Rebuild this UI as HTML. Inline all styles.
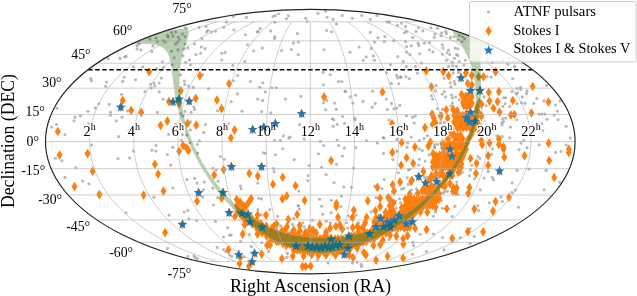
<!DOCTYPE html>
<html><head><meta charset="utf-8"><style>html,body{margin:0;padding:0;background:#fff;}svg{display:block;will-change:transform;}</style></head><body>
<svg xmlns="http://www.w3.org/2000/svg" width="637" height="296" viewBox="0 0 637 296">
<defs><clipPath id="c"><path d="M45.5,141.6 A264.8,132.2 0 1,0 575.1,141.6 A264.8,132.2 0 1,0 45.5,141.6 Z"/></clipPath><clipPath id="bc"><path d="M167.4,30.3 L163.9,31.4 L160.5,32.6 L157.1,33.8 L153.9,34.9 L150.7,36.1 L147.5,37.3 L144.4,38.5 L141.4,39.8 L138.5,41 L135.5,42.3 L132.7,43.5 L129.9,44.8 L130,44.8 L131.2,44.7 L132.3,44.6 L133.5,44.4 L134.6,44.3 L135.8,44.2 L136.9,44.1 L137.9,44.1 L139,44 L140,43.9 L141.1,43.9 L142.1,43.9 L143,43.8 L144,43.8 L144.9,43.8 L145.8,43.8 L146.7,43.9 L147.6,43.9 L148.5,43.9 L149.3,44 L150.1,44 L150.9,44.1 L151.6,44.2 L152.4,44.3 L153.1,44.4 L153.8,44.5 L154.5,44.6 L155.2,44.7 L155.8,44.9 L156.4,45 L157,45.2 L157.6,45.3 L158.2,45.5 L158.8,45.7 L159.3,45.9 L159.8,46.1 L160.3,46.3 L160.8,46.6 L161.2,46.8 L161.7,47 L162.1,47.3 L162.5,47.6 L162.9,47.8 L163.3,48.1 L163.7,48.4 L164.1,48.7 L164.4,49 L164.7,49.3 L165.1,49.6 L165.4,50 L165.7,50.3 L166,50.7 L166.2,51 L166.5,51.4 L166.8,51.8 L167,52.1 L167.2,52.5 L167.5,52.9 L167.7,53.3 L167.9,53.7 L168.1,54.2 L168.3,54.6 L168.5,55 L168.6,55.4 L168.8,55.9 L169,56.3 L169.1,56.8 L169.3,57.3 L169.4,57.7 L169.5,58.2 L169.7,58.7 L169.8,59.2 L169.9,59.7 L170.1,60.2 L170.2,60.7 L170.3,61.2 L170.4,61.7 L170.5,62.2 L170.6,62.8 L170.7,63.3 L170.8,63.8 L170.9,64.4 L171,64.9 L171.1,65.5 L171.1,66 L171.2,66.6 L171.3,67.2 L171.4,67.7 L171.5,68.3 L171.6,68.9 L171.6,69.5 L171.7,70.1 L171.8,70.7 L171.9,71.3 L171.9,71.9 L172,72.5 L172.1,73.1 L172.2,73.7 L172.2,74.4 L172.3,75 L172.4,75.6 L172.5,76.3 L172.5,76.9 L172.6,77.5 L172.7,78.2 L172.8,78.8 L172.9,79.5 L172.9,80.1 L173,80.8 L173.1,81.5 L173.2,82.1 L173.3,82.8 L173.4,83.5 L173.5,84.2 L173.5,84.8 L173.6,85.5 L173.7,86.2 L173.8,86.9 L173.9,87.6 L174,88.3 L174.1,89 L174.2,89.7 L174.3,90.4 L174.4,91.1 L174.6,91.8 L174.7,92.5 L174.8,93.2 L174.9,94 L175,94.7 L175.2,95.4 L175.3,96.1 L175.4,96.9 L175.5,97.6 L175.7,98.3 L175.8,99 L176,99.8 L176.1,100.5 L176.3,101.3 L176.4,102 L176.6,102.8 L176.7,103.5 L176.9,104.2 L177,105 L177.2,105.7 L177.4,106.5 L177.5,107.3 L177.7,108 L177.9,108.8 L178.1,109.5 L178.3,110.3 L178.4,111.1 L178.6,111.8 L178.8,112.6 L179,113.4 L179.2,114.1 L179.4,114.9 L179.6,115.7 L179.9,116.5 L180.1,117.2 L180.3,118 L180.5,118.8 L180.7,119.6 L181,120.4 L181.2,121.1 L181.5,121.9 L181.7,122.7 L181.9,123.5 L182.2,124.3 L182.4,125.1 L182.7,125.9 L183,126.7 L183.2,127.5 L183.5,128.2 L183.8,129 L184,129.8 L184.3,130.6 L184.6,131.4 L184.9,132.2 L185.2,133 L185.5,133.8 L185.8,134.6 L186.1,135.4 L186.4,136.2 L186.7,137 L187,137.8 L187.3,138.6 L187.7,139.4 L188,140.2 L188.3,141 L188.6,141.8 L189,142.6 L189.3,143.4 L189.7,144.2 L190,145 L190.4,145.8 L190.7,146.6 L191.1,147.4 L191.5,148.2 L191.8,149.1 L192.2,149.9 L192.6,150.7 L193,151.5 L193.4,152.3 L193.7,153.1 L194.1,153.9 L194.5,154.7 L194.9,155.5 L195.4,156.3 L195.8,157.1 L196.2,157.9 L196.6,158.7 L197,159.5 L197.5,160.3 L197.9,161.1 L198.3,161.9 L198.8,162.7 L199.2,163.5 L199.7,164.3 L200.1,165.1 L200.6,165.9 L201,166.7 L201.5,167.5 L202,168.3 L202.4,169.1 L202.9,169.9 L203.4,170.7 L203.9,171.5 L204.4,172.3 L204.9,173 L205.4,173.8 L205.9,174.6 L206.4,175.4 L206.9,176.2 L207.4,177 L207.9,177.8 L208.4,178.6 L209,179.3 L209.5,180.1 L210,180.9 L210.6,181.7 L211.1,182.5 L211.7,183.2 L212.2,184 L212.8,184.8 L213.3,185.6 L213.9,186.3 L214.5,187.1 L215.1,187.9 L215.6,188.6 L216.2,189.4 L216.8,190.2 L217.4,190.9 L218,191.7 L218.6,192.4 L219.2,193.2 L219.8,193.9 L220.4,194.7 L221,195.4 L221.6,196.2 L222.3,196.9 L222.9,197.7 L223.5,198.4 L224.2,199.2 L224.8,199.9 L225.5,200.6 L226.1,201.4 L226.8,202.1 L227.4,202.8 L228.1,203.6 L228.7,204.3 L229.4,205 L230.1,205.7 L230.8,206.4 L231.5,207.2 L232.1,207.9 L232.8,208.6 L233.5,209.3 L234.2,210 L234.9,210.7 L235.6,211.4 L236.4,212.1 L237.1,212.8 L237.8,213.5 L238.5,214.2 L239.2,214.8 L240,215.5 L240.7,216.2 L241.5,216.9 L242.2,217.5 L243,218.2 L243.7,218.9 L244.5,219.5 L245.2,220.2 L246,220.8 L246.8,221.5 L247.6,222.1 L248.3,222.8 L249.1,223.4 L249.9,224 L250.7,224.7 L251.5,225.3 L252.3,225.9 L253.1,226.5 L253.9,227.2 L254.7,227.8 L255.5,228.4 L256.4,229 L257.2,229.6 L258,230.1 L258.9,230.7 L259.7,231.3 L260.5,231.9 L261.4,232.5 L262.2,233 L263.1,233.6 L263.9,234.1 L264.8,234.7 L265.7,235.2 L266.5,235.8 L267.4,236.3 L268.3,236.8 L269.2,237.4 L270.1,237.9 L270.9,238.4 L271.8,238.9 L272.7,239.4 L273.6,239.9 L274.5,240.4 L275.4,240.8 L276.4,241.3 L277.3,241.8 L278.2,242.2 L279.1,242.7 L280,243.1 L281,243.6 L281.9,244 L282.8,244.4 L283.8,244.8 L284.7,245.2 L285.7,245.6 L286.6,246 L287.6,246.4 L288.5,246.7 L289.5,247.1 L290.4,247.4 L291.4,247.8 L292.4,248.1 L293.3,248.4 L294.3,248.8 L295.3,249.1 L296.3,249.3 L297.3,249.6 L298.2,249.9 L299.2,250.2 L300.2,250.4 L301.2,250.6 L302.2,250.9 L303.2,251.1 L304.2,251.3 L305.2,251.5 L306.2,251.7 L307.2,251.8 L308.3,252 L309.3,252.1 L310.3,252.3 L311.3,252.4 L312.3,252.5 L313.4,252.6 L314.4,252.7 L315.4,252.7 L316.5,252.8 L317.5,252.8 L318.6,252.9 L319.6,252.9 L320.7,252.9 L321.7,252.9 L322.8,252.9 L323.8,252.8 L324.9,252.8 L325.9,252.7 L327,252.7 L328.1,252.6 L329.1,252.5 L330.2,252.4 L331.3,252.2 L332.4,252.1 L333.5,252 L334.5,251.8 L335.6,251.6 L336.7,251.4 L337.8,251.2 L338.9,251 L340,250.8 L341.1,250.6 L342.2,250.3 L343.3,250.1 L344.4,249.8 L345.4,249.6 L346.5,249.3 L347.6,249 L348.7,248.7 L349.8,248.4 L350.9,248 L352,247.7 L353.1,247.4 L354.2,247 L355.3,246.6 L356.4,246.3 L357.5,245.9 L358.6,245.5 L359.7,245.1 L360.8,244.7 L361.8,244.3 L362.9,243.9 L364,243.4 L365.1,243 L366.2,242.6 L367.2,242.1 L368.3,241.6 L369.4,241.2 L370.4,240.7 L371.5,240.2 L372.6,239.7 L373.6,239.3 L374.7,238.8 L375.7,238.2 L376.8,237.7 L377.8,237.2 L378.8,236.7 L379.9,236.2 L380.9,235.6 L381.9,235.1 L382.9,234.5 L384,234 L385,233.4 L386,232.9 L387,232.3 L388,231.7 L389,231.2 L390,230.6 L390.9,230 L391.9,229.4 L392.9,228.8 L393.9,228.2 L394.8,227.6 L395.8,227 L396.7,226.4 L397.7,225.8 L398.6,225.1 L399.6,224.5 L400.5,223.9 L401.5,223.2 L402.4,222.6 L403.3,222 L404.2,221.3 L405.1,220.7 L406,220 L406.9,219.3 L407.8,218.7 L408.7,218 L409.6,217.4 L410.5,216.7 L411.4,216 L412.2,215.3 L413.1,214.7 L413.9,214 L414.8,213.3 L415.6,212.6 L416.5,211.9 L417.3,211.2 L418.1,210.5 L419,209.8 L419.8,209.1 L420.6,208.4 L421.4,207.7 L422.2,207 L423,206.3 L423.8,205.5 L424.6,204.8 L425.4,204.1 L426.2,203.4 L426.9,202.6 L427.7,201.9 L428.5,201.2 L429.2,200.4 L430,199.7 L430.7,199 L431.4,198.2 L432.2,197.5 L432.9,196.7 L433.6,196 L434.3,195.2 L435,194.5 L435.7,193.7 L436.4,193 L437.1,192.2 L437.8,191.5 L438.5,190.7 L439.2,189.9 L439.8,189.2 L440.5,188.4 L441.2,187.7 L441.8,186.9 L442.5,186.1 L443.1,185.3 L443.8,184.6 L444.4,183.8 L445,183 L445.6,182.2 L446.2,181.5 L446.9,180.7 L447.5,179.9 L448.1,179.1 L448.6,178.3 L449.2,177.6 L449.8,176.8 L450.4,176 L451,175.2 L451.5,174.4 L452.1,173.6 L452.6,172.8 L453.2,172 L453.7,171.2 L454.3,170.5 L454.8,169.7 L455.3,168.9 L455.8,168.1 L456.4,167.3 L456.9,166.5 L457.4,165.7 L457.9,164.9 L458.4,164.1 L458.8,163.3 L459.3,162.5 L459.8,161.7 L460.3,160.9 L460.7,160.1 L461.2,159.3 L461.6,158.5 L462.1,157.7 L462.5,156.9 L463,156.1 L463.4,155.3 L463.8,154.5 L464.2,153.7 L464.7,152.9 L465.1,152 L465.5,151.2 L465.9,150.4 L466.3,149.6 L466.6,148.8 L467,148 L467.4,147.2 L467.8,146.4 L468.1,145.6 L468.5,144.8 L468.9,144 L469.2,143.2 L469.5,142.4 L469.9,141.6 L470.2,140.8 L470.5,140 L470.9,139.2 L471.2,138.4 L471.5,137.6 L471.8,136.8 L472.1,136 L472.4,135.2 L472.7,134.4 L473,133.6 L473.3,132.8 L473.5,132 L473.8,131.2 L474.1,130.4 L474.3,129.6 L474.6,128.8 L474.8,128 L475.1,127.2 L475.3,126.4 L475.5,125.7 L475.8,124.9 L476,124.1 L476.2,123.3 L476.4,122.5 L476.6,121.7 L476.8,120.9 L477,120.2 L477.2,119.4 L477.4,118.6 L477.6,117.8 L477.8,117 L477.9,116.3 L478.1,115.5 L478.3,114.7 L478.4,113.9 L478.6,113.2 L478.7,112.4 L478.9,111.6 L479,110.9 L479.1,110.1 L479.3,109.3 L479.4,108.6 L479.5,107.8 L479.6,107.1 L479.7,106.3 L479.8,105.5 L480,104.8 L480.1,104 L480.1,103.3 L480.2,102.5 L480.3,101.8 L480.4,101.1 L480.5,100.3 L480.6,99.6 L480.6,98.8 L480.7,98.1 L480.7,97.4 L480.8,96.7 L480.9,95.9 L480.9,95.2 L481,94.5 L481,93.8 L481,93 L481.1,92.3 L481.1,91.6 L481.1,90.9 L481.1,90.2 L481.2,89.5 L481.2,88.8 L481.2,88.1 L481.2,87.4 L481.2,86.7 L481.2,86 L481.2,85.3 L481.2,84.7 L481.2,84 L481.2,83.3 L481.2,82.6 L481.2,82 L481.2,81.3 L481.2,80.6 L481.2,80 L481.1,79.3 L481.1,78.7 L481.1,78 L481.1,77.4 L481,76.7 L481,76.1 L481,75.5 L481,74.8 L480.9,74.2 L480.9,73.6 L480.9,73 L480.8,72.3 L480.8,71.7 L480.8,71.1 L480.7,70.5 L480.7,69.9 L480.7,69.3 L480.6,68.8 L480.6,68.2 L480.6,67.6 L480.5,67 L480.5,66.4 L480.5,65.9 L480.5,65.3 L480.4,64.8 L480.4,64.2 L480.4,63.7 L480.4,63.1 L480.4,62.6 L480.4,62.1 L480.4,61.6 L480.3,61 L480.3,60.5 L480.4,60 L480.4,59.5 L480.4,59 L480.4,58.6 L480.4,58.1 L480.4,57.6 L480.5,57.1 L480.5,56.7 L480.6,56.2 L480.6,55.8 L480.7,55.3 L480.8,54.9 L480.8,54.5 L480.9,54 L481,53.6 L481.1,53.2 L481.2,52.8 L481.4,52.4 L481.5,52 L481.6,51.7 L481.8,51.3 L482,50.9 L482.2,50.6 L482.3,50.2 L482.6,49.9 L482.8,49.6 L483,49.2 L483.3,48.9 L483.5,48.6 L483.8,48.3 L484.1,48 L484.4,47.8 L484.7,47.5 L485.1,47.2 L485.4,47 L485.8,46.7 L486.2,46.5 L486.6,46.3 L487.1,46.1 L487.5,45.9 L488,45.7 L488.5,45.5 L489,45.3 L489.6,45.1 L490.1,45 L491,45 L488.2,43.7 L485.4,42.4 L482.5,41.2 L479.6,39.9 L476.6,38.7 L473.5,37.5 L470.4,36.3 L467.2,35.1 L464,33.9 L460.6,32.8 L457.3,31.6 L453.8,30.5 L453.1,30.5 L453,30.7 L452.9,30.9 L452.9,31.1 L452.9,31.4 L452.9,31.6 L452.9,31.9 L453,32.1 L453,32.4 L453.2,32.7 L453.3,33 L453.4,33.3 L453.6,33.6 L453.7,33.9 L453.9,34.3 L454.1,34.6 L454.4,35 L454.6,35.3 L454.8,35.7 L455.1,36.1 L455.4,36.5 L455.6,36.9 L455.9,37.3 L456.2,37.7 L456.5,38.1 L456.8,38.6 L457.1,39 L457.4,39.5 L457.7,39.9 L458.1,40.4 L458.4,40.8 L458.7,41.3 L459,41.8 L459.4,42.3 L459.7,42.8 L460,43.3 L460.4,43.8 L460.7,44.3 L461,44.8 L461.4,45.4 L461.7,45.9 L462,46.4 L462.4,47 L462.7,47.5 L463,48.1 L463.4,48.6 L463.7,49.2 L464,49.8 L464.3,50.4 L464.7,50.9 L465,51.5 L465.3,52.1 L465.6,52.7 L465.9,53.3 L466.2,53.9 L466.5,54.5 L466.8,55.1 L467.1,55.7 L467.4,56.4 L467.7,57 L468,57.6 L468.2,58.3 L468.5,58.9 L468.8,59.5 L469,60.2 L469.3,60.8 L469.6,61.5 L469.8,62.1 L470,62.8 L470.3,63.5 L470.5,64.1 L470.8,64.8 L471,65.5 L471.2,66.1 L471.4,66.8 L471.6,67.5 L471.8,68.2 L472,68.9 L472.2,69.6 L472.4,70.3 L472.6,71 L472.8,71.7 L473,72.4 L473.2,73.1 L473.3,73.8 L473.5,74.5 L473.6,75.2 L473.8,75.9 L473.9,76.6 L474.1,77.4 L474.2,78.1 L474.3,78.8 L474.5,79.5 L474.6,80.3 L474.7,81 L474.8,81.7 L474.9,82.5 L475,83.2 L475.1,84 L475.2,84.7 L475.2,85.4 L475.3,86.2 L475.4,86.9 L475.4,87.7 L475.5,88.4 L475.5,89.2 L475.6,90 L475.6,90.7 L475.7,91.5 L475.7,92.2 L475.7,93 L475.7,93.8 L475.7,94.5 L475.7,95.3 L475.7,96.1 L475.7,96.8 L475.7,97.6 L475.7,98.4 L475.7,99.2 L475.7,99.9 L475.6,100.7 L475.6,101.5 L475.5,102.3 L475.5,103.1 L475.4,103.8 L475.4,104.6 L475.3,105.4 L475.2,106.2 L475.1,107 L475.1,107.8 L475,108.6 L474.9,109.4 L474.8,110.1 L474.6,110.9 L474.5,111.7 L474.4,112.5 L474.3,113.3 L474.2,114.1 L474,114.9 L473.9,115.7 L473.7,116.5 L473.6,117.3 L473.4,118.1 L473.2,118.9 L473.1,119.7 L472.9,120.5 L472.7,121.3 L472.5,122.1 L472.3,122.9 L472.1,123.7 L471.9,124.5 L471.7,125.3 L471.5,126.1 L471.2,126.9 L471,127.7 L470.8,128.5 L470.5,129.3 L470.3,130.1 L470,130.9 L469.8,131.7 L469.5,132.5 L469.2,133.3 L469,134.1 L468.7,134.9 L468.4,135.7 L468.1,136.5 L467.8,137.3 L467.5,138.1 L467.2,138.9 L466.9,139.7 L466.5,140.6 L466.2,141.4 L465.9,142.2 L465.5,143 L465.2,143.8 L464.8,144.6 L464.5,145.4 L464.1,146.1 L463.8,146.9 L463.4,147.7 L463,148.5 L462.6,149.3 L462.2,150.1 L461.8,150.9 L461.4,151.7 L461,152.5 L460.6,153.3 L460.2,154.1 L459.8,154.9 L459.4,155.7 L458.9,156.5 L458.5,157.3 L458,158 L457.6,158.8 L457.1,159.6 L456.7,160.4 L456.2,161.2 L455.7,162 L455.2,162.7 L454.8,163.5 L454.3,164.3 L453.8,165.1 L453.3,165.8 L452.8,166.6 L452.3,167.4 L451.7,168.2 L451.2,168.9 L450.7,169.7 L450.1,170.5 L449.6,171.2 L449.1,172 L448.5,172.7 L448,173.5 L447.4,174.3 L446.8,175 L446.3,175.8 L445.7,176.5 L445.1,177.3 L444.5,178 L443.9,178.8 L443.3,179.5 L442.7,180.3 L442.1,181 L441.5,181.7 L440.9,182.5 L440.2,183.2 L439.6,183.9 L439,184.7 L438.3,185.4 L437.7,186.1 L437,186.8 L436.4,187.6 L435.7,188.3 L435.1,189 L434.4,189.7 L433.7,190.4 L433,191.1 L432.3,191.8 L431.6,192.5 L430.9,193.2 L430.2,193.9 L429.5,194.6 L428.8,195.3 L428.1,196 L427.4,196.7 L426.6,197.3 L425.9,198 L425.2,198.7 L424.4,199.4 L423.7,200 L422.9,200.7 L422.1,201.3 L421.4,202 L420.6,202.7 L419.8,203.3 L419,204 L418.3,204.6 L417.5,205.2 L416.7,205.9 L415.9,206.5 L415.1,207.1 L414.2,207.7 L413.4,208.4 L412.6,209 L411.8,209.6 L410.9,210.2 L410.1,210.8 L409.2,211.4 L408.4,212 L407.5,212.6 L406.7,213.2 L405.8,213.7 L404.9,214.3 L404.1,214.9 L403.2,215.5 L402.3,216 L401.4,216.6 L400.5,217.1 L399.6,217.7 L398.7,218.2 L397.8,218.7 L396.8,219.3 L395.9,219.8 L395,220.3 L394,220.8 L393.1,221.3 L392.1,221.8 L391.2,222.3 L390.2,222.8 L389.3,223.3 L388.3,223.8 L387.3,224.2 L386.3,224.7 L385.3,225.2 L384.3,225.6 L383.3,226.1 L382.3,226.5 L381.3,226.9 L380.3,227.4 L379.2,227.8 L378.2,228.2 L377.1,228.6 L376.1,229 L375,229.4 L373.9,229.8 L372.9,230.1 L371.8,230.5 L370.7,230.9 L369.6,231.2 L368.5,231.5 L367.3,231.9 L366.2,232.2 L365.1,232.5 L363.9,232.8 L362.8,233.1 L361.6,233.4 L360.5,233.7 L359.3,234 L358.1,234.3 L356.9,234.5 L355.7,234.8 L354.5,235 L353.3,235.3 L352,235.5 L350.8,235.7 L349.6,235.9 L348.3,236.1 L347.1,236.3 L345.8,236.4 L344.5,236.6 L343.2,236.8 L341.9,236.9 L340.6,237.1 L339.3,237.2 L338,237.3 L336.7,237.4 L335.4,237.5 L334.1,237.6 L332.8,237.7 L331.4,237.7 L330.1,237.8 L328.8,237.8 L327.4,237.9 L326.1,237.9 L324.8,237.9 L323.4,237.9 L322.1,237.9 L320.8,237.9 L319.4,237.9 L318.1,237.9 L316.8,237.8 L315.5,237.8 L314.2,237.7 L312.9,237.6 L311.6,237.5 L310.3,237.4 L309,237.3 L307.7,237.2 L306.5,237.1 L305.2,237 L304,236.8 L302.7,236.7 L301.5,236.5 L300.3,236.3 L299.1,236.1 L297.9,235.9 L296.7,235.7 L295.5,235.5 L294.3,235.3 L293.2,235.1 L292,234.8 L290.9,234.6 L289.8,234.3 L288.7,234.1 L287.6,233.8 L286.5,233.5 L285.4,233.2 L284.3,232.9 L283.3,232.6 L282.2,232.3 L281.2,232 L280.1,231.6 L279.1,231.3 L278.1,230.9 L277.1,230.6 L276.1,230.2 L275.1,229.9 L274.2,229.5 L273.2,229.1 L272.2,228.7 L271.3,228.3 L270.3,227.9 L269.4,227.5 L268.5,227 L267.6,226.6 L266.6,226.2 L265.7,225.7 L264.8,225.3 L264,224.8 L263.1,224.4 L262.2,223.9 L261.3,223.4 L260.5,222.9 L259.6,222.5 L258.8,222 L257.9,221.5 L257.1,221 L256.2,220.4 L255.4,219.9 L254.6,219.4 L253.8,218.9 L253,218.3 L252.2,217.8 L251.4,217.3 L250.6,216.7 L249.8,216.2 L249,215.6 L248.2,215 L247.5,214.5 L246.7,213.9 L245.9,213.3 L245.2,212.7 L244.4,212.2 L243.7,211.6 L242.9,211 L242.2,210.4 L241.5,209.8 L240.8,209.1 L240,208.5 L239.3,207.9 L238.6,207.3 L237.9,206.7 L237.2,206 L236.5,205.4 L235.8,204.8 L235.1,204.1 L234.4,203.5 L233.7,202.8 L233.1,202.2 L232.4,201.5 L231.7,200.9 L231.1,200.2 L230.4,199.5 L229.7,198.9 L229.1,198.2 L228.4,197.5 L227.8,196.8 L227.2,196.2 L226.5,195.5 L225.9,194.8 L225.3,194.1 L224.7,193.4 L224,192.7 L223.4,192 L222.8,191.3 L222.2,190.6 L221.6,189.9 L221,189.2 L220.4,188.5 L219.9,187.8 L219.3,187 L218.7,186.3 L218.1,185.6 L217.5,184.9 L217,184.1 L216.4,183.4 L215.9,182.7 L215.3,181.9 L214.8,181.2 L214.2,180.5 L213.7,179.7 L213.1,179 L212.6,178.2 L212.1,177.5 L211.6,176.7 L211,176 L210.5,175.2 L210,174.5 L209.5,173.7 L209,173 L208.5,172.2 L208,171.4 L207.5,170.7 L207,169.9 L206.5,169.1 L206.1,168.4 L205.6,167.6 L205.1,166.8 L204.7,166.1 L204.2,165.3 L203.7,164.5 L203.3,163.7 L202.8,163 L202.4,162.2 L201.9,161.4 L201.5,160.6 L201.1,159.8 L200.6,159 L200.2,158.3 L199.8,157.5 L199.4,156.7 L199,155.9 L198.6,155.1 L198.2,154.3 L197.8,153.5 L197.4,152.7 L197,151.9 L196.6,151.1 L196.2,150.3 L195.8,149.6 L195.5,148.8 L195.1,148 L194.7,147.2 L194.4,146.4 L194,145.6 L193.7,144.8 L193.3,144 L193,143.2 L192.6,142.4 L192.3,141.6 L192,140.8 L191.7,140 L191.3,139.2 L191,138.4 L190.7,137.6 L190.4,136.8 L190.1,136 L189.8,135.2 L189.5,134.4 L189.2,133.5 L188.9,132.7 L188.6,131.9 L188.4,131.1 L188.1,130.3 L187.8,129.5 L187.5,128.7 L187.3,127.9 L187,127.1 L186.8,126.3 L186.5,125.5 L186.3,124.7 L186,123.9 L185.8,123.1 L185.6,122.3 L185.4,121.5 L185.1,120.7 L184.9,119.9 L184.7,119.1 L184.5,118.3 L184.3,117.5 L184.1,116.7 L183.9,115.9 L183.7,115.1 L183.5,114.3 L183.3,113.5 L183.1,112.7 L183,111.9 L182.8,111.2 L182.6,110.4 L182.5,109.6 L182.3,108.8 L182.2,108 L182,107.2 L181.9,106.4 L181.7,105.6 L181.6,104.8 L181.5,104.1 L181.3,103.3 L181.2,102.5 L181.1,101.7 L181,100.9 L180.9,100.2 L180.8,99.4 L180.7,98.6 L180.6,97.8 L180.5,97.1 L180.4,96.3 L180.3,95.5 L180.2,94.7 L180.2,94 L180.1,93.2 L180,92.4 L180,91.7 L179.9,90.9 L179.8,90.2 L179.8,89.4 L179.8,88.7 L179.7,87.9 L179.7,87.1 L179.6,86.4 L179.6,85.6 L179.6,84.9 L179.6,84.2 L179.6,83.4 L179.6,82.7 L179.5,81.9 L179.5,81.2 L179.5,80.5 L179.5,79.7 L179.6,79 L179.6,78.3 L179.6,77.6 L179.6,76.8 L179.6,76.1 L179.7,75.4 L179.7,74.7 L179.7,74 L179.8,73.3 L179.8,72.6 L179.9,71.9 L179.9,71.2 L180,70.5 L180.1,69.8 L180.1,69.1 L180.2,68.4 L180.3,67.7 L180.4,67 L180.4,66.3 L180.5,65.6 L180.6,65 L180.7,64.3 L180.8,63.6 L180.9,63 L181,62.3 L181.1,61.7 L181.2,61 L181.3,60.4 L181.5,59.7 L181.6,59.1 L181.7,58.4 L181.8,57.8 L182,57.2 L182.1,56.5 L182.2,55.9 L182.4,55.3 L182.5,54.7 L182.7,54.1 L182.8,53.5 L183,52.9 L183.1,52.3 L183.3,51.7 L183.4,51.1 L183.6,50.5 L183.8,49.9 L183.9,49.4 L184.1,48.8 L184.3,48.2 L184.4,47.7 L184.6,47.1 L184.8,46.6 L184.9,46 L185.1,45.5 L185.3,45 L185.5,44.5 L185.6,43.9 L185.8,43.4 L186,42.9 L186.2,42.4 L186.3,41.9 L186.5,41.5 L186.7,41 L186.8,40.5 L187,40 L187.2,39.6 L187.3,39.1 L187.5,38.7 L187.6,38.3 L187.8,37.8 L187.9,37.4 L188,37 L188.2,36.6 L188.3,36.2 L188.4,35.8 L188.5,35.4 L188.6,35.1 L188.7,34.7 L188.7,34.4 L188.8,34 L188.8,33.7 L188.9,33.4 L188.9,33.1 L188.9,32.8 L188.9,32.5 L188.9,32.2 L188.8,31.9 L188.7,31.7 L188.6,31.4 L188.5,31.2 L188.4,31 L188.2,30.7 L188,30.5 L187.8,30.4 L187.6,30.2 L187.3,30 L187,29.9 L186.7,29.7 L186.3,29.6 L185.9,29.5 L185.5,29.4 L185,29.3 L184.5,29.2 L184,29.2 L183.4,29.1 L182.8,29.1 L182.1,29.1 L181.4,29 L180.7,29.1 L179.9,29.1 L179.1,29.1 L178.2,29.1 L177.3,29.2 L176.4,29.3 L175.4,29.4 L174.4,29.5 L173.3,29.6 L172.2,29.7 L171.1,29.8 L169.9,30 L168.7,30.1 L167.4,30.3Z"/></clipPath></defs>
<rect width="637" height="296" fill="#fff"/>
<g clip-path="url(#c)">
<g fill="#8c8c8c" fill-opacity="0.62"><circle cx="133.5" cy="151.1" r="1.55"/><circle cx="151.9" cy="150.3" r="1.55"/><circle cx="155.9" cy="151.1" r="1.55"/><circle cx="167.4" cy="154.5" r="1.55"/><circle cx="170.7" cy="165.1" r="1.55"/><circle cx="129.6" cy="157.9" r="1.55"/><circle cx="197.7" cy="153" r="1.55"/><circle cx="186.9" cy="179.5" r="1.55"/><circle cx="194.7" cy="178.4" r="1.55"/><circle cx="197" cy="183.1" r="1.55"/><circle cx="204.4" cy="182" r="1.55"/><circle cx="172.8" cy="188" r="1.55"/><circle cx="153.8" cy="197.2" r="1.55"/><circle cx="126" cy="212.8" r="1.55"/><circle cx="169" cy="215.1" r="1.55"/><circle cx="184.2" cy="212" r="1.55"/><circle cx="187.8" cy="210.4" r="1.55"/><circle cx="188.9" cy="218.8" r="1.55"/><circle cx="196.5" cy="220.5" r="1.55"/><circle cx="203.5" cy="189.7" r="1.55"/><circle cx="202.7" cy="196.9" r="1.55"/><circle cx="185.1" cy="27.8" r="1.55"/><circle cx="186.7" cy="28.5" r="1.55"/><circle cx="199.1" cy="27.4" r="1.55"/><circle cx="206" cy="26.5" r="1.55"/><circle cx="206.7" cy="31.9" r="1.55"/><circle cx="208" cy="30.5" r="1.55"/><circle cx="211.4" cy="31.9" r="1.55"/><circle cx="215.5" cy="31.2" r="1.55"/><circle cx="171.5" cy="32.6" r="1.55"/><circle cx="175.6" cy="31.9" r="1.55"/><circle cx="167.5" cy="35.3" r="1.55"/><circle cx="168.2" cy="36.9" r="1.55"/><circle cx="172.9" cy="35.9" r="1.55"/><circle cx="178.3" cy="37.3" r="1.55"/><circle cx="182.4" cy="33.9" r="1.55"/><circle cx="185.1" cy="36.6" r="1.55"/><circle cx="163.4" cy="40.7" r="1.55"/><circle cx="165.5" cy="42" r="1.55"/><circle cx="157.4" cy="41.4" r="1.55"/><circle cx="156" cy="38" r="1.55"/><circle cx="149.9" cy="39.3" r="1.55"/><circle cx="177.6" cy="42" r="1.55"/><circle cx="179.6" cy="40" r="1.55"/><circle cx="175.6" cy="44.1" r="1.55"/><circle cx="185.1" cy="44.1" r="1.55"/><circle cx="184" cy="48.9" r="1.55"/><circle cx="187.8" cy="47.9" r="1.55"/><circle cx="178.1" cy="49.8" r="1.55"/><circle cx="171.5" cy="51.3" r="1.55"/><circle cx="153" cy="45.9" r="1.55"/><circle cx="151.9" cy="51.5" r="1.55"/><circle cx="140.9" cy="49.9" r="1.55"/><circle cx="137.1" cy="48.9" r="1.55"/><circle cx="139.1" cy="44.1" r="1.55"/><circle cx="194.5" cy="44.1" r="1.55"/><circle cx="201.3" cy="47" r="1.55"/><circle cx="205.1" cy="48.6" r="1.55"/><circle cx="201.9" cy="38.6" r="1.55"/><circle cx="200.6" cy="53.3" r="1.55"/><circle cx="137.1" cy="45.7" r="1.55"/><circle cx="195.9" cy="54.5" r="1.55"/><circle cx="183" cy="55.8" r="1.55"/><circle cx="174.2" cy="57.8" r="1.55"/><circle cx="162.4" cy="61.9" r="1.55"/><circle cx="185.7" cy="62.3" r="1.55"/><circle cx="189.4" cy="60.1" r="1.55"/><circle cx="190.5" cy="65" r="1.55"/><circle cx="172.2" cy="64.6" r="1.55"/><circle cx="133.5" cy="66.8" r="1.55"/><circle cx="142.7" cy="66.8" r="1.55"/><circle cx="163.4" cy="67.3" r="1.55"/><circle cx="156.7" cy="68.6" r="1.55"/><circle cx="180.3" cy="74.7" r="1.55"/><circle cx="161.4" cy="78.1" r="1.55"/><circle cx="135.6" cy="79.7" r="1.55"/><circle cx="150.6" cy="84.2" r="1.55"/><circle cx="154" cy="83.1" r="1.55"/><circle cx="159.1" cy="83" r="1.55"/><circle cx="184.4" cy="81.1" r="1.55"/><circle cx="184.8" cy="84.5" r="1.55"/><circle cx="202.6" cy="74.7" r="1.55"/><circle cx="175.7" cy="124.2" r="1.55"/><circle cx="190.5" cy="121.8" r="1.55"/><circle cx="190.3" cy="129.9" r="1.55"/><circle cx="186.5" cy="135.3" r="1.55"/><circle cx="182.4" cy="134.6" r="1.55"/><circle cx="168.6" cy="134.3" r="1.55"/><circle cx="205.4" cy="124.5" r="1.55"/><circle cx="203.8" cy="132.6" r="1.55"/><circle cx="181.4" cy="140.4" r="1.55"/><circle cx="199.3" cy="140.9" r="1.55"/><circle cx="197.3" cy="144.5" r="1.55"/><circle cx="189.9" cy="142.7" r="1.55"/><circle cx="172.7" cy="147.4" r="1.55"/><circle cx="156.1" cy="145.4" r="1.55"/><circle cx="228.4" cy="123.8" r="1.55"/><circle cx="215.5" cy="221.4" r="1.55"/><circle cx="227.5" cy="227.7" r="1.55"/><circle cx="229.5" cy="235.2" r="1.55"/><circle cx="231.1" cy="235.1" r="1.55"/><circle cx="223.6" cy="237" r="1.55"/><circle cx="167.6" cy="248.4" r="1.55"/><circle cx="217.2" cy="247.4" r="1.55"/><circle cx="223.6" cy="249.5" r="1.55"/><circle cx="225.7" cy="251.8" r="1.55"/><circle cx="229.7" cy="255.1" r="1.55"/><circle cx="231.8" cy="256.5" r="1.55"/><circle cx="187.8" cy="256.2" r="1.55"/><circle cx="193.9" cy="255.8" r="1.55"/><circle cx="195.3" cy="257.6" r="1.55"/><circle cx="197.3" cy="258.5" r="1.55"/><circle cx="154.7" cy="86.1" r="1.55"/><circle cx="151.4" cy="88.1" r="1.55"/><circle cx="159.2" cy="91.9" r="1.55"/><circle cx="163.2" cy="99.3" r="1.55"/><circle cx="157.4" cy="112.4" r="1.55"/><circle cx="188.5" cy="86.1" r="1.55"/><circle cx="193.2" cy="87.4" r="1.55"/><circle cx="208.4" cy="88.8" r="1.55"/><circle cx="231.2" cy="101.8" r="1.55"/><circle cx="217.6" cy="110.8" r="1.55"/><circle cx="193.9" cy="107" r="1.55"/><circle cx="194.6" cy="109.5" r="1.55"/><circle cx="191.2" cy="112.2" r="1.55"/><circle cx="184.9" cy="111.4" r="1.55"/><circle cx="180.8" cy="113.8" r="1.55"/><circle cx="183.1" cy="115.8" r="1.55"/><circle cx="220.3" cy="156.5" r="1.55"/><circle cx="224.3" cy="159.2" r="1.55"/><circle cx="212.8" cy="168.2" r="1.55"/><circle cx="216.2" cy="170" r="1.55"/><circle cx="218.2" cy="181.3" r="1.55"/><circle cx="263.5" cy="152.8" r="1.55"/><circle cx="265.5" cy="153.4" r="1.55"/><circle cx="275.4" cy="154.7" r="1.55"/><circle cx="282.8" cy="148.8" r="1.55"/><circle cx="273.6" cy="168.6" r="1.55"/><circle cx="274.1" cy="171.8" r="1.55"/><circle cx="257.8" cy="183.1" r="1.55"/><circle cx="240.5" cy="186.1" r="1.55"/><circle cx="241.2" cy="188.8" r="1.55"/><circle cx="217.6" cy="197.6" r="1.55"/><circle cx="213.5" cy="205" r="1.55"/><circle cx="258.8" cy="198.2" r="1.55"/><circle cx="261.5" cy="198.9" r="1.55"/><circle cx="257.9" cy="209.6" r="1.55"/><circle cx="269.8" cy="209.5" r="1.55"/><circle cx="277.6" cy="216.2" r="1.55"/><circle cx="212.8" cy="188.1" r="1.55"/><circle cx="240.6" cy="241.5" r="1.55"/><circle cx="251.4" cy="246.6" r="1.55"/><circle cx="261.9" cy="242.8" r="1.55"/><circle cx="247.6" cy="44.7" r="1.55"/><circle cx="221.7" cy="53.2" r="1.55"/><circle cx="225.1" cy="52.4" r="1.55"/><circle cx="221.7" cy="60" r="1.55"/><circle cx="232.9" cy="65.4" r="1.55"/><circle cx="244.7" cy="61.4" r="1.55"/><circle cx="253.5" cy="50.8" r="1.55"/><circle cx="262.3" cy="48.1" r="1.55"/><circle cx="281.6" cy="50.5" r="1.55"/><circle cx="291.3" cy="49.5" r="1.55"/><circle cx="293.4" cy="42.9" r="1.55"/><circle cx="298.4" cy="42.1" r="1.55"/><circle cx="298.1" cy="54.6" r="1.55"/><circle cx="237.6" cy="75.5" r="1.55"/><circle cx="268.4" cy="69.1" r="1.55"/><circle cx="233.2" cy="16.5" r="1.55"/><circle cx="246.5" cy="17.4" r="1.55"/><circle cx="273.1" cy="16.5" r="1.55"/><circle cx="275.4" cy="15.5" r="1.55"/><circle cx="278.5" cy="13.8" r="1.55"/><circle cx="288.4" cy="15.8" r="1.55"/><circle cx="286.6" cy="18.8" r="1.55"/><circle cx="226.5" cy="21.9" r="1.55"/><circle cx="223.8" cy="27.3" r="1.55"/><circle cx="233.9" cy="30" r="1.55"/><circle cx="245.4" cy="34.7" r="1.55"/><circle cx="257.3" cy="32" r="1.55"/><circle cx="260.2" cy="28.6" r="1.55"/><circle cx="258.2" cy="31.4" r="1.55"/><circle cx="270.8" cy="30.9" r="1.55"/><circle cx="274.8" cy="22.3" r="1.55"/><circle cx="274.8" cy="36.8" r="1.55"/><circle cx="274.4" cy="38.5" r="1.55"/><circle cx="297.4" cy="33.6" r="1.55"/><circle cx="242" cy="111.3" r="1.55"/><circle cx="261.6" cy="111.6" r="1.55"/><circle cx="270.8" cy="112.9" r="1.55"/><circle cx="299.6" cy="124.6" r="1.55"/><circle cx="283.4" cy="135.9" r="1.55"/><circle cx="288.8" cy="138.1" r="1.55"/><circle cx="290.1" cy="137" r="1.55"/><circle cx="304.2" cy="139.1" r="1.55"/><circle cx="274.6" cy="140.4" r="1.55"/><circle cx="280.3" cy="140.4" r="1.55"/><circle cx="233.4" cy="80.7" r="1.55"/><circle cx="250.5" cy="81.5" r="1.55"/><circle cx="262.7" cy="82.8" r="1.55"/><circle cx="259.7" cy="87.2" r="1.55"/><circle cx="271.9" cy="87.8" r="1.55"/><circle cx="276.2" cy="87.8" r="1.55"/><circle cx="265.4" cy="91.9" r="1.55"/><circle cx="237.4" cy="93.9" r="1.55"/><circle cx="257.7" cy="99.1" r="1.55"/><circle cx="262.7" cy="100.4" r="1.55"/><circle cx="285.4" cy="99.1" r="1.55"/><circle cx="300.9" cy="96.4" r="1.55"/><circle cx="294.2" cy="159.6" r="1.55"/><circle cx="309.1" cy="165.5" r="1.55"/><circle cx="308.1" cy="175.8" r="1.55"/><circle cx="307.7" cy="180.5" r="1.55"/><circle cx="318.5" cy="153.8" r="1.55"/><circle cx="321.6" cy="167.3" r="1.55"/><circle cx="326.2" cy="174.5" r="1.55"/><circle cx="334" cy="182.8" r="1.55"/><circle cx="336.5" cy="164.2" r="1.55"/><circle cx="342.4" cy="156.1" r="1.55"/><circle cx="344.3" cy="147.9" r="1.55"/><circle cx="338.6" cy="145.5" r="1.55"/><circle cx="323.6" cy="145.5" r="1.55"/><circle cx="355.7" cy="147.5" r="1.55"/><circle cx="353.6" cy="168" r="1.55"/><circle cx="298.8" cy="191.1" r="1.55"/><circle cx="298.2" cy="205.7" r="1.55"/><circle cx="298.4" cy="205.7" r="1.55"/><circle cx="299.5" cy="209.1" r="1.55"/><circle cx="343.8" cy="187" r="1.55"/><circle cx="351.5" cy="187.4" r="1.55"/><circle cx="341.4" cy="196.2" r="1.55"/><circle cx="319.5" cy="199.2" r="1.55"/><circle cx="331.3" cy="200.3" r="1.55"/><circle cx="321.6" cy="206.2" r="1.55"/><circle cx="322.7" cy="214.3" r="1.55"/><circle cx="331.2" cy="212.8" r="1.55"/><circle cx="340.9" cy="206.5" r="1.55"/><circle cx="348.7" cy="216" r="1.55"/><circle cx="356.1" cy="215.3" r="1.55"/><circle cx="371.1" cy="211.8" r="1.55"/><circle cx="325.7" cy="109.7" r="1.55"/><circle cx="336.3" cy="109.3" r="1.55"/><circle cx="332.2" cy="118.8" r="1.55"/><circle cx="333.8" cy="119.7" r="1.55"/><circle cx="342.6" cy="116.5" r="1.55"/><circle cx="337.2" cy="124.2" r="1.55"/><circle cx="333.1" cy="126.2" r="1.55"/><circle cx="344.6" cy="123.2" r="1.55"/><circle cx="354.7" cy="118.1" r="1.55"/><circle cx="355.1" cy="119.7" r="1.55"/><circle cx="320.3" cy="141.4" r="1.55"/><circle cx="337.2" cy="140" r="1.55"/><circle cx="366.5" cy="140.8" r="1.55"/><circle cx="377.4" cy="143" r="1.55"/><circle cx="383.2" cy="137.6" r="1.55"/><circle cx="383.8" cy="138" r="1.55"/><circle cx="323.9" cy="49.7" r="1.55"/><circle cx="350" cy="52.2" r="1.55"/><circle cx="359.1" cy="47" r="1.55"/><circle cx="371.2" cy="48.4" r="1.55"/><circle cx="374.5" cy="42.1" r="1.55"/><circle cx="384.2" cy="41.6" r="1.55"/><circle cx="366.2" cy="56.9" r="1.55"/><circle cx="363.1" cy="60.3" r="1.55"/><circle cx="373.3" cy="55.9" r="1.55"/><circle cx="374.4" cy="60.3" r="1.55"/><circle cx="323.3" cy="72.4" r="1.55"/><circle cx="330.2" cy="74.7" r="1.55"/><circle cx="386.5" cy="72.7" r="1.55"/><circle cx="305.7" cy="18.2" r="1.55"/><circle cx="307.1" cy="21.2" r="1.55"/><circle cx="317.9" cy="13.4" r="1.55"/><circle cx="325.7" cy="11.1" r="1.55"/><circle cx="327.1" cy="17.2" r="1.55"/><circle cx="333" cy="19.2" r="1.55"/><circle cx="336.5" cy="23.9" r="1.55"/><circle cx="342.2" cy="15.5" r="1.55"/><circle cx="352.3" cy="18.2" r="1.55"/><circle cx="361.8" cy="15.5" r="1.55"/><circle cx="370.3" cy="19.2" r="1.55"/><circle cx="377.1" cy="15.5" r="1.55"/><circle cx="387.5" cy="21.9" r="1.55"/><circle cx="326.6" cy="30.4" r="1.55"/><circle cx="331.6" cy="31.8" r="1.55"/><circle cx="370.3" cy="32.4" r="1.55"/><circle cx="378" cy="37.7" r="1.55"/><circle cx="384.8" cy="36.4" r="1.55"/><circle cx="323.4" cy="84.7" r="1.55"/><circle cx="338.7" cy="81.5" r="1.55"/><circle cx="341.9" cy="81.5" r="1.55"/><circle cx="345.1" cy="91.2" r="1.55"/><circle cx="345.3" cy="91.5" r="1.55"/><circle cx="350.1" cy="96.9" r="1.55"/><circle cx="355.5" cy="95.3" r="1.55"/><circle cx="352.8" cy="103.1" r="1.55"/><circle cx="363" cy="101.4" r="1.55"/><circle cx="372.5" cy="91.2" r="1.55"/><circle cx="375.2" cy="103.4" r="1.55"/><circle cx="372.1" cy="107.2" r="1.55"/><circle cx="386.3" cy="99.1" r="1.55"/><circle cx="387.4" cy="109.5" r="1.55"/><circle cx="391.4" cy="103.4" r="1.55"/><circle cx="394" cy="108.9" r="1.55"/><circle cx="396.6" cy="108.1" r="1.55"/><circle cx="399.8" cy="105.4" r="1.55"/><circle cx="334.6" cy="103.1" r="1.55"/><circle cx="326.8" cy="100.4" r="1.55"/><circle cx="323.4" cy="102.7" r="1.55"/><circle cx="391.4" cy="83.4" r="1.55"/><circle cx="397.8" cy="77.7" r="1.55"/><circle cx="398.7" cy="83.8" r="1.55"/><circle cx="400.8" cy="76.9" r="1.55"/><circle cx="400.7" cy="77.3" r="1.55"/><circle cx="396.8" cy="75.4" r="1.55"/><circle cx="326.3" cy="221.3" r="1.55"/><circle cx="330.3" cy="222.7" r="1.55"/><circle cx="346.4" cy="222.8" r="1.55"/><circle cx="358.6" cy="222.8" r="1.55"/><circle cx="347.7" cy="228" r="1.55"/><circle cx="381.5" cy="234.1" r="1.55"/><circle cx="388.8" cy="239.6" r="1.55"/><circle cx="397.7" cy="230.7" r="1.55"/><circle cx="403.1" cy="218.5" r="1.55"/><circle cx="328.1" cy="263" r="1.55"/><circle cx="352.4" cy="263" r="1.55"/><circle cx="357.1" cy="262.3" r="1.55"/><circle cx="361.2" cy="264.3" r="1.55"/><circle cx="361.5" cy="266.4" r="1.55"/><circle cx="362.5" cy="244.7" r="1.55"/><circle cx="388.9" cy="119.9" r="1.55"/><circle cx="406.5" cy="115.8" r="1.55"/><circle cx="412.5" cy="117.2" r="1.55"/><circle cx="415.2" cy="116.1" r="1.55"/><circle cx="414.2" cy="123.1" r="1.55"/><circle cx="411.2" cy="137.1" r="1.55"/><circle cx="419.3" cy="140.4" r="1.55"/><circle cx="424" cy="138.4" r="1.55"/><circle cx="427.4" cy="135.7" r="1.55"/><circle cx="397" cy="139.4" r="1.55"/><circle cx="407.8" cy="142.9" r="1.55"/><circle cx="437.5" cy="108.7" r="1.55"/><circle cx="442.6" cy="109.4" r="1.55"/><circle cx="440.2" cy="122.9" r="1.55"/><circle cx="444.5" cy="122.5" r="1.55"/><circle cx="383.5" cy="153.4" r="1.55"/><circle cx="392.9" cy="159.6" r="1.55"/><circle cx="397" cy="151.1" r="1.55"/><circle cx="407.1" cy="147.4" r="1.55"/><circle cx="419.3" cy="148.8" r="1.55"/><circle cx="422.3" cy="150.4" r="1.55"/><circle cx="434.6" cy="146.9" r="1.55"/><circle cx="434.8" cy="147.7" r="1.55"/><circle cx="419.3" cy="159.2" r="1.55"/><circle cx="425.2" cy="161.1" r="1.55"/><circle cx="418.6" cy="165" r="1.55"/><circle cx="408.5" cy="170" r="1.55"/><circle cx="409.8" cy="169.3" r="1.55"/><circle cx="398.4" cy="172.7" r="1.55"/><circle cx="384.2" cy="179.5" r="1.55"/><circle cx="407.3" cy="177.9" r="1.55"/><circle cx="374.7" cy="186.1" r="1.55"/><circle cx="382.1" cy="188.8" r="1.55"/><circle cx="401.6" cy="189.1" r="1.55"/><circle cx="403.8" cy="188.4" r="1.55"/><circle cx="411.5" cy="190" r="1.55"/><circle cx="416.6" cy="188.9" r="1.55"/><circle cx="395.5" cy="201" r="1.55"/><circle cx="399.4" cy="198.8" r="1.55"/><circle cx="396.3" cy="208.4" r="1.55"/><circle cx="442.4" cy="208.3" r="1.55"/><circle cx="454.9" cy="206.4" r="1.55"/><circle cx="452.2" cy="216.5" r="1.55"/><circle cx="435.5" cy="211.9" r="1.55"/><circle cx="376.1" cy="197.6" r="1.55"/><circle cx="433.4" cy="216.2" r="1.55"/><circle cx="420.2" cy="234.3" r="1.55"/><circle cx="433.4" cy="234" r="1.55"/><circle cx="442.7" cy="237.5" r="1.55"/><circle cx="412.9" cy="242.4" r="1.55"/><circle cx="413.6" cy="245.6" r="1.55"/><circle cx="460.2" cy="237.8" r="1.55"/><circle cx="393.7" cy="40.7" r="1.55"/><circle cx="405.6" cy="41.6" r="1.55"/><circle cx="418.1" cy="43.1" r="1.55"/><circle cx="418.7" cy="45.4" r="1.55"/><circle cx="411.3" cy="45.7" r="1.55"/><circle cx="406.6" cy="46.5" r="1.55"/><circle cx="424.3" cy="43.2" r="1.55"/><circle cx="429.7" cy="42.4" r="1.55"/><circle cx="442.4" cy="44.7" r="1.55"/><circle cx="443.1" cy="48.1" r="1.55"/><circle cx="448.5" cy="50.1" r="1.55"/><circle cx="455.2" cy="48.1" r="1.55"/><circle cx="457.9" cy="48.8" r="1.55"/><circle cx="429.5" cy="49.7" r="1.55"/><circle cx="432.9" cy="51.9" r="1.55"/><circle cx="406.6" cy="52.2" r="1.55"/><circle cx="409.9" cy="54.6" r="1.55"/><circle cx="419.8" cy="53.8" r="1.55"/><circle cx="397.8" cy="56.5" r="1.55"/><circle cx="403.2" cy="61.4" r="1.55"/><circle cx="390.6" cy="64.6" r="1.55"/><circle cx="406.3" cy="66.4" r="1.55"/><circle cx="415.4" cy="66.4" r="1.55"/><circle cx="421.4" cy="63" r="1.55"/><circle cx="442.4" cy="54.2" r="1.55"/><circle cx="447.1" cy="52.8" r="1.55"/><circle cx="449.8" cy="54.6" r="1.55"/><circle cx="456.6" cy="54.6" r="1.55"/><circle cx="457.9" cy="55.5" r="1.55"/><circle cx="454.5" cy="58.2" r="1.55"/><circle cx="446.4" cy="60.3" r="1.55"/><circle cx="452.5" cy="62.3" r="1.55"/><circle cx="459.3" cy="61.6" r="1.55"/><circle cx="465.4" cy="60.3" r="1.55"/><circle cx="464" cy="65" r="1.55"/><circle cx="452.5" cy="65.7" r="1.55"/><circle cx="448.5" cy="66.4" r="1.55"/><circle cx="456.6" cy="66.4" r="1.55"/><circle cx="417.4" cy="73.1" r="1.55"/><circle cx="405.9" cy="76.8" r="1.55"/><circle cx="409.3" cy="78.5" r="1.55"/><circle cx="444" cy="78.3" r="1.55"/><circle cx="453.2" cy="73.1" r="1.55"/><circle cx="458.6" cy="72.4" r="1.55"/><circle cx="389.7" cy="21.9" r="1.55"/><circle cx="397.4" cy="25.3" r="1.55"/><circle cx="401.4" cy="23.2" r="1.55"/><circle cx="405.5" cy="26.6" r="1.55"/><circle cx="406.6" cy="31.4" r="1.55"/><circle cx="404.5" cy="32.7" r="1.55"/><circle cx="416" cy="31.4" r="1.55"/><circle cx="418.5" cy="27.7" r="1.55"/><circle cx="422.8" cy="30.9" r="1.55"/><circle cx="430.9" cy="27.7" r="1.55"/><circle cx="437.6" cy="28.2" r="1.55"/><circle cx="434.9" cy="34.1" r="1.55"/><circle cx="434.3" cy="37.4" r="1.55"/><circle cx="441.7" cy="32.7" r="1.55"/><circle cx="441" cy="35.8" r="1.55"/><circle cx="445.8" cy="31.4" r="1.55"/><circle cx="446.4" cy="33.6" r="1.55"/><circle cx="450.5" cy="37.4" r="1.55"/><circle cx="453.9" cy="36.8" r="1.55"/><circle cx="412.6" cy="37.4" r="1.55"/><circle cx="459.3" cy="35.4" r="1.55"/><circle cx="462.6" cy="36.8" r="1.55"/><circle cx="464.7" cy="38.8" r="1.55"/><circle cx="457.9" cy="40.1" r="1.55"/><circle cx="462" cy="41.5" r="1.55"/><circle cx="444.6" cy="191.5" r="1.55"/><circle cx="447.4" cy="191.4" r="1.55"/><circle cx="457.8" cy="194.4" r="1.55"/><circle cx="480.3" cy="189.9" r="1.55"/><circle cx="435.1" cy="202.9" r="1.55"/><circle cx="435.8" cy="209.8" r="1.55"/><circle cx="477.8" cy="205.7" r="1.55"/><circle cx="478.6" cy="210.4" r="1.55"/><circle cx="474.5" cy="178.7" r="1.55"/><circle cx="456.6" cy="182.1" r="1.55"/><circle cx="470" cy="228.5" r="1.55"/><circle cx="474.3" cy="236.4" r="1.55"/><circle cx="470.3" cy="243.6" r="1.55"/><circle cx="426.4" cy="251.5" r="1.55"/><circle cx="443.9" cy="249.9" r="1.55"/><circle cx="412.4" cy="254.2" r="1.55"/><circle cx="441.8" cy="113.4" r="1.55"/><circle cx="450.3" cy="135" r="1.55"/><circle cx="459.7" cy="128.3" r="1.55"/><circle cx="505.7" cy="118.1" r="1.55"/><circle cx="503.6" cy="121.5" r="1.55"/><circle cx="510.4" cy="127.1" r="1.55"/><circle cx="502.2" cy="136.4" r="1.55"/><circle cx="496.9" cy="135.7" r="1.55"/><circle cx="509.7" cy="137.7" r="1.55"/><circle cx="434.7" cy="144.5" r="1.55"/><circle cx="437.5" cy="144.2" r="1.55"/><circle cx="446.2" cy="145.2" r="1.55"/><circle cx="492.5" cy="148.7" r="1.55"/><circle cx="478" cy="156.5" r="1.55"/><circle cx="480" cy="158.5" r="1.55"/><circle cx="471.9" cy="165.3" r="1.55"/><circle cx="470.5" cy="170" r="1.55"/><circle cx="469.5" cy="175.7" r="1.55"/><circle cx="484.1" cy="178.1" r="1.55"/><circle cx="492.3" cy="177.4" r="1.55"/><circle cx="493.5" cy="179.8" r="1.55"/><circle cx="488.1" cy="171.4" r="1.55"/><circle cx="512.2" cy="182.9" r="1.55"/><circle cx="450.3" cy="82.8" r="1.55"/><circle cx="454.3" cy="81.5" r="1.55"/><circle cx="455" cy="84.2" r="1.55"/><circle cx="450.9" cy="86.9" r="1.55"/><circle cx="436.1" cy="85.5" r="1.55"/><circle cx="444.2" cy="91.6" r="1.55"/><circle cx="435.4" cy="90.9" r="1.55"/><circle cx="442.2" cy="94.3" r="1.55"/><circle cx="445.6" cy="96.9" r="1.55"/><circle cx="451.5" cy="95" r="1.55"/><circle cx="452.4" cy="97.9" r="1.55"/><circle cx="455.7" cy="97" r="1.55"/><circle cx="459.1" cy="99.7" r="1.55"/><circle cx="452.4" cy="102.9" r="1.55"/><circle cx="450.9" cy="105.8" r="1.55"/><circle cx="431.4" cy="95.7" r="1.55"/><circle cx="432.7" cy="99.1" r="1.55"/><circle cx="487.2" cy="76.6" r="1.55"/><circle cx="491.2" cy="77" r="1.55"/><circle cx="512.7" cy="78.7" r="1.55"/><circle cx="512" cy="91.6" r="1.55"/><circle cx="484" cy="96.9" r="1.55"/><circle cx="503.6" cy="97.7" r="1.55"/><circle cx="505.2" cy="103.7" r="1.55"/><circle cx="509.7" cy="106.5" r="1.55"/><circle cx="486.1" cy="105.8" r="1.55"/><circle cx="64.9" cy="134.6" r="1.55"/><circle cx="118.6" cy="136.6" r="1.55"/><circle cx="91.6" cy="145.1" r="1.55"/><circle cx="55.5" cy="158.2" r="1.55"/><circle cx="61.9" cy="160.7" r="1.55"/><circle cx="118" cy="158.6" r="1.55"/><circle cx="75.8" cy="167.7" r="1.55"/><circle cx="65" cy="177.4" r="1.55"/><circle cx="82.6" cy="181.1" r="1.55"/><circle cx="88.9" cy="183.8" r="1.55"/><circle cx="56.9" cy="108.2" r="1.55"/><circle cx="88" cy="111.2" r="1.55"/><circle cx="95.3" cy="108.1" r="1.55"/><circle cx="98.8" cy="103.8" r="1.55"/><circle cx="109.2" cy="104.2" r="1.55"/><circle cx="110.5" cy="112.3" r="1.55"/><circle cx="110.5" cy="115.3" r="1.55"/><circle cx="122" cy="117.3" r="1.55"/><circle cx="116.4" cy="120.9" r="1.55"/><circle cx="80.4" cy="115.9" r="1.55"/><circle cx="75" cy="117.3" r="1.55"/><circle cx="74.1" cy="120.7" r="1.55"/><circle cx="56.5" cy="124.5" r="1.55"/><circle cx="51.8" cy="127" r="1.55"/><circle cx="88.9" cy="123.6" r="1.55"/><circle cx="127.4" cy="110.9" r="1.55"/><circle cx="128.8" cy="130.8" r="1.55"/><circle cx="511.9" cy="192.4" r="1.55"/><circle cx="515.3" cy="190.1" r="1.55"/><circle cx="501.1" cy="196.9" r="1.55"/><circle cx="502.5" cy="201.6" r="1.55"/><circle cx="489.2" cy="202.7" r="1.55"/><circle cx="518.4" cy="207.3" r="1.55"/><circle cx="544.1" cy="189.7" r="1.55"/><circle cx="514.6" cy="66.4" r="1.55"/><circle cx="507.8" cy="64.3" r="1.55"/><circle cx="509.2" cy="58.2" r="1.55"/><circle cx="503.1" cy="60.3" r="1.55"/><circle cx="487.6" cy="58.9" r="1.55"/><circle cx="492.3" cy="62.3" r="1.55"/><circle cx="491.4" cy="154.2" r="1.55"/><circle cx="519.1" cy="149.7" r="1.55"/><circle cx="527.1" cy="147.8" r="1.55"/><circle cx="517.1" cy="170.4" r="1.55"/><circle cx="529" cy="169.1" r="1.55"/><circle cx="546.1" cy="170.4" r="1.55"/><circle cx="555.6" cy="152.4" r="1.55"/><circle cx="561" cy="151.5" r="1.55"/><circle cx="559.6" cy="182.2" r="1.55"/><circle cx="502.7" cy="118.8" r="1.55"/><circle cx="502" cy="122.8" r="1.55"/><circle cx="502" cy="124.9" r="1.55"/><circle cx="516.9" cy="119.7" r="1.55"/><circle cx="539.2" cy="114.1" r="1.55"/><circle cx="541.9" cy="114.1" r="1.55"/><circle cx="544.9" cy="114.1" r="1.55"/><circle cx="554.1" cy="115.1" r="1.55"/><circle cx="557.4" cy="111.1" r="1.55"/><circle cx="547" cy="119.2" r="1.55"/><circle cx="558.1" cy="119.7" r="1.55"/><circle cx="541.9" cy="123.8" r="1.55"/><circle cx="542.6" cy="130.5" r="1.55"/><circle cx="566.2" cy="126.2" r="1.55"/><circle cx="570.3" cy="138.1" r="1.55"/><circle cx="520.9" cy="143.1" r="1.55"/><circle cx="523.6" cy="140.4" r="1.55"/><circle cx="539.2" cy="144.9" r="1.55"/><circle cx="566.2" cy="145.1" r="1.55"/><circle cx="516.9" cy="88.5" r="1.55"/><circle cx="520.5" cy="87.4" r="1.55"/><circle cx="520.5" cy="89.6" r="1.55"/><circle cx="516.2" cy="93.9" r="1.55"/><circle cx="517.6" cy="92.8" r="1.55"/><circle cx="527" cy="90.9" r="1.55"/><circle cx="526.4" cy="93.6" r="1.55"/><circle cx="522.3" cy="96.9" r="1.55"/><circle cx="505.7" cy="97.7" r="1.55"/><circle cx="503" cy="106.4" r="1.55"/><circle cx="516.9" cy="103.6" r="1.55"/><circle cx="521.6" cy="102.7" r="1.55"/><circle cx="525" cy="103.4" r="1.55"/><circle cx="533.8" cy="103.4" r="1.55"/><circle cx="536.8" cy="98.6" r="1.55"/><circle cx="543.9" cy="100.9" r="1.55"/><circle cx="546.6" cy="85.5" r="1.55"/><circle cx="555.4" cy="105" r="1.55"/><circle cx="560.1" cy="100.7" r="1.55"/><circle cx="108" cy="58.8" r="1.55"/><circle cx="120.1" cy="58.4" r="1.55"/><circle cx="124.6" cy="57" r="1.55"/><circle cx="126.2" cy="56.4" r="1.55"/><circle cx="90.8" cy="78.6" r="1.55"/><circle cx="91.4" cy="80.7" r="1.55"/><circle cx="106.6" cy="82" r="1.55"/><circle cx="105.7" cy="86.4" r="1.55"/><circle cx="124.2" cy="77.3" r="1.55"/><circle cx="122.8" cy="81.4" r="1.55"/><circle cx="121.5" cy="94.2" r="1.55"/><circle cx="144.9" cy="91.5" r="1.55"/><circle cx="249.5" cy="234.5" r="1.55"/><circle cx="268.4" cy="251.4" r="1.55"/><circle cx="286.7" cy="257.4" r="1.55"/><circle cx="287.4" cy="253.4" r="1.55"/><circle cx="309.6" cy="226.4" r="1.55"/><circle cx="317.1" cy="238.5" r="1.55"/><circle cx="317.1" cy="260.1" r="1.55"/><circle cx="244.1" cy="256.8" r="1.55"/><circle cx="261.2" cy="214.9" r="1.55"/><circle cx="292.5" cy="224.3" r="1.55"/><circle cx="293.8" cy="218.4" r="1.55"/><circle cx="280.7" cy="225.9" r="1.55"/><circle cx="271.7" cy="225.3" r="1.55"/><circle cx="302.8" cy="222.9" r="1.55"/><circle cx="304.1" cy="226.8" r="1.55"/><circle cx="312.6" cy="220.2" r="1.55"/><circle cx="305.7" cy="230.3" r="1.55"/><circle cx="400.5" cy="202.8" r="1.55"/><circle cx="408.2" cy="184.4" r="1.55"/><circle cx="424.4" cy="177.4" r="1.55"/><circle cx="427.1" cy="177.4" r="1.55"/><circle cx="430.5" cy="184.8" r="1.55"/><circle cx="448" cy="136.4" r="1.55"/><circle cx="450.7" cy="138.1" r="1.55"/><circle cx="429.1" cy="154.7" r="1.55"/><circle cx="443.2" cy="193" r="1.55"/><circle cx="441.2" cy="200.5" r="1.55"/><circle cx="448.6" cy="184.2" r="1.55"/><circle cx="462.4" cy="172.3" r="1.55"/><circle cx="460.4" cy="174" r="1.55"/><circle cx="453.1" cy="110.2" r="1.55"/></g>
<path d="M154.9,159.4l3,4.8l-3,4.8l-3,-4.8zM158.1,169.3l3,4.8l-3,4.8l-3,-4.8zM143.6,190.3l3,4.8l-3,4.8l-3,-4.8zM163.5,186.3l3,4.8l-3,4.8l-3,-4.8zM197,196.4l3,4.8l-3,4.8l-3,-4.8zM149.2,67l3,4.8l-3,4.8l-3,-4.8zM199.9,71l3,4.8l-3,4.8l-3,-4.8zM160.5,120.7l3,4.8l-3,4.8l-3,-4.8zM167.3,116.3l3,4.8l-3,4.8l-3,-4.8zM187.6,118.6l3,4.8l-3,4.8l-3,-4.8zM196.2,120.3l3,4.8l-3,4.8l-3,-4.8zM230.8,133.2l3,4.8l-3,4.8l-3,-4.8zM234.5,125.1l3,4.8l-3,4.8l-3,-4.8zM183.1,140.6l3,4.8l-3,4.8l-3,-4.8zM186.5,143.3l3,4.8l-3,4.8l-3,-4.8zM188.5,145.6l3,4.8l-3,4.8l-3,-4.8zM179.1,146.4l3,4.8l-3,4.8l-3,-4.8zM165.1,227.8l3,4.8l-3,4.8l-3,-4.8zM228.4,244.9l3,4.8l-3,4.8l-3,-4.8zM180.8,86l3,4.8l-3,4.8l-3,-4.8zM168.9,96.8l3,4.8l-3,4.8l-3,-4.8zM195.7,93.4l3,4.8l-3,4.8l-3,-4.8zM216.9,95.2l3,4.8l-3,4.8l-3,-4.8zM221.6,103.8l3,4.8l-3,4.8l-3,-4.8zM229.1,79l3,4.8l-3,4.8l-3,-4.8zM179.1,98.8l3,4.8l-3,4.8l-3,-4.8zM223.6,164.8l3,4.8l-3,4.8l-3,-4.8zM214.2,170.2l3,4.8l-3,4.8l-3,-4.8zM249.3,168.6l3,4.8l-3,4.8l-3,-4.8zM257.8,171.3l3,4.8l-3,4.8l-3,-4.8zM282.7,172.4l3,4.8l-3,4.8l-3,-4.8zM273,179.5l3,4.8l-3,4.8l-3,-4.8zM282.4,194.1l3,4.8l-3,4.8l-3,-4.8zM221.6,193.4l3,4.8l-3,4.8l-3,-4.8zM236.6,194.7l3,4.8l-3,4.8l-3,-4.8zM240.3,197.6l3,4.8l-3,4.8l-3,-4.8zM243.2,200.7l3,4.8l-3,4.8l-3,-4.8zM251.1,193.8l3,4.8l-3,4.8l-3,-4.8zM248.5,197.6l3,4.8l-3,4.8l-3,-4.8zM246.1,201.1l3,4.8l-3,4.8l-3,-4.8zM244.6,203.8l3,4.8l-3,4.8l-3,-4.8zM234.9,211.7l3,4.8l-3,4.8l-3,-4.8zM244.7,219.6l3,4.8l-3,4.8l-3,-4.8zM242.7,229.3l3,4.8l-3,4.8l-3,-4.8zM257.5,229.3l3,4.8l-3,4.8l-3,-4.8zM270,240.1l3,4.8l-3,4.8l-3,-4.8zM331.1,155.7l3,4.8l-3,4.8l-3,-4.8zM295.5,180.9l3,4.8l-3,4.8l-3,-4.8zM286.7,191.1l3,4.8l-3,4.8l-3,-4.8zM304.6,195.7l3,4.8l-3,4.8l-3,-4.8zM297.2,209.7l3,4.8l-3,4.8l-3,-4.8zM336.3,198.8l3,4.8l-3,4.8l-3,-4.8zM353.8,205.4l3,4.8l-3,4.8l-3,-4.8zM367.8,196.1l3,4.8l-3,4.8l-3,-4.8zM324.1,92.1l3,4.8l-3,4.8l-3,-4.8zM382.5,87.1l3,4.8l-3,4.8l-3,-4.8zM336.3,201.8l3,4.8l-3,4.8l-3,-4.8zM352.5,212.8l3,4.8l-3,4.8l-3,-4.8zM338,212.5l3,4.8l-3,4.8l-3,-4.8zM366.6,212.4l3,4.8l-3,4.8l-3,-4.8zM375.4,205.9l3,4.8l-3,4.8l-3,-4.8zM380.1,201.6l3,4.8l-3,4.8l-3,-4.8zM389.6,208.3l3,4.8l-3,4.8l-3,-4.8zM401.7,202.9l3,4.8l-3,4.8l-3,-4.8zM330.1,223.2l3,4.8l-3,4.8l-3,-4.8zM335.9,221.7l3,4.8l-3,4.8l-3,-4.8zM339.8,220.3l3,4.8l-3,4.8l-3,-4.8zM342.3,224.5l3,4.8l-3,4.8l-3,-4.8zM352.7,222.7l3,4.8l-3,4.8l-3,-4.8zM357.5,221.6l3,4.8l-3,4.8l-3,-4.8zM362.5,223.2l3,4.8l-3,4.8l-3,-4.8zM365.2,217.8l3,4.8l-3,4.8l-3,-4.8zM326.1,227.2l3,4.8l-3,4.8l-3,-4.8zM324,232.6l3,4.8l-3,4.8l-3,-4.8zM396.3,231.3l3,4.8l-3,4.8l-3,-4.8zM403.1,234l3,4.8l-3,4.8l-3,-4.8zM358.5,227.2l3,4.8l-3,4.8l-3,-4.8zM382.8,235.3l3,4.8l-3,4.8l-3,-4.8zM405.8,208.3l3,4.8l-3,4.8l-3,-4.8zM397.7,216.4l3,4.8l-3,4.8l-3,-4.8zM392.3,223.2l3,4.8l-3,4.8l-3,-4.8zM353.1,252.8l3,4.8l-3,4.8l-3,-4.8zM363.9,248l3,4.8l-3,4.8l-3,-4.8zM365.9,250.1l3,4.8l-3,4.8l-3,-4.8zM376.1,255.5l3,4.8l-3,4.8l-3,-4.8zM387.5,251.4l3,4.8l-3,4.8l-3,-4.8zM403.1,253.4l3,4.8l-3,4.8l-3,-4.8zM403.3,239.5l3,4.8l-3,4.8l-3,-4.8zM380.1,239.9l3,4.8l-3,4.8l-3,-4.8zM373.4,240.6l3,4.8l-3,4.8l-3,-4.8zM349,250.1l3,4.8l-3,4.8l-3,-4.8zM335.5,250.1l3,4.8l-3,4.8l-3,-4.8zM326.1,250.1l3,4.8l-3,4.8l-3,-4.8zM357.1,243.3l3,4.8l-3,4.8l-3,-4.8zM392,118.7l3,4.8l-3,4.8l-3,-4.8zM403.8,123.2l3,4.8l-3,4.8l-3,-4.8zM425,122.8l3,4.8l-3,4.8l-3,-4.8zM433.8,113.3l3,4.8l-3,4.8l-3,-4.8zM435.5,118.1l3,4.8l-3,4.8l-3,-4.8zM432.1,109.3l3,4.8l-3,4.8l-3,-4.8zM401.7,137.7l3,4.8l-3,4.8l-3,-4.8zM414.9,142.3l3,4.8l-3,4.8l-3,-4.8zM430.4,137.3l3,4.8l-3,4.8l-3,-4.8zM428.4,141.3l3,4.8l-3,4.8l-3,-4.8zM446.3,104.9l3,4.8l-3,4.8l-3,-4.8zM447.6,113.3l3,4.8l-3,4.8l-3,-4.8zM451.7,124.8l3,4.8l-3,4.8l-3,-4.8zM455.8,116.7l3,4.8l-3,4.8l-3,-4.8zM456.4,108.9l3,4.8l-3,4.8l-3,-4.8zM453.1,104.6l3,4.8l-3,4.8l-3,-4.8zM442.3,139l3,4.8l-3,4.8l-3,-4.8zM447.7,134.3l3,4.8l-3,4.8l-3,-4.8zM454.4,131.6l3,4.8l-3,4.8l-3,-4.8zM392.3,147.6l3,4.8l-3,4.8l-3,-4.8zM406.5,153l3,4.8l-3,4.8l-3,-4.8zM401.1,160.5l3,4.8l-3,4.8l-3,-4.8zM413.2,158.4l3,4.8l-3,4.8l-3,-4.8zM434.1,154.7l3,4.8l-3,4.8l-3,-4.8zM436.2,159.1l3,4.8l-3,4.8l-3,-4.8zM433.1,148.7l3,4.8l-3,4.8l-3,-4.8zM411.9,175.5l3,4.8l-3,4.8l-3,-4.8zM400,177.1l3,4.8l-3,4.8l-3,-4.8zM392.6,180l3,4.8l-3,4.8l-3,-4.8zM423.4,166.6l3,4.8l-3,4.8l-3,-4.8zM431.4,171.1l3,4.8l-3,4.8l-3,-4.8zM443.6,148.3l3,4.8l-3,4.8l-3,-4.8zM440.9,156.4l3,4.8l-3,4.8l-3,-4.8zM442.3,164.5l3,4.8l-3,4.8l-3,-4.8zM447.7,157.8l3,4.8l-3,4.8l-3,-4.8zM454.4,159.1l3,4.8l-3,4.8l-3,-4.8zM455.8,148.3l3,4.8l-3,4.8l-3,-4.8zM439.6,169.9l3,4.8l-3,4.8l-3,-4.8zM445,175.3l3,4.8l-3,4.8l-3,-4.8zM377.4,182.6l3,4.8l-3,4.8l-3,-4.8zM411.2,176.6l3,4.8l-3,4.8l-3,-4.8zM380.1,193.4l3,4.8l-3,4.8l-3,-4.8zM388.2,192.8l3,4.8l-3,4.8l-3,-4.8zM390.9,204.9l3,4.8l-3,4.8l-3,-4.8zM446.8,203.9l3,4.8l-3,4.8l-3,-4.8zM453.5,183.2l3,4.8l-3,4.8l-3,-4.8zM439.1,193.4l3,4.8l-3,4.8l-3,-4.8zM427.3,207.4l3,4.8l-3,4.8l-3,-4.8zM435.5,202.2l3,4.8l-3,4.8l-3,-4.8zM385.5,207.6l3,4.8l-3,4.8l-3,-4.8zM393.6,198.2l3,4.8l-3,4.8l-3,-4.8zM426.5,224.8l3,4.8l-3,4.8l-3,-4.8zM452.2,233.6l3,4.8l-3,4.8l-3,-4.8zM467.8,226.8l3,4.8l-3,4.8l-3,-4.8zM407.6,230.9l3,4.8l-3,4.8l-3,-4.8zM415.1,223.4l3,4.8l-3,4.8l-3,-4.8zM390.1,230.2l3,4.8l-3,4.8l-3,-4.8zM426.2,66l3,4.8l-3,4.8l-3,-4.8zM443.3,67l3,4.8l-3,4.8l-3,-4.8zM448.6,70.9l3,4.8l-3,4.8l-3,-4.8zM465.9,68.1l3,4.8l-3,4.8l-3,-4.8zM471.7,70.6l3,4.8l-3,4.8l-3,-4.8zM469.4,182.7l3,4.8l-3,4.8l-3,-4.8zM468.2,188.7l3,4.8l-3,4.8l-3,-4.8zM474.3,204.3l3,4.8l-3,4.8l-3,-4.8zM450,178.6l3,4.8l-3,4.8l-3,-4.8zM483.1,227.1l3,4.8l-3,4.8l-3,-4.8zM432.7,119.4l3,4.8l-3,4.8l-3,-4.8zM448.9,124.8l3,4.8l-3,4.8l-3,-4.8zM481.4,111.3l3,4.8l-3,4.8l-3,-4.8zM481.4,135.6l3,4.8l-3,4.8l-3,-4.8zM489.5,138.3l3,4.8l-3,4.8l-3,-4.8zM498.9,134.3l3,4.8l-3,4.8l-3,-4.8zM499.6,107.3l3,4.8l-3,4.8l-3,-4.8zM493.5,103.5l3,4.8l-3,4.8l-3,-4.8zM510.9,110.2l3,4.8l-3,4.8l-3,-4.8zM503.5,142l3,4.8l-3,4.8l-3,-4.8zM479.3,120.8l3,4.8l-3,4.8l-3,-4.8zM480,127.5l3,4.8l-3,4.8l-3,-4.8zM436.1,168.6l3,4.8l-3,4.8l-3,-4.8zM476.6,158.5l3,4.8l-3,4.8l-3,-4.8zM475.9,168.6l3,4.8l-3,4.8l-3,-4.8zM488.1,151l3,4.8l-3,4.8l-3,-4.8zM488.1,160.5l3,4.8l-3,4.8l-3,-4.8zM503.6,144.3l3,4.8l-3,4.8l-3,-4.8zM504.3,152.4l3,4.8l-3,4.8l-3,-4.8zM482,139.6l3,4.8l-3,4.8l-3,-4.8zM498.9,139.6l3,4.8l-3,4.8l-3,-4.8zM470.5,153.7l3,4.8l-3,4.8l-3,-4.8zM478.6,72l3,4.8l-3,4.8l-3,-4.8zM483.4,72l3,4.8l-3,4.8l-3,-4.8zM495.6,67l3,4.8l-3,4.8l-3,-4.8zM431.4,82.1l3,4.8l-3,4.8l-3,-4.8zM461.5,89.7l3,4.8l-3,4.8l-3,-4.8zM467.8,78.7l3,4.8l-3,4.8l-3,-4.8zM471.9,80.1l3,4.8l-3,4.8l-3,-4.8zM488.8,87.5l3,4.8l-3,4.8l-3,-4.8zM498.9,86.8l3,4.8l-3,4.8l-3,-4.8zM489.5,96.3l3,4.8l-3,4.8l-3,-4.8zM497.6,97l3,4.8l-3,4.8l-3,-4.8zM512.8,95.7l3,4.8l-3,4.8l-3,-4.8zM479.3,97.6l3,4.8l-3,4.8l-3,-4.8zM477.3,102.4l3,4.8l-3,4.8l-3,-4.8zM59.6,150.2l3,4.8l-3,4.8l-3,-4.8zM87.6,148.8l3,4.8l-3,4.8l-3,-4.8zM92.6,166.4l3,4.8l-3,4.8l-3,-4.8zM74.5,181.7l3,4.8l-3,4.8l-3,-4.8zM99.3,189.8l3,4.8l-3,4.8l-3,-4.8zM122.7,95.6l3,4.8l-3,4.8l-3,-4.8zM57.8,126.7l3,4.8l-3,4.8l-3,-4.8zM495.5,196.8l3,4.8l-3,4.8l-3,-4.8zM493,206.3l3,4.8l-3,4.8l-3,-4.8zM509,192.5l3,4.8l-3,4.8l-3,-4.8zM524.5,151l3,4.8l-3,4.8l-3,-4.8zM549.2,155.7l3,4.8l-3,4.8l-3,-4.8zM554.2,172.6l3,4.8l-3,4.8l-3,-4.8zM568.7,147.6l3,4.8l-3,4.8l-3,-4.8zM514.4,109.7l3,4.8l-3,4.8l-3,-4.8zM531.4,108.2l3,4.8l-3,4.8l-3,-4.8zM548.6,138.3l3,4.8l-3,4.8l-3,-4.8zM568.9,144.4l3,4.8l-3,4.8l-3,-4.8zM532.7,81.7l3,4.8l-3,4.8l-3,-4.8zM548.4,97.2l3,4.8l-3,4.8l-3,-4.8zM261.7,249.3l3,4.8l-3,4.8l-3,-4.8zM281.9,254l3,4.8l-3,4.8l-3,-4.8zM292.8,251.3l3,4.8l-3,4.8l-3,-4.8zM303.6,251.3l3,4.8l-3,4.8l-3,-4.8zM311.7,249.9l3,4.8l-3,4.8l-3,-4.8zM318.4,250.6l3,4.8l-3,4.8l-3,-4.8zM240.1,252.6l3,4.8l-3,4.8l-3,-4.8zM286.9,221.9l3,4.8l-3,4.8l-3,-4.8zM299.9,226.1l3,4.8l-3,4.8l-3,-4.8zM293.7,225.3l3,4.8l-3,4.8l-3,-4.8zM309,227.6l3,4.8l-3,4.8l-3,-4.8zM270.5,236.4l3,4.8l-3,4.8l-3,-4.8zM267.1,240.5l3,4.8l-3,4.8l-3,-4.8zM256.3,220.2l3,4.8l-3,4.8l-3,-4.8zM275.2,228.3l3,4.8l-3,4.8l-3,-4.8zM282,226.3l3,4.8l-3,4.8l-3,-4.8zM316.1,228.1l3,4.8l-3,4.8l-3,-4.8zM276.5,236.4l3,4.8l-3,4.8l-3,-4.8zM257.6,210.2l3,4.8l-3,4.8l-3,-4.8zM266,210.3l3,4.8l-3,4.8l-3,-4.8zM288.3,214.6l3,4.8l-3,4.8l-3,-4.8zM276.6,219.3l3,4.8l-3,4.8l-3,-4.8zM284.7,225.5l3,4.8l-3,4.8l-3,-4.8zM299.6,220.7l3,4.8l-3,4.8l-3,-4.8zM266.3,221.3l3,4.8l-3,4.8l-3,-4.8zM273.8,221.4l3,4.8l-3,4.8l-3,-4.8zM309.9,224.1l3,4.8l-3,4.8l-3,-4.8zM305.4,227.9l3,4.8l-3,4.8l-3,-4.8zM313.1,225.5l3,4.8l-3,4.8l-3,-4.8zM319.8,219.6l3,4.8l-3,4.8l-3,-4.8zM292.2,227.9l3,4.8l-3,4.8l-3,-4.8zM284.1,231.3l3,4.8l-3,4.8l-3,-4.8zM290.1,231.3l3,4.8l-3,4.8l-3,-4.8zM296.9,231.3l3,4.8l-3,4.8l-3,-4.8zM303.7,231.3l3,4.8l-3,4.8l-3,-4.8zM310.4,231.3l3,4.8l-3,4.8l-3,-4.8zM286.8,235.3l3,4.8l-3,4.8l-3,-4.8zM293.5,235.3l3,4.8l-3,4.8l-3,-4.8zM300.3,235.3l3,4.8l-3,4.8l-3,-4.8zM307,235.3l3,4.8l-3,4.8l-3,-4.8zM282.7,238.7l3,4.8l-3,4.8l-3,-4.8zM289.5,238.7l3,4.8l-3,4.8l-3,-4.8zM296.2,238.7l3,4.8l-3,4.8l-3,-4.8zM303,238.7l3,4.8l-3,4.8l-3,-4.8zM309.7,238.7l3,4.8l-3,4.8l-3,-4.8zM316.5,238l3,4.8l-3,4.8l-3,-4.8zM302.5,261.7l3,4.8l-3,4.8l-3,-4.8zM305.8,261.7l3,4.8l-3,4.8l-3,-4.8zM310.6,261.2l3,4.8l-3,4.8l-3,-4.8zM131.2,105.4l3,4.8l-3,4.8l-3,-4.8zM141.2,107.6l3,4.8l-3,4.8l-3,-4.8zM239.5,258.7l3,4.8l-3,4.8l-3,-4.8zM248.9,261.4l3,4.8l-3,4.8l-3,-4.8zM394,186.1l3,4.8l-3,4.8l-3,-4.8zM409.6,189.4l3,4.8l-3,4.8l-3,-4.8zM422.4,186.1l3,4.8l-3,4.8l-3,-4.8zM428.5,184.7l3,4.8l-3,4.8l-3,-4.8zM417.7,188.8l3,4.8l-3,4.8l-3,-4.8zM429.8,174.6l3,4.8l-3,4.8l-3,-4.8zM452,128.6l3,4.8l-3,4.8l-3,-4.8zM453,186.6l3,4.8l-3,4.8l-3,-4.8zM455.7,186.6l3,4.8l-3,4.8l-3,-4.8zM456.7,183.1l3,4.8l-3,4.8l-3,-4.8zM444.9,181.4l3,4.8l-3,4.8l-3,-4.8zM442.8,169.9l3,4.8l-3,4.8l-3,-4.8zM452.3,170.6l3,4.8l-3,4.8l-3,-4.8zM431.4,180.7l3,4.8l-3,4.8l-3,-4.8zM458.4,167.5l3,4.8l-3,4.8l-3,-4.8zM435.4,174l3,4.8l-3,4.8l-3,-4.8zM434.1,184.1l3,4.8l-3,4.8l-3,-4.8zM440.7,111.3l3,4.8l-3,4.8l-3,-4.8zM457.2,106.1l3,4.8l-3,4.8l-3,-4.8zM481.5,99.4l3,4.8l-3,4.8l-3,-4.8zM293.8,245.3l3,4.8l-3,4.8l-3,-4.8zM297.2,245.2l3,4.8l-3,4.8l-3,-4.8zM300,245.5l3,4.8l-3,4.8l-3,-4.8zM302.5,245.7l3,4.8l-3,4.8l-3,-4.8zM305.4,245.6l3,4.8l-3,4.8l-3,-4.8zM308.5,245.2l3,4.8l-3,4.8l-3,-4.8zM311.9,246.1l3,4.8l-3,4.8l-3,-4.8zM314.5,245.4l3,4.8l-3,4.8l-3,-4.8zM318.2,246.2l3,4.8l-3,4.8l-3,-4.8zM321.1,245.6l3,4.8l-3,4.8l-3,-4.8zM324.6,245.2l3,4.8l-3,4.8l-3,-4.8zM327.4,245.4l3,4.8l-3,4.8l-3,-4.8zM329.6,245.2l3,4.8l-3,4.8l-3,-4.8zM332.8,246.1l3,4.8l-3,4.8l-3,-4.8zM335.6,245.8l3,4.8l-3,4.8l-3,-4.8zM339.2,245.5l3,4.8l-3,4.8l-3,-4.8zM342.1,245.2l3,4.8l-3,4.8l-3,-4.8zM391.5,210.3l3,4.8l-3,4.8l-3,-4.8zM395.2,210.6l3,4.8l-3,4.8l-3,-4.8zM397.8,210.8l3,4.8l-3,4.8l-3,-4.8zM400.9,210.5l3,4.8l-3,4.8l-3,-4.8zM404.4,210.9l3,4.8l-3,4.8l-3,-4.8zM406.7,210.8l3,4.8l-3,4.8l-3,-4.8zM410,211.2l3,4.8l-3,4.8l-3,-4.8zM375.8,213.4l3,4.8l-3,4.8l-3,-4.8zM379.1,213.2l3,4.8l-3,4.8l-3,-4.8zM381.4,214l3,4.8l-3,4.8l-3,-4.8zM384.1,213.7l3,4.8l-3,4.8l-3,-4.8zM386.9,213.9l3,4.8l-3,4.8l-3,-4.8zM390.8,213.8l3,4.8l-3,4.8l-3,-4.8zM394,213.5l3,4.8l-3,4.8l-3,-4.8zM396.7,213.8l3,4.8l-3,4.8l-3,-4.8zM399.6,213.6l3,4.8l-3,4.8l-3,-4.8zM402.9,214.2l3,4.8l-3,4.8l-3,-4.8zM405.5,213.9l3,4.8l-3,4.8l-3,-4.8zM408,213.9l3,4.8l-3,4.8l-3,-4.8zM374.2,217.3l3,4.8l-3,4.8l-3,-4.8zM377.4,216.4l3,4.8l-3,4.8l-3,-4.8zM379.9,216.9l3,4.8l-3,4.8l-3,-4.8zM382.4,216.7l3,4.8l-3,4.8l-3,-4.8zM385.6,216.2l3,4.8l-3,4.8l-3,-4.8zM388.5,217l3,4.8l-3,4.8l-3,-4.8zM391.6,216.4l3,4.8l-3,4.8l-3,-4.8zM394.9,217.1l3,4.8l-3,4.8l-3,-4.8zM397.5,216.6l3,4.8l-3,4.8l-3,-4.8zM401.1,217.2l3,4.8l-3,4.8l-3,-4.8zM404.4,217.1l3,4.8l-3,4.8l-3,-4.8zM406.7,216.6l3,4.8l-3,4.8l-3,-4.8zM409.8,217.2l3,4.8l-3,4.8l-3,-4.8zM376,219.3l3,4.8l-3,4.8l-3,-4.8zM378.1,219.4l3,4.8l-3,4.8l-3,-4.8zM381.2,219.7l3,4.8l-3,4.8l-3,-4.8zM384.6,219.4l3,4.8l-3,4.8l-3,-4.8zM386.9,219.6l3,4.8l-3,4.8l-3,-4.8zM390.3,219.8l3,4.8l-3,4.8l-3,-4.8zM394,219.9l3,4.8l-3,4.8l-3,-4.8zM396.5,219.8l3,4.8l-3,4.8l-3,-4.8zM399.7,219.2l3,4.8l-3,4.8l-3,-4.8zM403,220l3,4.8l-3,4.8l-3,-4.8zM405.9,220.1l3,4.8l-3,4.8l-3,-4.8zM408.4,219.6l3,4.8l-3,4.8l-3,-4.8zM373.5,222.9l3,4.8l-3,4.8l-3,-4.8zM376.5,222.2l3,4.8l-3,4.8l-3,-4.8zM379.7,222.3l3,4.8l-3,4.8l-3,-4.8zM382.8,222.2l3,4.8l-3,4.8l-3,-4.8zM385.4,222.3l3,4.8l-3,4.8l-3,-4.8zM388.5,222.5l3,4.8l-3,4.8l-3,-4.8zM391.4,223.1l3,4.8l-3,4.8l-3,-4.8zM395.1,222.3l3,4.8l-3,4.8l-3,-4.8zM397.7,222.5l3,4.8l-3,4.8l-3,-4.8zM400.8,222.2l3,4.8l-3,4.8l-3,-4.8zM404.4,223.3l3,4.8l-3,4.8l-3,-4.8zM407,222.7l3,4.8l-3,4.8l-3,-4.8zM409.5,222.2l3,4.8l-3,4.8l-3,-4.8zM389.8,194.4l3,4.8l-3,4.8l-3,-4.8zM405.4,194.3l3,4.8l-3,4.8l-3,-4.8zM407.4,195.2l3,4.8l-3,4.8l-3,-4.8zM411,194.3l3,4.8l-3,4.8l-3,-4.8zM414.1,194.1l3,4.8l-3,4.8l-3,-4.8zM417,195.3l3,4.8l-3,4.8l-3,-4.8zM420.4,194.9l3,4.8l-3,4.8l-3,-4.8zM422.7,194.5l3,4.8l-3,4.8l-3,-4.8zM425.6,195l3,4.8l-3,4.8l-3,-4.8zM391.5,198l3,4.8l-3,4.8l-3,-4.8zM406.3,197.4l3,4.8l-3,4.8l-3,-4.8zM409.9,198.3l3,4.8l-3,4.8l-3,-4.8zM412.9,198.1l3,4.8l-3,4.8l-3,-4.8zM415.9,198l3,4.8l-3,4.8l-3,-4.8zM418.2,197.7l3,4.8l-3,4.8l-3,-4.8zM421.3,197.1l3,4.8l-3,4.8l-3,-4.8zM423.9,197.4l3,4.8l-3,4.8l-3,-4.8zM389.7,200.9l3,4.8l-3,4.8l-3,-4.8zM405.5,200.6l3,4.8l-3,4.8l-3,-4.8zM408.5,201.3l3,4.8l-3,4.8l-3,-4.8zM411.5,200.5l3,4.8l-3,4.8l-3,-4.8zM413.7,200.4l3,4.8l-3,4.8l-3,-4.8zM416.6,200.3l3,4.8l-3,4.8l-3,-4.8zM420.1,201.2l3,4.8l-3,4.8l-3,-4.8zM423.4,200.7l3,4.8l-3,4.8l-3,-4.8zM391.7,204.1l3,4.8l-3,4.8l-3,-4.8zM403,203.9l3,4.8l-3,4.8l-3,-4.8zM407,204l3,4.8l-3,4.8l-3,-4.8zM409.8,203.7l3,4.8l-3,4.8l-3,-4.8zM412.1,204l3,4.8l-3,4.8l-3,-4.8zM415.3,204.1l3,4.8l-3,4.8l-3,-4.8zM419.1,203.6l3,4.8l-3,4.8l-3,-4.8zM389.9,207.2l3,4.8l-3,4.8l-3,-4.8zM393.3,206.3l3,4.8l-3,4.8l-3,-4.8zM401.6,206.3l3,4.8l-3,4.8l-3,-4.8zM405.5,207.1l3,4.8l-3,4.8l-3,-4.8zM407.6,207.1l3,4.8l-3,4.8l-3,-4.8zM411.6,206.9l3,4.8l-3,4.8l-3,-4.8zM413.8,206.8l3,4.8l-3,4.8l-3,-4.8zM416.6,206.1l3,4.8l-3,4.8l-3,-4.8zM420.6,206.9l3,4.8l-3,4.8l-3,-4.8zM426.6,183.3l3,4.8l-3,4.8l-3,-4.8zM429.5,183.2l3,4.8l-3,4.8l-3,-4.8zM422.5,185.5l3,4.8l-3,4.8l-3,-4.8zM424.8,185.6l3,4.8l-3,4.8l-3,-4.8zM427.8,185.9l3,4.8l-3,4.8l-3,-4.8zM454.6,130.6l3,4.8l-3,4.8l-3,-4.8zM457.5,131.2l3,4.8l-3,4.8l-3,-4.8zM460.7,130.6l3,4.8l-3,4.8l-3,-4.8zM456.5,134.2l3,4.8l-3,4.8l-3,-4.8zM459.3,134.2l3,4.8l-3,4.8l-3,-4.8zM462.4,133.7l3,4.8l-3,4.8l-3,-4.8zM454.9,136.1l3,4.8l-3,4.8l-3,-4.8zM457.8,136.3l3,4.8l-3,4.8l-3,-4.8zM460.3,137.1l3,4.8l-3,4.8l-3,-4.8zM444,139.7l3,4.8l-3,4.8l-3,-4.8zM447.7,139.8l3,4.8l-3,4.8l-3,-4.8zM450.2,139.7l3,4.8l-3,4.8l-3,-4.8zM453.5,140l3,4.8l-3,4.8l-3,-4.8zM455.9,139.8l3,4.8l-3,4.8l-3,-4.8zM459.1,139.4l3,4.8l-3,4.8l-3,-4.8zM462.7,139.7l3,4.8l-3,4.8l-3,-4.8zM443,143l3,4.8l-3,4.8l-3,-4.8zM446.4,142.6l3,4.8l-3,4.8l-3,-4.8zM449,142.7l3,4.8l-3,4.8l-3,-4.8zM451.9,142.9l3,4.8l-3,4.8l-3,-4.8zM454.8,142.7l3,4.8l-3,4.8l-3,-4.8zM457.9,143.2l3,4.8l-3,4.8l-3,-4.8zM461.1,143.2l3,4.8l-3,4.8l-3,-4.8zM433.9,150.4l3,4.8l-3,4.8l-3,-4.8zM436.5,151.2l3,4.8l-3,4.8l-3,-4.8zM439.8,150.3l3,4.8l-3,4.8l-3,-4.8zM441.9,150.6l3,4.8l-3,4.8l-3,-4.8zM444.9,150.4l3,4.8l-3,4.8l-3,-4.8zM447.9,150.9l3,4.8l-3,4.8l-3,-4.8zM451.7,151.2l3,4.8l-3,4.8l-3,-4.8zM454,151l3,4.8l-3,4.8l-3,-4.8zM457.6,150.3l3,4.8l-3,4.8l-3,-4.8zM460.9,151.3l3,4.8l-3,4.8l-3,-4.8zM434.6,154.2l3,4.8l-3,4.8l-3,-4.8zM437.8,153.7l3,4.8l-3,4.8l-3,-4.8zM441.5,154.1l3,4.8l-3,4.8l-3,-4.8zM443.5,153.6l3,4.8l-3,4.8l-3,-4.8zM446.9,153.5l3,4.8l-3,4.8l-3,-4.8zM449.5,153.5l3,4.8l-3,4.8l-3,-4.8zM453.2,153.1l3,4.8l-3,4.8l-3,-4.8zM456,153.6l3,4.8l-3,4.8l-3,-4.8zM458.3,153.5l3,4.8l-3,4.8l-3,-4.8zM462,153.7l3,4.8l-3,4.8l-3,-4.8zM432.9,157.3l3,4.8l-3,4.8l-3,-4.8zM436.7,157.3l3,4.8l-3,4.8l-3,-4.8zM438.9,156.4l3,4.8l-3,4.8l-3,-4.8zM441.8,157l3,4.8l-3,4.8l-3,-4.8zM445.1,156.3l3,4.8l-3,4.8l-3,-4.8zM448.3,157.2l3,4.8l-3,4.8l-3,-4.8zM451.8,156.4l3,4.8l-3,4.8l-3,-4.8zM454,157.2l3,4.8l-3,4.8l-3,-4.8zM457.5,156.9l3,4.8l-3,4.8l-3,-4.8zM459.9,156.2l3,4.8l-3,4.8l-3,-4.8zM435.1,159.6l3,4.8l-3,4.8l-3,-4.8zM437.4,160.2l3,4.8l-3,4.8l-3,-4.8zM441.1,160.1l3,4.8l-3,4.8l-3,-4.8zM443.4,160.1l3,4.8l-3,4.8l-3,-4.8zM446.4,160.1l3,4.8l-3,4.8l-3,-4.8zM449.8,159.5l3,4.8l-3,4.8l-3,-4.8zM453,160.2l3,4.8l-3,4.8l-3,-4.8zM455.6,159.3l3,4.8l-3,4.8l-3,-4.8zM458.9,159.4l3,4.8l-3,4.8l-3,-4.8zM461.4,159.3l3,4.8l-3,4.8l-3,-4.8zM432.9,162.3l3,4.8l-3,4.8l-3,-4.8zM436.2,162.5l3,4.8l-3,4.8l-3,-4.8zM439.7,162.4l3,4.8l-3,4.8l-3,-4.8zM442.4,162.3l3,4.8l-3,4.8l-3,-4.8zM445.2,162.1l3,4.8l-3,4.8l-3,-4.8zM448.1,162.1l3,4.8l-3,4.8l-3,-4.8zM451.7,162.8l3,4.8l-3,4.8l-3,-4.8zM454,162.7l3,4.8l-3,4.8l-3,-4.8zM457.9,162.2l3,4.8l-3,4.8l-3,-4.8zM460.8,162.6l3,4.8l-3,4.8l-3,-4.8zM427,189.1l3,4.8l-3,4.8l-3,-4.8zM429.9,188.7l3,4.8l-3,4.8l-3,-4.8zM433.2,189.3l3,4.8l-3,4.8l-3,-4.8zM435.8,189.1l3,4.8l-3,4.8l-3,-4.8zM439.2,188.9l3,4.8l-3,4.8l-3,-4.8zM428.4,191.5l3,4.8l-3,4.8l-3,-4.8zM431,191.3l3,4.8l-3,4.8l-3,-4.8zM434,192l3,4.8l-3,4.8l-3,-4.8zM437.2,191.3l3,4.8l-3,4.8l-3,-4.8zM426.5,195.1l3,4.8l-3,4.8l-3,-4.8zM430.4,194.9l3,4.8l-3,4.8l-3,-4.8zM432.7,194.4l3,4.8l-3,4.8l-3,-4.8zM438.8,194.7l3,4.8l-3,4.8l-3,-4.8zM428.1,197.6l3,4.8l-3,4.8l-3,-4.8zM431.2,198.3l3,4.8l-3,4.8l-3,-4.8zM435.1,197.8l3,4.8l-3,4.8l-3,-4.8zM426.7,201.3l3,4.8l-3,4.8l-3,-4.8zM429.8,200.5l3,4.8l-3,4.8l-3,-4.8zM432.4,200.6l3,4.8l-3,4.8l-3,-4.8zM454.2,110.7l3,4.8l-3,4.8l-3,-4.8zM456.8,110.7l3,4.8l-3,4.8l-3,-4.8zM459.6,110.4l3,4.8l-3,4.8l-3,-4.8zM462.7,110.6l3,4.8l-3,4.8l-3,-4.8zM465.7,110.1l3,4.8l-3,4.8l-3,-4.8zM469,110.4l3,4.8l-3,4.8l-3,-4.8zM472.3,110.7l3,4.8l-3,4.8l-3,-4.8zM475.5,110.9l3,4.8l-3,4.8l-3,-4.8zM456,114.2l3,4.8l-3,4.8l-3,-4.8zM458.6,113.5l3,4.8l-3,4.8l-3,-4.8zM462.3,113.3l3,4.8l-3,4.8l-3,-4.8zM465,113.9l3,4.8l-3,4.8l-3,-4.8zM467.2,114.1l3,4.8l-3,4.8l-3,-4.8zM471.2,113.9l3,4.8l-3,4.8l-3,-4.8zM474,114.1l3,4.8l-3,4.8l-3,-4.8zM476.3,113.7l3,4.8l-3,4.8l-3,-4.8zM454.2,117.1l3,4.8l-3,4.8l-3,-4.8zM457.6,117.1l3,4.8l-3,4.8l-3,-4.8zM460.3,117.2l3,4.8l-3,4.8l-3,-4.8zM463.4,116.9l3,4.8l-3,4.8l-3,-4.8zM465.9,116.1l3,4.8l-3,4.8l-3,-4.8zM468.8,116.5l3,4.8l-3,4.8l-3,-4.8zM471.7,117.1l3,4.8l-3,4.8l-3,-4.8zM475.3,116.9l3,4.8l-3,4.8l-3,-4.8zM455.9,119.9l3,4.8l-3,4.8l-3,-4.8zM458.7,119.1l3,4.8l-3,4.8l-3,-4.8zM462.1,120l3,4.8l-3,4.8l-3,-4.8zM464.7,119.7l3,4.8l-3,4.8l-3,-4.8zM467.9,119.2l3,4.8l-3,4.8l-3,-4.8zM471,119.4l3,4.8l-3,4.8l-3,-4.8zM473.2,119.4l3,4.8l-3,4.8l-3,-4.8zM477,119.3l3,4.8l-3,4.8l-3,-4.8zM457.5,123.3l3,4.8l-3,4.8l-3,-4.8zM460.2,122.6l3,4.8l-3,4.8l-3,-4.8zM463.2,122.9l3,4.8l-3,4.8l-3,-4.8zM466.5,122.8l3,4.8l-3,4.8l-3,-4.8zM469.4,122.2l3,4.8l-3,4.8l-3,-4.8zM471.8,122.4l3,4.8l-3,4.8l-3,-4.8zM475.5,122.5l3,4.8l-3,4.8l-3,-4.8zM465.6,91.5l3,4.8l-3,4.8l-3,-4.8zM468,91.8l3,4.8l-3,4.8l-3,-4.8zM471.7,92.3l3,4.8l-3,4.8l-3,-4.8zM464.2,94.8l3,4.8l-3,4.8l-3,-4.8zM467,95.1l3,4.8l-3,4.8l-3,-4.8zM470,94.6l3,4.8l-3,4.8l-3,-4.8zM463,97.7l3,4.8l-3,4.8l-3,-4.8zM466.1,98.6l3,4.8l-3,4.8l-3,-4.8zM467.9,98.1l3,4.8l-3,4.8l-3,-4.8zM471.9,98.7l3,4.8l-3,4.8l-3,-4.8zM463.9,100.8l3,4.8l-3,4.8l-3,-4.8zM466.7,101.6l3,4.8l-3,4.8l-3,-4.8zM469.7,101.2l3,4.8l-3,4.8l-3,-4.8zM476.6,105.2l3,4.8l-3,4.8l-3,-4.8zM476,107.8l3,4.8l-3,4.8l-3,-4.8zM478.9,108.2l3,4.8l-3,4.8l-3,-4.8zM474.5,111.4l3,4.8l-3,4.8l-3,-4.8zM476.7,111.7l3,4.8l-3,4.8l-3,-4.8zM475.5,113.6l3,4.8l-3,4.8l-3,-4.8zM473.4,117.2l3,4.8l-3,4.8l-3,-4.8zM472.4,120l3,4.8l-3,4.8l-3,-4.8zM475.1,120l3,4.8l-3,4.8l-3,-4.8zM470.8,123.6l3,4.8l-3,4.8l-3,-4.8zM473.4,123.5l3,4.8l-3,4.8l-3,-4.8zM472.9,125.7l3,4.8l-3,4.8l-3,-4.8zM471.5,129.5l3,4.8l-3,4.8l-3,-4.8zM470,131.9l3,4.8l-3,4.8l-3,-4.8zM467.8,135.1l3,4.8l-3,4.8l-3,-4.8zM467.1,138.3l3,4.8l-3,4.8l-3,-4.8zM464.8,141.1l3,4.8l-3,4.8l-3,-4.8zM463.2,143.7l3,4.8l-3,4.8l-3,-4.8zM466,144.6l3,4.8l-3,4.8l-3,-4.8zM461.7,147.7l3,4.8l-3,4.8l-3,-4.8zM464.7,146.9l3,4.8l-3,4.8l-3,-4.8zM460.5,149.8l3,4.8l-3,4.8l-3,-4.8zM463.3,150.7l3,4.8l-3,4.8l-3,-4.8zM459.5,153.6l3,4.8l-3,4.8l-3,-4.8zM457.7,156.7l3,4.8l-3,4.8l-3,-4.8zM456.5,159.3l3,4.8l-3,4.8l-3,-4.8zM454.8,161.7l3,4.8l-3,4.8l-3,-4.8zM453.3,165.1l3,4.8l-3,4.8l-3,-4.8zM448.8,168.4l3,4.8l-3,4.8l-3,-4.8zM451.2,167.7l3,4.8l-3,4.8l-3,-4.8zM447.5,170.8l3,4.8l-3,4.8l-3,-4.8zM450,171l3,4.8l-3,4.8l-3,-4.8zM445.3,174.5l3,4.8l-3,4.8l-3,-4.8zM444.6,176.9l3,4.8l-3,4.8l-3,-4.8zM439.7,180l3,4.8l-3,4.8l-3,-4.8zM442.6,180.1l3,4.8l-3,4.8l-3,-4.8zM437.6,182.8l3,4.8l-3,4.8l-3,-4.8zM433.1,186.7l3,4.8l-3,4.8l-3,-4.8zM436.5,185.9l3,4.8l-3,4.8l-3,-4.8zM432.5,189.8l3,4.8l-3,4.8l-3,-4.8zM434.9,188.8l3,4.8l-3,4.8l-3,-4.8zM427.1,191.7l3,4.8l-3,4.8l-3,-4.8zM430.3,191.7l3,4.8l-3,4.8l-3,-4.8zM425.7,194.9l3,4.8l-3,4.8l-3,-4.8zM429.1,195.7l3,4.8l-3,4.8l-3,-4.8zM421.8,198.1l3,4.8l-3,4.8l-3,-4.8zM424.4,198.2l3,4.8l-3,4.8l-3,-4.8zM236.9,201l3,4.8l-3,4.8l-3,-4.8zM416.5,200.9l3,4.8l-3,4.8l-3,-4.8zM420.6,200.8l3,4.8l-3,4.8l-3,-4.8zM423,201.4l3,4.8l-3,4.8l-3,-4.8zM238.9,203.9l3,4.8l-3,4.8l-3,-4.8zM415.2,203.9l3,4.8l-3,4.8l-3,-4.8zM418.4,204.1l3,4.8l-3,4.8l-3,-4.8zM237.5,207.6l3,4.8l-3,4.8l-3,-4.8zM240.4,206.6l3,4.8l-3,4.8l-3,-4.8zM242.4,207.5l3,4.8l-3,4.8l-3,-4.8zM411.5,207.2l3,4.8l-3,4.8l-3,-4.8zM414.1,206.6l3,4.8l-3,4.8l-3,-4.8zM241.4,210.7l3,4.8l-3,4.8l-3,-4.8zM244.9,210.6l3,4.8l-3,4.8l-3,-4.8zM248.1,209.9l3,4.8l-3,4.8l-3,-4.8zM406,209.8l3,4.8l-3,4.8l-3,-4.8zM409.5,210.4l3,4.8l-3,4.8l-3,-4.8zM413,210.5l3,4.8l-3,4.8l-3,-4.8zM243.2,213.5l3,4.8l-3,4.8l-3,-4.8zM245.9,213.3l3,4.8l-3,4.8l-3,-4.8zM248.4,213.5l3,4.8l-3,4.8l-3,-4.8zM251.7,213.7l3,4.8l-3,4.8l-3,-4.8zM402.2,213l3,4.8l-3,4.8l-3,-4.8zM404.6,212.9l3,4.8l-3,4.8l-3,-4.8zM408.2,213.4l3,4.8l-3,4.8l-3,-4.8zM247,215.7l3,4.8l-3,4.8l-3,-4.8zM250.5,216.3l3,4.8l-3,4.8l-3,-4.8zM253.4,215.9l3,4.8l-3,4.8l-3,-4.8zM256.6,215.6l3,4.8l-3,4.8l-3,-4.8zM394.3,216.2l3,4.8l-3,4.8l-3,-4.8zM398.1,216.4l3,4.8l-3,4.8l-3,-4.8zM401,216.2l3,4.8l-3,4.8l-3,-4.8zM403.2,215.9l3,4.8l-3,4.8l-3,-4.8zM252.6,219.4l3,4.8l-3,4.8l-3,-4.8zM254.8,218.6l3,4.8l-3,4.8l-3,-4.8zM258,219.4l3,4.8l-3,4.8l-3,-4.8zM260.9,218.9l3,4.8l-3,4.8l-3,-4.8zM390.2,219.7l3,4.8l-3,4.8l-3,-4.8zM392.7,218.6l3,4.8l-3,4.8l-3,-4.8zM395.8,219.1l3,4.8l-3,4.8l-3,-4.8zM399.2,218.8l3,4.8l-3,4.8l-3,-4.8zM256.9,222.5l3,4.8l-3,4.8l-3,-4.8zM259.5,221.8l3,4.8l-3,4.8l-3,-4.8zM263.1,222l3,4.8l-3,4.8l-3,-4.8zM265.9,221.9l3,4.8l-3,4.8l-3,-4.8zM382.2,222.5l3,4.8l-3,4.8l-3,-4.8zM385.3,222.7l3,4.8l-3,4.8l-3,-4.8zM388.5,221.8l3,4.8l-3,4.8l-3,-4.8zM391.2,222.1l3,4.8l-3,4.8l-3,-4.8zM394.7,222.7l3,4.8l-3,4.8l-3,-4.8zM257.6,225.1l3,4.8l-3,4.8l-3,-4.8zM260.7,225.8l3,4.8l-3,4.8l-3,-4.8zM263.6,224.7l3,4.8l-3,4.8l-3,-4.8zM266.5,225.1l3,4.8l-3,4.8l-3,-4.8zM270.5,225.7l3,4.8l-3,4.8l-3,-4.8zM273.3,225.8l3,4.8l-3,4.8l-3,-4.8zM375.5,225l3,4.8l-3,4.8l-3,-4.8zM377.6,225.7l3,4.8l-3,4.8l-3,-4.8zM381.3,224.6l3,4.8l-3,4.8l-3,-4.8zM384.2,225.1l3,4.8l-3,4.8l-3,-4.8zM386.8,225l3,4.8l-3,4.8l-3,-4.8zM389.6,224.6l3,4.8l-3,4.8l-3,-4.8zM262.2,228l3,4.8l-3,4.8l-3,-4.8zM266,227.7l3,4.8l-3,4.8l-3,-4.8zM269.1,227.8l3,4.8l-3,4.8l-3,-4.8zM271.3,228.6l3,4.8l-3,4.8l-3,-4.8zM274.9,228.1l3,4.8l-3,4.8l-3,-4.8zM277,228.2l3,4.8l-3,4.8l-3,-4.8zM280.3,228.7l3,4.8l-3,4.8l-3,-4.8zM283.1,228l3,4.8l-3,4.8l-3,-4.8zM365,227.6l3,4.8l-3,4.8l-3,-4.8zM367.4,228.6l3,4.8l-3,4.8l-3,-4.8zM370.8,227.6l3,4.8l-3,4.8l-3,-4.8zM372.9,227.7l3,4.8l-3,4.8l-3,-4.8zM377,227.9l3,4.8l-3,4.8l-3,-4.8zM379.8,228.7l3,4.8l-3,4.8l-3,-4.8zM382.3,227.9l3,4.8l-3,4.8l-3,-4.8zM386,228.3l3,4.8l-3,4.8l-3,-4.8zM266.7,231.5l3,4.8l-3,4.8l-3,-4.8zM269.8,230.9l3,4.8l-3,4.8l-3,-4.8zM272.4,231.5l3,4.8l-3,4.8l-3,-4.8zM276.5,231.4l3,4.8l-3,4.8l-3,-4.8zM279.5,230.6l3,4.8l-3,4.8l-3,-4.8zM281.7,231.2l3,4.8l-3,4.8l-3,-4.8zM285.5,231.7l3,4.8l-3,4.8l-3,-4.8zM287.9,230.9l3,4.8l-3,4.8l-3,-4.8zM290.9,231.2l3,4.8l-3,4.8l-3,-4.8zM294.5,230.8l3,4.8l-3,4.8l-3,-4.8zM297.4,231.5l3,4.8l-3,4.8l-3,-4.8zM351.4,231.5l3,4.8l-3,4.8l-3,-4.8zM354.1,231l3,4.8l-3,4.8l-3,-4.8zM356.8,231l3,4.8l-3,4.8l-3,-4.8zM360.3,230.7l3,4.8l-3,4.8l-3,-4.8zM362.6,231.5l3,4.8l-3,4.8l-3,-4.8zM365.7,230.7l3,4.8l-3,4.8l-3,-4.8zM368.4,231.3l3,4.8l-3,4.8l-3,-4.8zM371.8,231.8l3,4.8l-3,4.8l-3,-4.8zM375.5,231.8l3,4.8l-3,4.8l-3,-4.8zM377.7,230.7l3,4.8l-3,4.8l-3,-4.8zM274,234.2l3,4.8l-3,4.8l-3,-4.8zM277.8,234.1l3,4.8l-3,4.8l-3,-4.8zM280.2,234.1l3,4.8l-3,4.8l-3,-4.8zM283.6,234.4l3,4.8l-3,4.8l-3,-4.8zM286.8,234.6l3,4.8l-3,4.8l-3,-4.8zM289.7,233.7l3,4.8l-3,4.8l-3,-4.8zM292.9,234l3,4.8l-3,4.8l-3,-4.8zM295.6,234l3,4.8l-3,4.8l-3,-4.8zM298.8,233.8l3,4.8l-3,4.8l-3,-4.8zM301.2,233.9l3,4.8l-3,4.8l-3,-4.8zM304.1,234.7l3,4.8l-3,4.8l-3,-4.8zM307.6,234l3,4.8l-3,4.8l-3,-4.8zM310.4,234.8l3,4.8l-3,4.8l-3,-4.8zM313.5,233.9l3,4.8l-3,4.8l-3,-4.8zM316.9,234.4l3,4.8l-3,4.8l-3,-4.8zM320.1,233.7l3,4.8l-3,4.8l-3,-4.8zM322.5,234.6l3,4.8l-3,4.8l-3,-4.8zM325.9,234.7l3,4.8l-3,4.8l-3,-4.8zM327.9,234l3,4.8l-3,4.8l-3,-4.8zM331,233.8l3,4.8l-3,4.8l-3,-4.8zM335.1,234.3l3,4.8l-3,4.8l-3,-4.8zM338,234l3,4.8l-3,4.8l-3,-4.8zM340.9,234.1l3,4.8l-3,4.8l-3,-4.8zM343.2,234.5l3,4.8l-3,4.8l-3,-4.8zM347,233.7l3,4.8l-3,4.8l-3,-4.8zM349.6,234.3l3,4.8l-3,4.8l-3,-4.8zM352.2,234l3,4.8l-3,4.8l-3,-4.8zM355.1,233.8l3,4.8l-3,4.8l-3,-4.8zM358.2,234.3l3,4.8l-3,4.8l-3,-4.8zM361.7,233.8l3,4.8l-3,4.8l-3,-4.8zM363.9,234l3,4.8l-3,4.8l-3,-4.8zM367.7,233.8l3,4.8l-3,4.8l-3,-4.8zM370.3,233.8l3,4.8l-3,4.8l-3,-4.8zM373.9,234.3l3,4.8l-3,4.8l-3,-4.8zM278.5,236.7l3,4.8l-3,4.8l-3,-4.8zM281.9,237.3l3,4.8l-3,4.8l-3,-4.8zM285.2,236.7l3,4.8l-3,4.8l-3,-4.8zM287.6,237.4l3,4.8l-3,4.8l-3,-4.8zM290.9,236.9l3,4.8l-3,4.8l-3,-4.8zM293.8,237.7l3,4.8l-3,4.8l-3,-4.8zM296.8,237.3l3,4.8l-3,4.8l-3,-4.8zM299.8,237.1l3,4.8l-3,4.8l-3,-4.8zM303.4,237.8l3,4.8l-3,4.8l-3,-4.8zM305.8,236.8l3,4.8l-3,4.8l-3,-4.8zM309.3,236.8l3,4.8l-3,4.8l-3,-4.8zM311.4,237.7l3,4.8l-3,4.8l-3,-4.8zM314.9,237.6l3,4.8l-3,4.8l-3,-4.8zM317.9,237.7l3,4.8l-3,4.8l-3,-4.8zM321,236.8l3,4.8l-3,4.8l-3,-4.8zM323.4,237.3l3,4.8l-3,4.8l-3,-4.8zM327.2,237.7l3,4.8l-3,4.8l-3,-4.8zM329.5,237.3l3,4.8l-3,4.8l-3,-4.8zM332.8,237.2l3,4.8l-3,4.8l-3,-4.8zM335.6,236.9l3,4.8l-3,4.8l-3,-4.8zM339,237.7l3,4.8l-3,4.8l-3,-4.8zM341.5,237.2l3,4.8l-3,4.8l-3,-4.8zM345.4,237.8l3,4.8l-3,4.8l-3,-4.8zM347.6,236.8l3,4.8l-3,4.8l-3,-4.8zM351.5,237.8l3,4.8l-3,4.8l-3,-4.8zM354,236.7l3,4.8l-3,4.8l-3,-4.8zM357.5,237.1l3,4.8l-3,4.8l-3,-4.8zM360.5,237.3l3,4.8l-3,4.8l-3,-4.8zM363.4,236.8l3,4.8l-3,4.8l-3,-4.8zM366.3,236.9l3,4.8l-3,4.8l-3,-4.8zM286.4,240.6l3,4.8l-3,4.8l-3,-4.8zM289.9,239.8l3,4.8l-3,4.8l-3,-4.8zM292.2,240.1l3,4.8l-3,4.8l-3,-4.8zM295.5,240.1l3,4.8l-3,4.8l-3,-4.8zM298,239.9l3,4.8l-3,4.8l-3,-4.8zM301.8,240.7l3,4.8l-3,4.8l-3,-4.8zM303.9,240.3l3,4.8l-3,4.8l-3,-4.8zM307.8,239.6l3,4.8l-3,4.8l-3,-4.8zM310.9,239.7l3,4.8l-3,4.8l-3,-4.8zM313.6,240.3l3,4.8l-3,4.8l-3,-4.8zM316.7,240l3,4.8l-3,4.8l-3,-4.8zM319.4,240.3l3,4.8l-3,4.8l-3,-4.8zM322.4,240.4l3,4.8l-3,4.8l-3,-4.8zM325.4,240.1l3,4.8l-3,4.8l-3,-4.8zM327.9,240.3l3,4.8l-3,4.8l-3,-4.8zM331.5,239.9l3,4.8l-3,4.8l-3,-4.8zM334.8,240.5l3,4.8l-3,4.8l-3,-4.8zM337.4,239.8l3,4.8l-3,4.8l-3,-4.8zM340.5,239.7l3,4.8l-3,4.8l-3,-4.8zM343.1,240.1l3,4.8l-3,4.8l-3,-4.8zM346,240.1l3,4.8l-3,4.8l-3,-4.8zM349.5,239.6l3,4.8l-3,4.8l-3,-4.8zM352.7,239.7l3,4.8l-3,4.8l-3,-4.8zM355.8,240.5l3,4.8l-3,4.8l-3,-4.8zM358.5,239.7l3,4.8l-3,4.8l-3,-4.8zM294,243.1l3,4.8l-3,4.8l-3,-4.8zM297.5,242.8l3,4.8l-3,4.8l-3,-4.8zM300.4,243.8l3,4.8l-3,4.8l-3,-4.8zM303.3,243.6l3,4.8l-3,4.8l-3,-4.8zM305.6,243.8l3,4.8l-3,4.8l-3,-4.8zM309,243.7l3,4.8l-3,4.8l-3,-4.8zM312.5,242.8l3,4.8l-3,4.8l-3,-4.8zM315.3,243.7l3,4.8l-3,4.8l-3,-4.8zM317.5,243l3,4.8l-3,4.8l-3,-4.8zM321.3,242.8l3,4.8l-3,4.8l-3,-4.8zM324.5,242.9l3,4.8l-3,4.8l-3,-4.8zM327.4,242.8l3,4.8l-3,4.8l-3,-4.8zM330,243.7l3,4.8l-3,4.8l-3,-4.8zM332.6,242.9l3,4.8l-3,4.8l-3,-4.8zM336,243l3,4.8l-3,4.8l-3,-4.8zM338.4,242.8l3,4.8l-3,4.8l-3,-4.8zM341.6,243.7l3,4.8l-3,4.8l-3,-4.8zM345.2,243.7l3,4.8l-3,4.8l-3,-4.8zM347.6,243.5l3,4.8l-3,4.8l-3,-4.8zM350.5,243.2l3,4.8l-3,4.8l-3,-4.8zM304.7,246l3,4.8l-3,4.8l-3,-4.8zM307.9,246.3l3,4.8l-3,4.8l-3,-4.8zM310.6,246.7l3,4.8l-3,4.8l-3,-4.8zM313,246.8l3,4.8l-3,4.8l-3,-4.8zM316.7,246.1l3,4.8l-3,4.8l-3,-4.8zM319.9,245.9l3,4.8l-3,4.8l-3,-4.8zM323.1,246.3l3,4.8l-3,4.8l-3,-4.8zM325.3,246.5l3,4.8l-3,4.8l-3,-4.8zM328.4,245.8l3,4.8l-3,4.8l-3,-4.8zM331.8,245.7l3,4.8l-3,4.8l-3,-4.8zM334.9,245.9l3,4.8l-3,4.8l-3,-4.8zM337.7,246.8l3,4.8l-3,4.8l-3,-4.8zM198.6,187.9l3,4.8l-3,4.8l-3,-4.8zM182.4,219.6l3,4.8l-3,4.8l-3,-4.8zM173,97.1l3,4.8l-3,4.8l-3,-4.8zM179.1,94.4l3,4.8l-3,4.8l-3,-4.8zM189.2,96.4l3,4.8l-3,4.8l-3,-4.8zM231.4,161.9l3,4.8l-3,4.8l-3,-4.8zM261.5,161.9l3,4.8l-3,4.8l-3,-4.8zM223,187.7l3,4.8l-3,4.8l-3,-4.8zM229.1,207.9l3,4.8l-3,4.8l-3,-4.8zM241.9,208.6l3,4.8l-3,4.8l-3,-4.8zM248,209.3l3,4.8l-3,4.8l-3,-4.8zM250,217l3,4.8l-3,4.8l-3,-4.8zM301.6,108.9l3,4.8l-3,4.8l-3,-4.8zM252.7,124.7l3,4.8l-3,4.8l-3,-4.8zM263.8,122.4l3,4.8l-3,4.8l-3,-4.8zM275.3,118.7l3,4.8l-3,4.8l-3,-4.8zM348.9,231.3l3,4.8l-3,4.8l-3,-4.8zM331.2,234.3l3,4.8l-3,4.8l-3,-4.8zM369.6,229l3,4.8l-3,4.8l-3,-4.8zM376.1,221.9l3,4.8l-3,4.8l-3,-4.8zM380.6,213.6l3,4.8l-3,4.8l-3,-4.8zM399.1,210.9l3,4.8l-3,4.8l-3,-4.8zM406.2,219.1l3,4.8l-3,4.8l-3,-4.8zM387.2,217.3l3,4.8l-3,4.8l-3,-4.8zM344.3,249.7l3,4.8l-3,4.8l-3,-4.8zM348,243.6l3,4.8l-3,4.8l-3,-4.8zM418.8,171.9l3,4.8l-3,4.8l-3,-4.8zM425.6,178.3l3,4.8l-3,4.8l-3,-4.8zM436.7,176.7l3,4.8l-3,4.8l-3,-4.8zM450,144.2l3,4.8l-3,4.8l-3,-4.8zM451.8,151.6l3,4.8l-3,4.8l-3,-4.8zM449.6,168.9l3,4.8l-3,4.8l-3,-4.8zM412.4,217l3,4.8l-3,4.8l-3,-4.8zM390.1,217.7l3,4.8l-3,4.8l-3,-4.8zM461,73.1l3,4.8l-3,4.8l-3,-4.8zM470.5,107.6l3,4.8l-3,4.8l-3,-4.8zM466.5,113l3,4.8l-3,4.8l-3,-4.8zM469.5,117.3l3,4.8l-3,4.8l-3,-4.8zM475.2,116.6l3,4.8l-3,4.8l-3,-4.8zM499.6,166.2l3,4.8l-3,4.8l-3,-4.8zM470.5,85.8l3,4.8l-3,4.8l-3,-4.8zM480,85.8l3,4.8l-3,4.8l-3,-4.8zM120.7,102.4l3,4.8l-3,4.8l-3,-4.8zM254.6,248.6l3,4.8l-3,4.8l-3,-4.8zM238.7,250l3,4.8l-3,4.8l-3,-4.8zM252.2,257l3,4.8l-3,4.8l-3,-4.8zM316.8,242.2l3,4.8l-3,4.8l-3,-4.8zM262.2,222.4l3,4.8l-3,4.8l-3,-4.8zM296.1,241.4l3,4.8l-3,4.8l-3,-4.8zM308.1,241.4l3,4.8l-3,4.8l-3,-4.8zM312.3,242.4l3,4.8l-3,4.8l-3,-4.8zM321.4,242.9l3,4.8l-3,4.8l-3,-4.8zM325.1,241.5l3,4.8l-3,4.8l-3,-4.8zM328.7,242.4l3,4.8l-3,4.8l-3,-4.8zM332.4,242l3,4.8l-3,4.8l-3,-4.8zM336,240.6l3,4.8l-3,4.8l-3,-4.8zM339.6,239.7l3,4.8l-3,4.8l-3,-4.8zM336.1,240.3l3,4.8l-3,4.8l-3,-4.8zM394.3,215.3l3,4.8l-3,4.8l-3,-4.8zM383.5,221.7l3,4.8l-3,4.8l-3,-4.8zM390.2,222.4l3,4.8l-3,4.8l-3,-4.8z" fill="#ff7f0e"/>
<path d="M167.4,30.3 L163.9,31.4 L160.5,32.6 L157.1,33.8 L153.9,34.9 L150.7,36.1 L147.5,37.3 L144.4,38.5 L141.4,39.8 L138.5,41 L135.5,42.3 L132.7,43.5 L129.9,44.8 L130,44.8 L131.2,44.7 L132.3,44.6 L133.5,44.4 L134.6,44.3 L135.8,44.2 L136.9,44.1 L137.9,44.1 L139,44 L140,43.9 L141.1,43.9 L142.1,43.9 L143,43.8 L144,43.8 L144.9,43.8 L145.8,43.8 L146.7,43.9 L147.6,43.9 L148.5,43.9 L149.3,44 L150.1,44 L150.9,44.1 L151.6,44.2 L152.4,44.3 L153.1,44.4 L153.8,44.5 L154.5,44.6 L155.2,44.7 L155.8,44.9 L156.4,45 L157,45.2 L157.6,45.3 L158.2,45.5 L158.8,45.7 L159.3,45.9 L159.8,46.1 L160.3,46.3 L160.8,46.6 L161.2,46.8 L161.7,47 L162.1,47.3 L162.5,47.6 L162.9,47.8 L163.3,48.1 L163.7,48.4 L164.1,48.7 L164.4,49 L164.7,49.3 L165.1,49.6 L165.4,50 L165.7,50.3 L166,50.7 L166.2,51 L166.5,51.4 L166.8,51.8 L167,52.1 L167.2,52.5 L167.5,52.9 L167.7,53.3 L167.9,53.7 L168.1,54.2 L168.3,54.6 L168.5,55 L168.6,55.4 L168.8,55.9 L169,56.3 L169.1,56.8 L169.3,57.3 L169.4,57.7 L169.5,58.2 L169.7,58.7 L169.8,59.2 L169.9,59.7 L170.1,60.2 L170.2,60.7 L170.3,61.2 L170.4,61.7 L170.5,62.2 L170.6,62.8 L170.7,63.3 L170.8,63.8 L170.9,64.4 L171,64.9 L171.1,65.5 L171.1,66 L171.2,66.6 L171.3,67.2 L171.4,67.7 L171.5,68.3 L171.6,68.9 L171.6,69.5 L171.7,70.1 L171.8,70.7 L171.9,71.3 L171.9,71.9 L172,72.5 L172.1,73.1 L172.2,73.7 L172.2,74.4 L172.3,75 L172.4,75.6 L172.5,76.3 L172.5,76.9 L172.6,77.5 L172.7,78.2 L172.8,78.8 L172.9,79.5 L172.9,80.1 L173,80.8 L173.1,81.5 L173.2,82.1 L173.3,82.8 L173.4,83.5 L173.5,84.2 L173.5,84.8 L173.6,85.5 L173.7,86.2 L173.8,86.9 L173.9,87.6 L174,88.3 L174.1,89 L174.2,89.7 L174.3,90.4 L174.4,91.1 L174.6,91.8 L174.7,92.5 L174.8,93.2 L174.9,94 L175,94.7 L175.2,95.4 L175.3,96.1 L175.4,96.9 L175.5,97.6 L175.7,98.3 L175.8,99 L176,99.8 L176.1,100.5 L176.3,101.3 L176.4,102 L176.6,102.8 L176.7,103.5 L176.9,104.2 L177,105 L177.2,105.7 L177.4,106.5 L177.5,107.3 L177.7,108 L177.9,108.8 L178.1,109.5 L178.3,110.3 L178.4,111.1 L178.6,111.8 L178.8,112.6 L179,113.4 L179.2,114.1 L179.4,114.9 L179.6,115.7 L179.9,116.5 L180.1,117.2 L180.3,118 L180.5,118.8 L180.7,119.6 L181,120.4 L181.2,121.1 L181.5,121.9 L181.7,122.7 L181.9,123.5 L182.2,124.3 L182.4,125.1 L182.7,125.9 L183,126.7 L183.2,127.5 L183.5,128.2 L183.8,129 L184,129.8 L184.3,130.6 L184.6,131.4 L184.9,132.2 L185.2,133 L185.5,133.8 L185.8,134.6 L186.1,135.4 L186.4,136.2 L186.7,137 L187,137.8 L187.3,138.6 L187.7,139.4 L188,140.2 L188.3,141 L188.6,141.8 L189,142.6 L189.3,143.4 L189.7,144.2 L190,145 L190.4,145.8 L190.7,146.6 L191.1,147.4 L191.5,148.2 L191.8,149.1 L192.2,149.9 L192.6,150.7 L193,151.5 L193.4,152.3 L193.7,153.1 L194.1,153.9 L194.5,154.7 L194.9,155.5 L195.4,156.3 L195.8,157.1 L196.2,157.9 L196.6,158.7 L197,159.5 L197.5,160.3 L197.9,161.1 L198.3,161.9 L198.8,162.7 L199.2,163.5 L199.7,164.3 L200.1,165.1 L200.6,165.9 L201,166.7 L201.5,167.5 L202,168.3 L202.4,169.1 L202.9,169.9 L203.4,170.7 L203.9,171.5 L204.4,172.3 L204.9,173 L205.4,173.8 L205.9,174.6 L206.4,175.4 L206.9,176.2 L207.4,177 L207.9,177.8 L208.4,178.6 L209,179.3 L209.5,180.1 L210,180.9 L210.6,181.7 L211.1,182.5 L211.7,183.2 L212.2,184 L212.8,184.8 L213.3,185.6 L213.9,186.3 L214.5,187.1 L215.1,187.9 L215.6,188.6 L216.2,189.4 L216.8,190.2 L217.4,190.9 L218,191.7 L218.6,192.4 L219.2,193.2 L219.8,193.9 L220.4,194.7 L221,195.4 L221.6,196.2 L222.3,196.9 L222.9,197.7 L223.5,198.4 L224.2,199.2 L224.8,199.9 L225.5,200.6 L226.1,201.4 L226.8,202.1 L227.4,202.8 L228.1,203.6 L228.7,204.3 L229.4,205 L230.1,205.7 L230.8,206.4 L231.5,207.2 L232.1,207.9 L232.8,208.6 L233.5,209.3 L234.2,210 L234.9,210.7 L235.6,211.4 L236.4,212.1 L237.1,212.8 L237.8,213.5 L238.5,214.2 L239.2,214.8 L240,215.5 L240.7,216.2 L241.5,216.9 L242.2,217.5 L243,218.2 L243.7,218.9 L244.5,219.5 L245.2,220.2 L246,220.8 L246.8,221.5 L247.6,222.1 L248.3,222.8 L249.1,223.4 L249.9,224 L250.7,224.7 L251.5,225.3 L252.3,225.9 L253.1,226.5 L253.9,227.2 L254.7,227.8 L255.5,228.4 L256.4,229 L257.2,229.6 L258,230.1 L258.9,230.7 L259.7,231.3 L260.5,231.9 L261.4,232.5 L262.2,233 L263.1,233.6 L263.9,234.1 L264.8,234.7 L265.7,235.2 L266.5,235.8 L267.4,236.3 L268.3,236.8 L269.2,237.4 L270.1,237.9 L270.9,238.4 L271.8,238.9 L272.7,239.4 L273.6,239.9 L274.5,240.4 L275.4,240.8 L276.4,241.3 L277.3,241.8 L278.2,242.2 L279.1,242.7 L280,243.1 L281,243.6 L281.9,244 L282.8,244.4 L283.8,244.8 L284.7,245.2 L285.7,245.6 L286.6,246 L287.6,246.4 L288.5,246.7 L289.5,247.1 L290.4,247.4 L291.4,247.8 L292.4,248.1 L293.3,248.4 L294.3,248.8 L295.3,249.1 L296.3,249.3 L297.3,249.6 L298.2,249.9 L299.2,250.2 L300.2,250.4 L301.2,250.6 L302.2,250.9 L303.2,251.1 L304.2,251.3 L305.2,251.5 L306.2,251.7 L307.2,251.8 L308.3,252 L309.3,252.1 L310.3,252.3 L311.3,252.4 L312.3,252.5 L313.4,252.6 L314.4,252.7 L315.4,252.7 L316.5,252.8 L317.5,252.8 L318.6,252.9 L319.6,252.9 L320.7,252.9 L321.7,252.9 L322.8,252.9 L323.8,252.8 L324.9,252.8 L325.9,252.7 L327,252.7 L328.1,252.6 L329.1,252.5 L330.2,252.4 L331.3,252.2 L332.4,252.1 L333.5,252 L334.5,251.8 L335.6,251.6 L336.7,251.4 L337.8,251.2 L338.9,251 L340,250.8 L341.1,250.6 L342.2,250.3 L343.3,250.1 L344.4,249.8 L345.4,249.6 L346.5,249.3 L347.6,249 L348.7,248.7 L349.8,248.4 L350.9,248 L352,247.7 L353.1,247.4 L354.2,247 L355.3,246.6 L356.4,246.3 L357.5,245.9 L358.6,245.5 L359.7,245.1 L360.8,244.7 L361.8,244.3 L362.9,243.9 L364,243.4 L365.1,243 L366.2,242.6 L367.2,242.1 L368.3,241.6 L369.4,241.2 L370.4,240.7 L371.5,240.2 L372.6,239.7 L373.6,239.3 L374.7,238.8 L375.7,238.2 L376.8,237.7 L377.8,237.2 L378.8,236.7 L379.9,236.2 L380.9,235.6 L381.9,235.1 L382.9,234.5 L384,234 L385,233.4 L386,232.9 L387,232.3 L388,231.7 L389,231.2 L390,230.6 L390.9,230 L391.9,229.4 L392.9,228.8 L393.9,228.2 L394.8,227.6 L395.8,227 L396.7,226.4 L397.7,225.8 L398.6,225.1 L399.6,224.5 L400.5,223.9 L401.5,223.2 L402.4,222.6 L403.3,222 L404.2,221.3 L405.1,220.7 L406,220 L406.9,219.3 L407.8,218.7 L408.7,218 L409.6,217.4 L410.5,216.7 L411.4,216 L412.2,215.3 L413.1,214.7 L413.9,214 L414.8,213.3 L415.6,212.6 L416.5,211.9 L417.3,211.2 L418.1,210.5 L419,209.8 L419.8,209.1 L420.6,208.4 L421.4,207.7 L422.2,207 L423,206.3 L423.8,205.5 L424.6,204.8 L425.4,204.1 L426.2,203.4 L426.9,202.6 L427.7,201.9 L428.5,201.2 L429.2,200.4 L430,199.7 L430.7,199 L431.4,198.2 L432.2,197.5 L432.9,196.7 L433.6,196 L434.3,195.2 L435,194.5 L435.7,193.7 L436.4,193 L437.1,192.2 L437.8,191.5 L438.5,190.7 L439.2,189.9 L439.8,189.2 L440.5,188.4 L441.2,187.7 L441.8,186.9 L442.5,186.1 L443.1,185.3 L443.8,184.6 L444.4,183.8 L445,183 L445.6,182.2 L446.2,181.5 L446.9,180.7 L447.5,179.9 L448.1,179.1 L448.6,178.3 L449.2,177.6 L449.8,176.8 L450.4,176 L451,175.2 L451.5,174.4 L452.1,173.6 L452.6,172.8 L453.2,172 L453.7,171.2 L454.3,170.5 L454.8,169.7 L455.3,168.9 L455.8,168.1 L456.4,167.3 L456.9,166.5 L457.4,165.7 L457.9,164.9 L458.4,164.1 L458.8,163.3 L459.3,162.5 L459.8,161.7 L460.3,160.9 L460.7,160.1 L461.2,159.3 L461.6,158.5 L462.1,157.7 L462.5,156.9 L463,156.1 L463.4,155.3 L463.8,154.5 L464.2,153.7 L464.7,152.9 L465.1,152 L465.5,151.2 L465.9,150.4 L466.3,149.6 L466.6,148.8 L467,148 L467.4,147.2 L467.8,146.4 L468.1,145.6 L468.5,144.8 L468.9,144 L469.2,143.2 L469.5,142.4 L469.9,141.6 L470.2,140.8 L470.5,140 L470.9,139.2 L471.2,138.4 L471.5,137.6 L471.8,136.8 L472.1,136 L472.4,135.2 L472.7,134.4 L473,133.6 L473.3,132.8 L473.5,132 L473.8,131.2 L474.1,130.4 L474.3,129.6 L474.6,128.8 L474.8,128 L475.1,127.2 L475.3,126.4 L475.5,125.7 L475.8,124.9 L476,124.1 L476.2,123.3 L476.4,122.5 L476.6,121.7 L476.8,120.9 L477,120.2 L477.2,119.4 L477.4,118.6 L477.6,117.8 L477.8,117 L477.9,116.3 L478.1,115.5 L478.3,114.7 L478.4,113.9 L478.6,113.2 L478.7,112.4 L478.9,111.6 L479,110.9 L479.1,110.1 L479.3,109.3 L479.4,108.6 L479.5,107.8 L479.6,107.1 L479.7,106.3 L479.8,105.5 L480,104.8 L480.1,104 L480.1,103.3 L480.2,102.5 L480.3,101.8 L480.4,101.1 L480.5,100.3 L480.6,99.6 L480.6,98.8 L480.7,98.1 L480.7,97.4 L480.8,96.7 L480.9,95.9 L480.9,95.2 L481,94.5 L481,93.8 L481,93 L481.1,92.3 L481.1,91.6 L481.1,90.9 L481.1,90.2 L481.2,89.5 L481.2,88.8 L481.2,88.1 L481.2,87.4 L481.2,86.7 L481.2,86 L481.2,85.3 L481.2,84.7 L481.2,84 L481.2,83.3 L481.2,82.6 L481.2,82 L481.2,81.3 L481.2,80.6 L481.2,80 L481.1,79.3 L481.1,78.7 L481.1,78 L481.1,77.4 L481,76.7 L481,76.1 L481,75.5 L481,74.8 L480.9,74.2 L480.9,73.6 L480.9,73 L480.8,72.3 L480.8,71.7 L480.8,71.1 L480.7,70.5 L480.7,69.9 L480.7,69.3 L480.6,68.8 L480.6,68.2 L480.6,67.6 L480.5,67 L480.5,66.4 L480.5,65.9 L480.5,65.3 L480.4,64.8 L480.4,64.2 L480.4,63.7 L480.4,63.1 L480.4,62.6 L480.4,62.1 L480.4,61.6 L480.3,61 L480.3,60.5 L480.4,60 L480.4,59.5 L480.4,59 L480.4,58.6 L480.4,58.1 L480.4,57.6 L480.5,57.1 L480.5,56.7 L480.6,56.2 L480.6,55.8 L480.7,55.3 L480.8,54.9 L480.8,54.5 L480.9,54 L481,53.6 L481.1,53.2 L481.2,52.8 L481.4,52.4 L481.5,52 L481.6,51.7 L481.8,51.3 L482,50.9 L482.2,50.6 L482.3,50.2 L482.6,49.9 L482.8,49.6 L483,49.2 L483.3,48.9 L483.5,48.6 L483.8,48.3 L484.1,48 L484.4,47.8 L484.7,47.5 L485.1,47.2 L485.4,47 L485.8,46.7 L486.2,46.5 L486.6,46.3 L487.1,46.1 L487.5,45.9 L488,45.7 L488.5,45.5 L489,45.3 L489.6,45.1 L490.1,45 L491,45 L488.2,43.7 L485.4,42.4 L482.5,41.2 L479.6,39.9 L476.6,38.7 L473.5,37.5 L470.4,36.3 L467.2,35.1 L464,33.9 L460.6,32.8 L457.3,31.6 L453.8,30.5 L453.1,30.5 L453,30.7 L452.9,30.9 L452.9,31.1 L452.9,31.4 L452.9,31.6 L452.9,31.9 L453,32.1 L453,32.4 L453.2,32.7 L453.3,33 L453.4,33.3 L453.6,33.6 L453.7,33.9 L453.9,34.3 L454.1,34.6 L454.4,35 L454.6,35.3 L454.8,35.7 L455.1,36.1 L455.4,36.5 L455.6,36.9 L455.9,37.3 L456.2,37.7 L456.5,38.1 L456.8,38.6 L457.1,39 L457.4,39.5 L457.7,39.9 L458.1,40.4 L458.4,40.8 L458.7,41.3 L459,41.8 L459.4,42.3 L459.7,42.8 L460,43.3 L460.4,43.8 L460.7,44.3 L461,44.8 L461.4,45.4 L461.7,45.9 L462,46.4 L462.4,47 L462.7,47.5 L463,48.1 L463.4,48.6 L463.7,49.2 L464,49.8 L464.3,50.4 L464.7,50.9 L465,51.5 L465.3,52.1 L465.6,52.7 L465.9,53.3 L466.2,53.9 L466.5,54.5 L466.8,55.1 L467.1,55.7 L467.4,56.4 L467.7,57 L468,57.6 L468.2,58.3 L468.5,58.9 L468.8,59.5 L469,60.2 L469.3,60.8 L469.6,61.5 L469.8,62.1 L470,62.8 L470.3,63.5 L470.5,64.1 L470.8,64.8 L471,65.5 L471.2,66.1 L471.4,66.8 L471.6,67.5 L471.8,68.2 L472,68.9 L472.2,69.6 L472.4,70.3 L472.6,71 L472.8,71.7 L473,72.4 L473.2,73.1 L473.3,73.8 L473.5,74.5 L473.6,75.2 L473.8,75.9 L473.9,76.6 L474.1,77.4 L474.2,78.1 L474.3,78.8 L474.5,79.5 L474.6,80.3 L474.7,81 L474.8,81.7 L474.9,82.5 L475,83.2 L475.1,84 L475.2,84.7 L475.2,85.4 L475.3,86.2 L475.4,86.9 L475.4,87.7 L475.5,88.4 L475.5,89.2 L475.6,90 L475.6,90.7 L475.7,91.5 L475.7,92.2 L475.7,93 L475.7,93.8 L475.7,94.5 L475.7,95.3 L475.7,96.1 L475.7,96.8 L475.7,97.6 L475.7,98.4 L475.7,99.2 L475.7,99.9 L475.6,100.7 L475.6,101.5 L475.5,102.3 L475.5,103.1 L475.4,103.8 L475.4,104.6 L475.3,105.4 L475.2,106.2 L475.1,107 L475.1,107.8 L475,108.6 L474.9,109.4 L474.8,110.1 L474.6,110.9 L474.5,111.7 L474.4,112.5 L474.3,113.3 L474.2,114.1 L474,114.9 L473.9,115.7 L473.7,116.5 L473.6,117.3 L473.4,118.1 L473.2,118.9 L473.1,119.7 L472.9,120.5 L472.7,121.3 L472.5,122.1 L472.3,122.9 L472.1,123.7 L471.9,124.5 L471.7,125.3 L471.5,126.1 L471.2,126.9 L471,127.7 L470.8,128.5 L470.5,129.3 L470.3,130.1 L470,130.9 L469.8,131.7 L469.5,132.5 L469.2,133.3 L469,134.1 L468.7,134.9 L468.4,135.7 L468.1,136.5 L467.8,137.3 L467.5,138.1 L467.2,138.9 L466.9,139.7 L466.5,140.6 L466.2,141.4 L465.9,142.2 L465.5,143 L465.2,143.8 L464.8,144.6 L464.5,145.4 L464.1,146.1 L463.8,146.9 L463.4,147.7 L463,148.5 L462.6,149.3 L462.2,150.1 L461.8,150.9 L461.4,151.7 L461,152.5 L460.6,153.3 L460.2,154.1 L459.8,154.9 L459.4,155.7 L458.9,156.5 L458.5,157.3 L458,158 L457.6,158.8 L457.1,159.6 L456.7,160.4 L456.2,161.2 L455.7,162 L455.2,162.7 L454.8,163.5 L454.3,164.3 L453.8,165.1 L453.3,165.8 L452.8,166.6 L452.3,167.4 L451.7,168.2 L451.2,168.9 L450.7,169.7 L450.1,170.5 L449.6,171.2 L449.1,172 L448.5,172.7 L448,173.5 L447.4,174.3 L446.8,175 L446.3,175.8 L445.7,176.5 L445.1,177.3 L444.5,178 L443.9,178.8 L443.3,179.5 L442.7,180.3 L442.1,181 L441.5,181.7 L440.9,182.5 L440.2,183.2 L439.6,183.9 L439,184.7 L438.3,185.4 L437.7,186.1 L437,186.8 L436.4,187.6 L435.7,188.3 L435.1,189 L434.4,189.7 L433.7,190.4 L433,191.1 L432.3,191.8 L431.6,192.5 L430.9,193.2 L430.2,193.9 L429.5,194.6 L428.8,195.3 L428.1,196 L427.4,196.7 L426.6,197.3 L425.9,198 L425.2,198.7 L424.4,199.4 L423.7,200 L422.9,200.7 L422.1,201.3 L421.4,202 L420.6,202.7 L419.8,203.3 L419,204 L418.3,204.6 L417.5,205.2 L416.7,205.9 L415.9,206.5 L415.1,207.1 L414.2,207.7 L413.4,208.4 L412.6,209 L411.8,209.6 L410.9,210.2 L410.1,210.8 L409.2,211.4 L408.4,212 L407.5,212.6 L406.7,213.2 L405.8,213.7 L404.9,214.3 L404.1,214.9 L403.2,215.5 L402.3,216 L401.4,216.6 L400.5,217.1 L399.6,217.7 L398.7,218.2 L397.8,218.7 L396.8,219.3 L395.9,219.8 L395,220.3 L394,220.8 L393.1,221.3 L392.1,221.8 L391.2,222.3 L390.2,222.8 L389.3,223.3 L388.3,223.8 L387.3,224.2 L386.3,224.7 L385.3,225.2 L384.3,225.6 L383.3,226.1 L382.3,226.5 L381.3,226.9 L380.3,227.4 L379.2,227.8 L378.2,228.2 L377.1,228.6 L376.1,229 L375,229.4 L373.9,229.8 L372.9,230.1 L371.8,230.5 L370.7,230.9 L369.6,231.2 L368.5,231.5 L367.3,231.9 L366.2,232.2 L365.1,232.5 L363.9,232.8 L362.8,233.1 L361.6,233.4 L360.5,233.7 L359.3,234 L358.1,234.3 L356.9,234.5 L355.7,234.8 L354.5,235 L353.3,235.3 L352,235.5 L350.8,235.7 L349.6,235.9 L348.3,236.1 L347.1,236.3 L345.8,236.4 L344.5,236.6 L343.2,236.8 L341.9,236.9 L340.6,237.1 L339.3,237.2 L338,237.3 L336.7,237.4 L335.4,237.5 L334.1,237.6 L332.8,237.7 L331.4,237.7 L330.1,237.8 L328.8,237.8 L327.4,237.9 L326.1,237.9 L324.8,237.9 L323.4,237.9 L322.1,237.9 L320.8,237.9 L319.4,237.9 L318.1,237.9 L316.8,237.8 L315.5,237.8 L314.2,237.7 L312.9,237.6 L311.6,237.5 L310.3,237.4 L309,237.3 L307.7,237.2 L306.5,237.1 L305.2,237 L304,236.8 L302.7,236.7 L301.5,236.5 L300.3,236.3 L299.1,236.1 L297.9,235.9 L296.7,235.7 L295.5,235.5 L294.3,235.3 L293.2,235.1 L292,234.8 L290.9,234.6 L289.8,234.3 L288.7,234.1 L287.6,233.8 L286.5,233.5 L285.4,233.2 L284.3,232.9 L283.3,232.6 L282.2,232.3 L281.2,232 L280.1,231.6 L279.1,231.3 L278.1,230.9 L277.1,230.6 L276.1,230.2 L275.1,229.9 L274.2,229.5 L273.2,229.1 L272.2,228.7 L271.3,228.3 L270.3,227.9 L269.4,227.5 L268.5,227 L267.6,226.6 L266.6,226.2 L265.7,225.7 L264.8,225.3 L264,224.8 L263.1,224.4 L262.2,223.9 L261.3,223.4 L260.5,222.9 L259.6,222.5 L258.8,222 L257.9,221.5 L257.1,221 L256.2,220.4 L255.4,219.9 L254.6,219.4 L253.8,218.9 L253,218.3 L252.2,217.8 L251.4,217.3 L250.6,216.7 L249.8,216.2 L249,215.6 L248.2,215 L247.5,214.5 L246.7,213.9 L245.9,213.3 L245.2,212.7 L244.4,212.2 L243.7,211.6 L242.9,211 L242.2,210.4 L241.5,209.8 L240.8,209.1 L240,208.5 L239.3,207.9 L238.6,207.3 L237.9,206.7 L237.2,206 L236.5,205.4 L235.8,204.8 L235.1,204.1 L234.4,203.5 L233.7,202.8 L233.1,202.2 L232.4,201.5 L231.7,200.9 L231.1,200.2 L230.4,199.5 L229.7,198.9 L229.1,198.2 L228.4,197.5 L227.8,196.8 L227.2,196.2 L226.5,195.5 L225.9,194.8 L225.3,194.1 L224.7,193.4 L224,192.7 L223.4,192 L222.8,191.3 L222.2,190.6 L221.6,189.9 L221,189.2 L220.4,188.5 L219.9,187.8 L219.3,187 L218.7,186.3 L218.1,185.6 L217.5,184.9 L217,184.1 L216.4,183.4 L215.9,182.7 L215.3,181.9 L214.8,181.2 L214.2,180.5 L213.7,179.7 L213.1,179 L212.6,178.2 L212.1,177.5 L211.6,176.7 L211,176 L210.5,175.2 L210,174.5 L209.5,173.7 L209,173 L208.5,172.2 L208,171.4 L207.5,170.7 L207,169.9 L206.5,169.1 L206.1,168.4 L205.6,167.6 L205.1,166.8 L204.7,166.1 L204.2,165.3 L203.7,164.5 L203.3,163.7 L202.8,163 L202.4,162.2 L201.9,161.4 L201.5,160.6 L201.1,159.8 L200.6,159 L200.2,158.3 L199.8,157.5 L199.4,156.7 L199,155.9 L198.6,155.1 L198.2,154.3 L197.8,153.5 L197.4,152.7 L197,151.9 L196.6,151.1 L196.2,150.3 L195.8,149.6 L195.5,148.8 L195.1,148 L194.7,147.2 L194.4,146.4 L194,145.6 L193.7,144.8 L193.3,144 L193,143.2 L192.6,142.4 L192.3,141.6 L192,140.8 L191.7,140 L191.3,139.2 L191,138.4 L190.7,137.6 L190.4,136.8 L190.1,136 L189.8,135.2 L189.5,134.4 L189.2,133.5 L188.9,132.7 L188.6,131.9 L188.4,131.1 L188.1,130.3 L187.8,129.5 L187.5,128.7 L187.3,127.9 L187,127.1 L186.8,126.3 L186.5,125.5 L186.3,124.7 L186,123.9 L185.8,123.1 L185.6,122.3 L185.4,121.5 L185.1,120.7 L184.9,119.9 L184.7,119.1 L184.5,118.3 L184.3,117.5 L184.1,116.7 L183.9,115.9 L183.7,115.1 L183.5,114.3 L183.3,113.5 L183.1,112.7 L183,111.9 L182.8,111.2 L182.6,110.4 L182.5,109.6 L182.3,108.8 L182.2,108 L182,107.2 L181.9,106.4 L181.7,105.6 L181.6,104.8 L181.5,104.1 L181.3,103.3 L181.2,102.5 L181.1,101.7 L181,100.9 L180.9,100.2 L180.8,99.4 L180.7,98.6 L180.6,97.8 L180.5,97.1 L180.4,96.3 L180.3,95.5 L180.2,94.7 L180.2,94 L180.1,93.2 L180,92.4 L180,91.7 L179.9,90.9 L179.8,90.2 L179.8,89.4 L179.8,88.7 L179.7,87.9 L179.7,87.1 L179.6,86.4 L179.6,85.6 L179.6,84.9 L179.6,84.2 L179.6,83.4 L179.6,82.7 L179.5,81.9 L179.5,81.2 L179.5,80.5 L179.5,79.7 L179.6,79 L179.6,78.3 L179.6,77.6 L179.6,76.8 L179.6,76.1 L179.7,75.4 L179.7,74.7 L179.7,74 L179.8,73.3 L179.8,72.6 L179.9,71.9 L179.9,71.2 L180,70.5 L180.1,69.8 L180.1,69.1 L180.2,68.4 L180.3,67.7 L180.4,67 L180.4,66.3 L180.5,65.6 L180.6,65 L180.7,64.3 L180.8,63.6 L180.9,63 L181,62.3 L181.1,61.7 L181.2,61 L181.3,60.4 L181.5,59.7 L181.6,59.1 L181.7,58.4 L181.8,57.8 L182,57.2 L182.1,56.5 L182.2,55.9 L182.4,55.3 L182.5,54.7 L182.7,54.1 L182.8,53.5 L183,52.9 L183.1,52.3 L183.3,51.7 L183.4,51.1 L183.6,50.5 L183.8,49.9 L183.9,49.4 L184.1,48.8 L184.3,48.2 L184.4,47.7 L184.6,47.1 L184.8,46.6 L184.9,46 L185.1,45.5 L185.3,45 L185.5,44.5 L185.6,43.9 L185.8,43.4 L186,42.9 L186.2,42.4 L186.3,41.9 L186.5,41.5 L186.7,41 L186.8,40.5 L187,40 L187.2,39.6 L187.3,39.1 L187.5,38.7 L187.6,38.3 L187.8,37.8 L187.9,37.4 L188,37 L188.2,36.6 L188.3,36.2 L188.4,35.8 L188.5,35.4 L188.6,35.1 L188.7,34.7 L188.7,34.4 L188.8,34 L188.8,33.7 L188.9,33.4 L188.9,33.1 L188.9,32.8 L188.9,32.5 L188.9,32.2 L188.8,31.9 L188.7,31.7 L188.6,31.4 L188.5,31.2 L188.4,31 L188.2,30.7 L188,30.5 L187.8,30.4 L187.6,30.2 L187.3,30 L187,29.9 L186.7,29.7 L186.3,29.6 L185.9,29.5 L185.5,29.4 L185,29.3 L184.5,29.2 L184,29.2 L183.4,29.1 L182.8,29.1 L182.1,29.1 L181.4,29 L180.7,29.1 L179.9,29.1 L179.1,29.1 L178.2,29.1 L177.3,29.2 L176.4,29.3 L175.4,29.4 L174.4,29.5 L173.3,29.6 L172.2,29.7 L171.1,29.8 L169.9,30 L168.7,30.1 L167.4,30.3Z" fill="rgb(184,207,177)"/>
<g clip-path="url(#bc)">
<g fill="rgb(70,100,70)" fill-opacity="0.5"><circle cx="133.5" cy="151.1" r="1.55"/><circle cx="151.9" cy="150.3" r="1.55"/><circle cx="155.9" cy="151.1" r="1.55"/><circle cx="167.4" cy="154.5" r="1.55"/><circle cx="170.7" cy="165.1" r="1.55"/><circle cx="129.6" cy="157.9" r="1.55"/><circle cx="197.7" cy="153" r="1.55"/><circle cx="186.9" cy="179.5" r="1.55"/><circle cx="194.7" cy="178.4" r="1.55"/><circle cx="197" cy="183.1" r="1.55"/><circle cx="204.4" cy="182" r="1.55"/><circle cx="172.8" cy="188" r="1.55"/><circle cx="153.8" cy="197.2" r="1.55"/><circle cx="126" cy="212.8" r="1.55"/><circle cx="169" cy="215.1" r="1.55"/><circle cx="184.2" cy="212" r="1.55"/><circle cx="187.8" cy="210.4" r="1.55"/><circle cx="188.9" cy="218.8" r="1.55"/><circle cx="196.5" cy="220.5" r="1.55"/><circle cx="203.5" cy="189.7" r="1.55"/><circle cx="202.7" cy="196.9" r="1.55"/><circle cx="185.1" cy="27.8" r="1.55"/><circle cx="186.7" cy="28.5" r="1.55"/><circle cx="199.1" cy="27.4" r="1.55"/><circle cx="206" cy="26.5" r="1.55"/><circle cx="206.7" cy="31.9" r="1.55"/><circle cx="208" cy="30.5" r="1.55"/><circle cx="211.4" cy="31.9" r="1.55"/><circle cx="215.5" cy="31.2" r="1.55"/><circle cx="171.5" cy="32.6" r="1.55"/><circle cx="175.6" cy="31.9" r="1.55"/><circle cx="167.5" cy="35.3" r="1.55"/><circle cx="168.2" cy="36.9" r="1.55"/><circle cx="172.9" cy="35.9" r="1.55"/><circle cx="178.3" cy="37.3" r="1.55"/><circle cx="182.4" cy="33.9" r="1.55"/><circle cx="185.1" cy="36.6" r="1.55"/><circle cx="163.4" cy="40.7" r="1.55"/><circle cx="165.5" cy="42" r="1.55"/><circle cx="157.4" cy="41.4" r="1.55"/><circle cx="156" cy="38" r="1.55"/><circle cx="149.9" cy="39.3" r="1.55"/><circle cx="177.6" cy="42" r="1.55"/><circle cx="179.6" cy="40" r="1.55"/><circle cx="175.6" cy="44.1" r="1.55"/><circle cx="185.1" cy="44.1" r="1.55"/><circle cx="184" cy="48.9" r="1.55"/><circle cx="187.8" cy="47.9" r="1.55"/><circle cx="178.1" cy="49.8" r="1.55"/><circle cx="171.5" cy="51.3" r="1.55"/><circle cx="153" cy="45.9" r="1.55"/><circle cx="151.9" cy="51.5" r="1.55"/><circle cx="140.9" cy="49.9" r="1.55"/><circle cx="137.1" cy="48.9" r="1.55"/><circle cx="139.1" cy="44.1" r="1.55"/><circle cx="194.5" cy="44.1" r="1.55"/><circle cx="201.3" cy="47" r="1.55"/><circle cx="205.1" cy="48.6" r="1.55"/><circle cx="201.9" cy="38.6" r="1.55"/><circle cx="200.6" cy="53.3" r="1.55"/><circle cx="137.1" cy="45.7" r="1.55"/><circle cx="195.9" cy="54.5" r="1.55"/><circle cx="183" cy="55.8" r="1.55"/><circle cx="174.2" cy="57.8" r="1.55"/><circle cx="162.4" cy="61.9" r="1.55"/><circle cx="185.7" cy="62.3" r="1.55"/><circle cx="189.4" cy="60.1" r="1.55"/><circle cx="190.5" cy="65" r="1.55"/><circle cx="172.2" cy="64.6" r="1.55"/><circle cx="133.5" cy="66.8" r="1.55"/><circle cx="142.7" cy="66.8" r="1.55"/><circle cx="163.4" cy="67.3" r="1.55"/><circle cx="156.7" cy="68.6" r="1.55"/><circle cx="180.3" cy="74.7" r="1.55"/><circle cx="161.4" cy="78.1" r="1.55"/><circle cx="135.6" cy="79.7" r="1.55"/><circle cx="150.6" cy="84.2" r="1.55"/><circle cx="154" cy="83.1" r="1.55"/><circle cx="159.1" cy="83" r="1.55"/><circle cx="184.4" cy="81.1" r="1.55"/><circle cx="184.8" cy="84.5" r="1.55"/><circle cx="202.6" cy="74.7" r="1.55"/><circle cx="175.7" cy="124.2" r="1.55"/><circle cx="190.5" cy="121.8" r="1.55"/><circle cx="190.3" cy="129.9" r="1.55"/><circle cx="186.5" cy="135.3" r="1.55"/><circle cx="182.4" cy="134.6" r="1.55"/><circle cx="168.6" cy="134.3" r="1.55"/><circle cx="205.4" cy="124.5" r="1.55"/><circle cx="203.8" cy="132.6" r="1.55"/><circle cx="181.4" cy="140.4" r="1.55"/><circle cx="199.3" cy="140.9" r="1.55"/><circle cx="197.3" cy="144.5" r="1.55"/><circle cx="189.9" cy="142.7" r="1.55"/><circle cx="172.7" cy="147.4" r="1.55"/><circle cx="156.1" cy="145.4" r="1.55"/><circle cx="228.4" cy="123.8" r="1.55"/><circle cx="215.5" cy="221.4" r="1.55"/><circle cx="227.5" cy="227.7" r="1.55"/><circle cx="229.5" cy="235.2" r="1.55"/><circle cx="231.1" cy="235.1" r="1.55"/><circle cx="223.6" cy="237" r="1.55"/><circle cx="167.6" cy="248.4" r="1.55"/><circle cx="217.2" cy="247.4" r="1.55"/><circle cx="223.6" cy="249.5" r="1.55"/><circle cx="225.7" cy="251.8" r="1.55"/><circle cx="229.7" cy="255.1" r="1.55"/><circle cx="231.8" cy="256.5" r="1.55"/><circle cx="187.8" cy="256.2" r="1.55"/><circle cx="193.9" cy="255.8" r="1.55"/><circle cx="195.3" cy="257.6" r="1.55"/><circle cx="197.3" cy="258.5" r="1.55"/><circle cx="154.7" cy="86.1" r="1.55"/><circle cx="151.4" cy="88.1" r="1.55"/><circle cx="159.2" cy="91.9" r="1.55"/><circle cx="163.2" cy="99.3" r="1.55"/><circle cx="157.4" cy="112.4" r="1.55"/><circle cx="188.5" cy="86.1" r="1.55"/><circle cx="193.2" cy="87.4" r="1.55"/><circle cx="208.4" cy="88.8" r="1.55"/><circle cx="231.2" cy="101.8" r="1.55"/><circle cx="217.6" cy="110.8" r="1.55"/><circle cx="193.9" cy="107" r="1.55"/><circle cx="194.6" cy="109.5" r="1.55"/><circle cx="191.2" cy="112.2" r="1.55"/><circle cx="184.9" cy="111.4" r="1.55"/><circle cx="180.8" cy="113.8" r="1.55"/><circle cx="183.1" cy="115.8" r="1.55"/><circle cx="220.3" cy="156.5" r="1.55"/><circle cx="224.3" cy="159.2" r="1.55"/><circle cx="212.8" cy="168.2" r="1.55"/><circle cx="216.2" cy="170" r="1.55"/><circle cx="218.2" cy="181.3" r="1.55"/><circle cx="263.5" cy="152.8" r="1.55"/><circle cx="265.5" cy="153.4" r="1.55"/><circle cx="275.4" cy="154.7" r="1.55"/><circle cx="282.8" cy="148.8" r="1.55"/><circle cx="273.6" cy="168.6" r="1.55"/><circle cx="274.1" cy="171.8" r="1.55"/><circle cx="257.8" cy="183.1" r="1.55"/><circle cx="240.5" cy="186.1" r="1.55"/><circle cx="241.2" cy="188.8" r="1.55"/><circle cx="217.6" cy="197.6" r="1.55"/><circle cx="213.5" cy="205" r="1.55"/><circle cx="258.8" cy="198.2" r="1.55"/><circle cx="261.5" cy="198.9" r="1.55"/><circle cx="257.9" cy="209.6" r="1.55"/><circle cx="269.8" cy="209.5" r="1.55"/><circle cx="277.6" cy="216.2" r="1.55"/><circle cx="212.8" cy="188.1" r="1.55"/><circle cx="240.6" cy="241.5" r="1.55"/><circle cx="251.4" cy="246.6" r="1.55"/><circle cx="261.9" cy="242.8" r="1.55"/><circle cx="247.6" cy="44.7" r="1.55"/><circle cx="221.7" cy="53.2" r="1.55"/><circle cx="225.1" cy="52.4" r="1.55"/><circle cx="221.7" cy="60" r="1.55"/><circle cx="232.9" cy="65.4" r="1.55"/><circle cx="244.7" cy="61.4" r="1.55"/><circle cx="253.5" cy="50.8" r="1.55"/><circle cx="262.3" cy="48.1" r="1.55"/><circle cx="281.6" cy="50.5" r="1.55"/><circle cx="291.3" cy="49.5" r="1.55"/><circle cx="293.4" cy="42.9" r="1.55"/><circle cx="298.4" cy="42.1" r="1.55"/><circle cx="298.1" cy="54.6" r="1.55"/><circle cx="237.6" cy="75.5" r="1.55"/><circle cx="268.4" cy="69.1" r="1.55"/><circle cx="233.2" cy="16.5" r="1.55"/><circle cx="246.5" cy="17.4" r="1.55"/><circle cx="273.1" cy="16.5" r="1.55"/><circle cx="275.4" cy="15.5" r="1.55"/><circle cx="278.5" cy="13.8" r="1.55"/><circle cx="288.4" cy="15.8" r="1.55"/><circle cx="286.6" cy="18.8" r="1.55"/><circle cx="226.5" cy="21.9" r="1.55"/><circle cx="223.8" cy="27.3" r="1.55"/><circle cx="233.9" cy="30" r="1.55"/><circle cx="245.4" cy="34.7" r="1.55"/><circle cx="257.3" cy="32" r="1.55"/><circle cx="260.2" cy="28.6" r="1.55"/><circle cx="258.2" cy="31.4" r="1.55"/><circle cx="270.8" cy="30.9" r="1.55"/><circle cx="274.8" cy="22.3" r="1.55"/><circle cx="274.8" cy="36.8" r="1.55"/><circle cx="274.4" cy="38.5" r="1.55"/><circle cx="297.4" cy="33.6" r="1.55"/><circle cx="242" cy="111.3" r="1.55"/><circle cx="261.6" cy="111.6" r="1.55"/><circle cx="270.8" cy="112.9" r="1.55"/><circle cx="299.6" cy="124.6" r="1.55"/><circle cx="283.4" cy="135.9" r="1.55"/><circle cx="288.8" cy="138.1" r="1.55"/><circle cx="290.1" cy="137" r="1.55"/><circle cx="304.2" cy="139.1" r="1.55"/><circle cx="274.6" cy="140.4" r="1.55"/><circle cx="280.3" cy="140.4" r="1.55"/><circle cx="233.4" cy="80.7" r="1.55"/><circle cx="250.5" cy="81.5" r="1.55"/><circle cx="262.7" cy="82.8" r="1.55"/><circle cx="259.7" cy="87.2" r="1.55"/><circle cx="271.9" cy="87.8" r="1.55"/><circle cx="276.2" cy="87.8" r="1.55"/><circle cx="265.4" cy="91.9" r="1.55"/><circle cx="237.4" cy="93.9" r="1.55"/><circle cx="257.7" cy="99.1" r="1.55"/><circle cx="262.7" cy="100.4" r="1.55"/><circle cx="285.4" cy="99.1" r="1.55"/><circle cx="300.9" cy="96.4" r="1.55"/><circle cx="294.2" cy="159.6" r="1.55"/><circle cx="309.1" cy="165.5" r="1.55"/><circle cx="308.1" cy="175.8" r="1.55"/><circle cx="307.7" cy="180.5" r="1.55"/><circle cx="318.5" cy="153.8" r="1.55"/><circle cx="321.6" cy="167.3" r="1.55"/><circle cx="326.2" cy="174.5" r="1.55"/><circle cx="334" cy="182.8" r="1.55"/><circle cx="336.5" cy="164.2" r="1.55"/><circle cx="342.4" cy="156.1" r="1.55"/><circle cx="344.3" cy="147.9" r="1.55"/><circle cx="338.6" cy="145.5" r="1.55"/><circle cx="323.6" cy="145.5" r="1.55"/><circle cx="355.7" cy="147.5" r="1.55"/><circle cx="353.6" cy="168" r="1.55"/><circle cx="298.8" cy="191.1" r="1.55"/><circle cx="298.2" cy="205.7" r="1.55"/><circle cx="298.4" cy="205.7" r="1.55"/><circle cx="299.5" cy="209.1" r="1.55"/><circle cx="343.8" cy="187" r="1.55"/><circle cx="351.5" cy="187.4" r="1.55"/><circle cx="341.4" cy="196.2" r="1.55"/><circle cx="319.5" cy="199.2" r="1.55"/><circle cx="331.3" cy="200.3" r="1.55"/><circle cx="321.6" cy="206.2" r="1.55"/><circle cx="322.7" cy="214.3" r="1.55"/><circle cx="331.2" cy="212.8" r="1.55"/><circle cx="340.9" cy="206.5" r="1.55"/><circle cx="348.7" cy="216" r="1.55"/><circle cx="356.1" cy="215.3" r="1.55"/><circle cx="371.1" cy="211.8" r="1.55"/><circle cx="325.7" cy="109.7" r="1.55"/><circle cx="336.3" cy="109.3" r="1.55"/><circle cx="332.2" cy="118.8" r="1.55"/><circle cx="333.8" cy="119.7" r="1.55"/><circle cx="342.6" cy="116.5" r="1.55"/><circle cx="337.2" cy="124.2" r="1.55"/><circle cx="333.1" cy="126.2" r="1.55"/><circle cx="344.6" cy="123.2" r="1.55"/><circle cx="354.7" cy="118.1" r="1.55"/><circle cx="355.1" cy="119.7" r="1.55"/><circle cx="320.3" cy="141.4" r="1.55"/><circle cx="337.2" cy="140" r="1.55"/><circle cx="366.5" cy="140.8" r="1.55"/><circle cx="377.4" cy="143" r="1.55"/><circle cx="383.2" cy="137.6" r="1.55"/><circle cx="383.8" cy="138" r="1.55"/><circle cx="323.9" cy="49.7" r="1.55"/><circle cx="350" cy="52.2" r="1.55"/><circle cx="359.1" cy="47" r="1.55"/><circle cx="371.2" cy="48.4" r="1.55"/><circle cx="374.5" cy="42.1" r="1.55"/><circle cx="384.2" cy="41.6" r="1.55"/><circle cx="366.2" cy="56.9" r="1.55"/><circle cx="363.1" cy="60.3" r="1.55"/><circle cx="373.3" cy="55.9" r="1.55"/><circle cx="374.4" cy="60.3" r="1.55"/><circle cx="323.3" cy="72.4" r="1.55"/><circle cx="330.2" cy="74.7" r="1.55"/><circle cx="386.5" cy="72.7" r="1.55"/><circle cx="305.7" cy="18.2" r="1.55"/><circle cx="307.1" cy="21.2" r="1.55"/><circle cx="317.9" cy="13.4" r="1.55"/><circle cx="325.7" cy="11.1" r="1.55"/><circle cx="327.1" cy="17.2" r="1.55"/><circle cx="333" cy="19.2" r="1.55"/><circle cx="336.5" cy="23.9" r="1.55"/><circle cx="342.2" cy="15.5" r="1.55"/><circle cx="352.3" cy="18.2" r="1.55"/><circle cx="361.8" cy="15.5" r="1.55"/><circle cx="370.3" cy="19.2" r="1.55"/><circle cx="377.1" cy="15.5" r="1.55"/><circle cx="387.5" cy="21.9" r="1.55"/><circle cx="326.6" cy="30.4" r="1.55"/><circle cx="331.6" cy="31.8" r="1.55"/><circle cx="370.3" cy="32.4" r="1.55"/><circle cx="378" cy="37.7" r="1.55"/><circle cx="384.8" cy="36.4" r="1.55"/><circle cx="323.4" cy="84.7" r="1.55"/><circle cx="338.7" cy="81.5" r="1.55"/><circle cx="341.9" cy="81.5" r="1.55"/><circle cx="345.1" cy="91.2" r="1.55"/><circle cx="345.3" cy="91.5" r="1.55"/><circle cx="350.1" cy="96.9" r="1.55"/><circle cx="355.5" cy="95.3" r="1.55"/><circle cx="352.8" cy="103.1" r="1.55"/><circle cx="363" cy="101.4" r="1.55"/><circle cx="372.5" cy="91.2" r="1.55"/><circle cx="375.2" cy="103.4" r="1.55"/><circle cx="372.1" cy="107.2" r="1.55"/><circle cx="386.3" cy="99.1" r="1.55"/><circle cx="387.4" cy="109.5" r="1.55"/><circle cx="391.4" cy="103.4" r="1.55"/><circle cx="394" cy="108.9" r="1.55"/><circle cx="396.6" cy="108.1" r="1.55"/><circle cx="399.8" cy="105.4" r="1.55"/><circle cx="334.6" cy="103.1" r="1.55"/><circle cx="326.8" cy="100.4" r="1.55"/><circle cx="323.4" cy="102.7" r="1.55"/><circle cx="391.4" cy="83.4" r="1.55"/><circle cx="397.8" cy="77.7" r="1.55"/><circle cx="398.7" cy="83.8" r="1.55"/><circle cx="400.8" cy="76.9" r="1.55"/><circle cx="400.7" cy="77.3" r="1.55"/><circle cx="396.8" cy="75.4" r="1.55"/><circle cx="326.3" cy="221.3" r="1.55"/><circle cx="330.3" cy="222.7" r="1.55"/><circle cx="346.4" cy="222.8" r="1.55"/><circle cx="358.6" cy="222.8" r="1.55"/><circle cx="347.7" cy="228" r="1.55"/><circle cx="381.5" cy="234.1" r="1.55"/><circle cx="388.8" cy="239.6" r="1.55"/><circle cx="397.7" cy="230.7" r="1.55"/><circle cx="403.1" cy="218.5" r="1.55"/><circle cx="328.1" cy="263" r="1.55"/><circle cx="352.4" cy="263" r="1.55"/><circle cx="357.1" cy="262.3" r="1.55"/><circle cx="361.2" cy="264.3" r="1.55"/><circle cx="361.5" cy="266.4" r="1.55"/><circle cx="362.5" cy="244.7" r="1.55"/><circle cx="388.9" cy="119.9" r="1.55"/><circle cx="406.5" cy="115.8" r="1.55"/><circle cx="412.5" cy="117.2" r="1.55"/><circle cx="415.2" cy="116.1" r="1.55"/><circle cx="414.2" cy="123.1" r="1.55"/><circle cx="411.2" cy="137.1" r="1.55"/><circle cx="419.3" cy="140.4" r="1.55"/><circle cx="424" cy="138.4" r="1.55"/><circle cx="427.4" cy="135.7" r="1.55"/><circle cx="397" cy="139.4" r="1.55"/><circle cx="407.8" cy="142.9" r="1.55"/><circle cx="437.5" cy="108.7" r="1.55"/><circle cx="442.6" cy="109.4" r="1.55"/><circle cx="440.2" cy="122.9" r="1.55"/><circle cx="444.5" cy="122.5" r="1.55"/><circle cx="383.5" cy="153.4" r="1.55"/><circle cx="392.9" cy="159.6" r="1.55"/><circle cx="397" cy="151.1" r="1.55"/><circle cx="407.1" cy="147.4" r="1.55"/><circle cx="419.3" cy="148.8" r="1.55"/><circle cx="422.3" cy="150.4" r="1.55"/><circle cx="434.6" cy="146.9" r="1.55"/><circle cx="434.8" cy="147.7" r="1.55"/><circle cx="419.3" cy="159.2" r="1.55"/><circle cx="425.2" cy="161.1" r="1.55"/><circle cx="418.6" cy="165" r="1.55"/><circle cx="408.5" cy="170" r="1.55"/><circle cx="409.8" cy="169.3" r="1.55"/><circle cx="398.4" cy="172.7" r="1.55"/><circle cx="384.2" cy="179.5" r="1.55"/><circle cx="407.3" cy="177.9" r="1.55"/><circle cx="374.7" cy="186.1" r="1.55"/><circle cx="382.1" cy="188.8" r="1.55"/><circle cx="401.6" cy="189.1" r="1.55"/><circle cx="403.8" cy="188.4" r="1.55"/><circle cx="411.5" cy="190" r="1.55"/><circle cx="416.6" cy="188.9" r="1.55"/><circle cx="395.5" cy="201" r="1.55"/><circle cx="399.4" cy="198.8" r="1.55"/><circle cx="396.3" cy="208.4" r="1.55"/><circle cx="442.4" cy="208.3" r="1.55"/><circle cx="454.9" cy="206.4" r="1.55"/><circle cx="452.2" cy="216.5" r="1.55"/><circle cx="435.5" cy="211.9" r="1.55"/><circle cx="376.1" cy="197.6" r="1.55"/><circle cx="433.4" cy="216.2" r="1.55"/><circle cx="420.2" cy="234.3" r="1.55"/><circle cx="433.4" cy="234" r="1.55"/><circle cx="442.7" cy="237.5" r="1.55"/><circle cx="412.9" cy="242.4" r="1.55"/><circle cx="413.6" cy="245.6" r="1.55"/><circle cx="460.2" cy="237.8" r="1.55"/><circle cx="393.7" cy="40.7" r="1.55"/><circle cx="405.6" cy="41.6" r="1.55"/><circle cx="418.1" cy="43.1" r="1.55"/><circle cx="418.7" cy="45.4" r="1.55"/><circle cx="411.3" cy="45.7" r="1.55"/><circle cx="406.6" cy="46.5" r="1.55"/><circle cx="424.3" cy="43.2" r="1.55"/><circle cx="429.7" cy="42.4" r="1.55"/><circle cx="442.4" cy="44.7" r="1.55"/><circle cx="443.1" cy="48.1" r="1.55"/><circle cx="448.5" cy="50.1" r="1.55"/><circle cx="455.2" cy="48.1" r="1.55"/><circle cx="457.9" cy="48.8" r="1.55"/><circle cx="429.5" cy="49.7" r="1.55"/><circle cx="432.9" cy="51.9" r="1.55"/><circle cx="406.6" cy="52.2" r="1.55"/><circle cx="409.9" cy="54.6" r="1.55"/><circle cx="419.8" cy="53.8" r="1.55"/><circle cx="397.8" cy="56.5" r="1.55"/><circle cx="403.2" cy="61.4" r="1.55"/><circle cx="390.6" cy="64.6" r="1.55"/><circle cx="406.3" cy="66.4" r="1.55"/><circle cx="415.4" cy="66.4" r="1.55"/><circle cx="421.4" cy="63" r="1.55"/><circle cx="442.4" cy="54.2" r="1.55"/><circle cx="447.1" cy="52.8" r="1.55"/><circle cx="449.8" cy="54.6" r="1.55"/><circle cx="456.6" cy="54.6" r="1.55"/><circle cx="457.9" cy="55.5" r="1.55"/><circle cx="454.5" cy="58.2" r="1.55"/><circle cx="446.4" cy="60.3" r="1.55"/><circle cx="452.5" cy="62.3" r="1.55"/><circle cx="459.3" cy="61.6" r="1.55"/><circle cx="465.4" cy="60.3" r="1.55"/><circle cx="464" cy="65" r="1.55"/><circle cx="452.5" cy="65.7" r="1.55"/><circle cx="448.5" cy="66.4" r="1.55"/><circle cx="456.6" cy="66.4" r="1.55"/><circle cx="417.4" cy="73.1" r="1.55"/><circle cx="405.9" cy="76.8" r="1.55"/><circle cx="409.3" cy="78.5" r="1.55"/><circle cx="444" cy="78.3" r="1.55"/><circle cx="453.2" cy="73.1" r="1.55"/><circle cx="458.6" cy="72.4" r="1.55"/><circle cx="389.7" cy="21.9" r="1.55"/><circle cx="397.4" cy="25.3" r="1.55"/><circle cx="401.4" cy="23.2" r="1.55"/><circle cx="405.5" cy="26.6" r="1.55"/><circle cx="406.6" cy="31.4" r="1.55"/><circle cx="404.5" cy="32.7" r="1.55"/><circle cx="416" cy="31.4" r="1.55"/><circle cx="418.5" cy="27.7" r="1.55"/><circle cx="422.8" cy="30.9" r="1.55"/><circle cx="430.9" cy="27.7" r="1.55"/><circle cx="437.6" cy="28.2" r="1.55"/><circle cx="434.9" cy="34.1" r="1.55"/><circle cx="434.3" cy="37.4" r="1.55"/><circle cx="441.7" cy="32.7" r="1.55"/><circle cx="441" cy="35.8" r="1.55"/><circle cx="445.8" cy="31.4" r="1.55"/><circle cx="446.4" cy="33.6" r="1.55"/><circle cx="450.5" cy="37.4" r="1.55"/><circle cx="453.9" cy="36.8" r="1.55"/><circle cx="412.6" cy="37.4" r="1.55"/><circle cx="459.3" cy="35.4" r="1.55"/><circle cx="462.6" cy="36.8" r="1.55"/><circle cx="464.7" cy="38.8" r="1.55"/><circle cx="457.9" cy="40.1" r="1.55"/><circle cx="462" cy="41.5" r="1.55"/><circle cx="444.6" cy="191.5" r="1.55"/><circle cx="447.4" cy="191.4" r="1.55"/><circle cx="457.8" cy="194.4" r="1.55"/><circle cx="480.3" cy="189.9" r="1.55"/><circle cx="435.1" cy="202.9" r="1.55"/><circle cx="435.8" cy="209.8" r="1.55"/><circle cx="477.8" cy="205.7" r="1.55"/><circle cx="478.6" cy="210.4" r="1.55"/><circle cx="474.5" cy="178.7" r="1.55"/><circle cx="456.6" cy="182.1" r="1.55"/><circle cx="470" cy="228.5" r="1.55"/><circle cx="474.3" cy="236.4" r="1.55"/><circle cx="470.3" cy="243.6" r="1.55"/><circle cx="426.4" cy="251.5" r="1.55"/><circle cx="443.9" cy="249.9" r="1.55"/><circle cx="412.4" cy="254.2" r="1.55"/><circle cx="441.8" cy="113.4" r="1.55"/><circle cx="450.3" cy="135" r="1.55"/><circle cx="459.7" cy="128.3" r="1.55"/><circle cx="505.7" cy="118.1" r="1.55"/><circle cx="503.6" cy="121.5" r="1.55"/><circle cx="510.4" cy="127.1" r="1.55"/><circle cx="502.2" cy="136.4" r="1.55"/><circle cx="496.9" cy="135.7" r="1.55"/><circle cx="509.7" cy="137.7" r="1.55"/><circle cx="434.7" cy="144.5" r="1.55"/><circle cx="437.5" cy="144.2" r="1.55"/><circle cx="446.2" cy="145.2" r="1.55"/><circle cx="492.5" cy="148.7" r="1.55"/><circle cx="478" cy="156.5" r="1.55"/><circle cx="480" cy="158.5" r="1.55"/><circle cx="471.9" cy="165.3" r="1.55"/><circle cx="470.5" cy="170" r="1.55"/><circle cx="469.5" cy="175.7" r="1.55"/><circle cx="484.1" cy="178.1" r="1.55"/><circle cx="492.3" cy="177.4" r="1.55"/><circle cx="493.5" cy="179.8" r="1.55"/><circle cx="488.1" cy="171.4" r="1.55"/><circle cx="512.2" cy="182.9" r="1.55"/><circle cx="450.3" cy="82.8" r="1.55"/><circle cx="454.3" cy="81.5" r="1.55"/><circle cx="455" cy="84.2" r="1.55"/><circle cx="450.9" cy="86.9" r="1.55"/><circle cx="436.1" cy="85.5" r="1.55"/><circle cx="444.2" cy="91.6" r="1.55"/><circle cx="435.4" cy="90.9" r="1.55"/><circle cx="442.2" cy="94.3" r="1.55"/><circle cx="445.6" cy="96.9" r="1.55"/><circle cx="451.5" cy="95" r="1.55"/><circle cx="452.4" cy="97.9" r="1.55"/><circle cx="455.7" cy="97" r="1.55"/><circle cx="459.1" cy="99.7" r="1.55"/><circle cx="452.4" cy="102.9" r="1.55"/><circle cx="450.9" cy="105.8" r="1.55"/><circle cx="431.4" cy="95.7" r="1.55"/><circle cx="432.7" cy="99.1" r="1.55"/><circle cx="487.2" cy="76.6" r="1.55"/><circle cx="491.2" cy="77" r="1.55"/><circle cx="512.7" cy="78.7" r="1.55"/><circle cx="512" cy="91.6" r="1.55"/><circle cx="484" cy="96.9" r="1.55"/><circle cx="503.6" cy="97.7" r="1.55"/><circle cx="505.2" cy="103.7" r="1.55"/><circle cx="509.7" cy="106.5" r="1.55"/><circle cx="486.1" cy="105.8" r="1.55"/><circle cx="64.9" cy="134.6" r="1.55"/><circle cx="118.6" cy="136.6" r="1.55"/><circle cx="91.6" cy="145.1" r="1.55"/><circle cx="55.5" cy="158.2" r="1.55"/><circle cx="61.9" cy="160.7" r="1.55"/><circle cx="118" cy="158.6" r="1.55"/><circle cx="75.8" cy="167.7" r="1.55"/><circle cx="65" cy="177.4" r="1.55"/><circle cx="82.6" cy="181.1" r="1.55"/><circle cx="88.9" cy="183.8" r="1.55"/><circle cx="56.9" cy="108.2" r="1.55"/><circle cx="88" cy="111.2" r="1.55"/><circle cx="95.3" cy="108.1" r="1.55"/><circle cx="98.8" cy="103.8" r="1.55"/><circle cx="109.2" cy="104.2" r="1.55"/><circle cx="110.5" cy="112.3" r="1.55"/><circle cx="110.5" cy="115.3" r="1.55"/><circle cx="122" cy="117.3" r="1.55"/><circle cx="116.4" cy="120.9" r="1.55"/><circle cx="80.4" cy="115.9" r="1.55"/><circle cx="75" cy="117.3" r="1.55"/><circle cx="74.1" cy="120.7" r="1.55"/><circle cx="56.5" cy="124.5" r="1.55"/><circle cx="51.8" cy="127" r="1.55"/><circle cx="88.9" cy="123.6" r="1.55"/><circle cx="127.4" cy="110.9" r="1.55"/><circle cx="128.8" cy="130.8" r="1.55"/><circle cx="511.9" cy="192.4" r="1.55"/><circle cx="515.3" cy="190.1" r="1.55"/><circle cx="501.1" cy="196.9" r="1.55"/><circle cx="502.5" cy="201.6" r="1.55"/><circle cx="489.2" cy="202.7" r="1.55"/><circle cx="518.4" cy="207.3" r="1.55"/><circle cx="544.1" cy="189.7" r="1.55"/><circle cx="514.6" cy="66.4" r="1.55"/><circle cx="507.8" cy="64.3" r="1.55"/><circle cx="509.2" cy="58.2" r="1.55"/><circle cx="503.1" cy="60.3" r="1.55"/><circle cx="487.6" cy="58.9" r="1.55"/><circle cx="492.3" cy="62.3" r="1.55"/><circle cx="491.4" cy="154.2" r="1.55"/><circle cx="519.1" cy="149.7" r="1.55"/><circle cx="527.1" cy="147.8" r="1.55"/><circle cx="517.1" cy="170.4" r="1.55"/><circle cx="529" cy="169.1" r="1.55"/><circle cx="546.1" cy="170.4" r="1.55"/><circle cx="555.6" cy="152.4" r="1.55"/><circle cx="561" cy="151.5" r="1.55"/><circle cx="559.6" cy="182.2" r="1.55"/><circle cx="502.7" cy="118.8" r="1.55"/><circle cx="502" cy="122.8" r="1.55"/><circle cx="502" cy="124.9" r="1.55"/><circle cx="516.9" cy="119.7" r="1.55"/><circle cx="539.2" cy="114.1" r="1.55"/><circle cx="541.9" cy="114.1" r="1.55"/><circle cx="544.9" cy="114.1" r="1.55"/><circle cx="554.1" cy="115.1" r="1.55"/><circle cx="557.4" cy="111.1" r="1.55"/><circle cx="547" cy="119.2" r="1.55"/><circle cx="558.1" cy="119.7" r="1.55"/><circle cx="541.9" cy="123.8" r="1.55"/><circle cx="542.6" cy="130.5" r="1.55"/><circle cx="566.2" cy="126.2" r="1.55"/><circle cx="570.3" cy="138.1" r="1.55"/><circle cx="520.9" cy="143.1" r="1.55"/><circle cx="523.6" cy="140.4" r="1.55"/><circle cx="539.2" cy="144.9" r="1.55"/><circle cx="566.2" cy="145.1" r="1.55"/><circle cx="516.9" cy="88.5" r="1.55"/><circle cx="520.5" cy="87.4" r="1.55"/><circle cx="520.5" cy="89.6" r="1.55"/><circle cx="516.2" cy="93.9" r="1.55"/><circle cx="517.6" cy="92.8" r="1.55"/><circle cx="527" cy="90.9" r="1.55"/><circle cx="526.4" cy="93.6" r="1.55"/><circle cx="522.3" cy="96.9" r="1.55"/><circle cx="505.7" cy="97.7" r="1.55"/><circle cx="503" cy="106.4" r="1.55"/><circle cx="516.9" cy="103.6" r="1.55"/><circle cx="521.6" cy="102.7" r="1.55"/><circle cx="525" cy="103.4" r="1.55"/><circle cx="533.8" cy="103.4" r="1.55"/><circle cx="536.8" cy="98.6" r="1.55"/><circle cx="543.9" cy="100.9" r="1.55"/><circle cx="546.6" cy="85.5" r="1.55"/><circle cx="555.4" cy="105" r="1.55"/><circle cx="560.1" cy="100.7" r="1.55"/><circle cx="108" cy="58.8" r="1.55"/><circle cx="120.1" cy="58.4" r="1.55"/><circle cx="124.6" cy="57" r="1.55"/><circle cx="126.2" cy="56.4" r="1.55"/><circle cx="90.8" cy="78.6" r="1.55"/><circle cx="91.4" cy="80.7" r="1.55"/><circle cx="106.6" cy="82" r="1.55"/><circle cx="105.7" cy="86.4" r="1.55"/><circle cx="124.2" cy="77.3" r="1.55"/><circle cx="122.8" cy="81.4" r="1.55"/><circle cx="121.5" cy="94.2" r="1.55"/><circle cx="144.9" cy="91.5" r="1.55"/><circle cx="249.5" cy="234.5" r="1.55"/><circle cx="268.4" cy="251.4" r="1.55"/><circle cx="286.7" cy="257.4" r="1.55"/><circle cx="287.4" cy="253.4" r="1.55"/><circle cx="309.6" cy="226.4" r="1.55"/><circle cx="317.1" cy="238.5" r="1.55"/><circle cx="317.1" cy="260.1" r="1.55"/><circle cx="244.1" cy="256.8" r="1.55"/><circle cx="261.2" cy="214.9" r="1.55"/><circle cx="292.5" cy="224.3" r="1.55"/><circle cx="293.8" cy="218.4" r="1.55"/><circle cx="280.7" cy="225.9" r="1.55"/><circle cx="271.7" cy="225.3" r="1.55"/><circle cx="302.8" cy="222.9" r="1.55"/><circle cx="304.1" cy="226.8" r="1.55"/><circle cx="312.6" cy="220.2" r="1.55"/><circle cx="305.7" cy="230.3" r="1.55"/><circle cx="400.5" cy="202.8" r="1.55"/><circle cx="408.2" cy="184.4" r="1.55"/><circle cx="424.4" cy="177.4" r="1.55"/><circle cx="427.1" cy="177.4" r="1.55"/><circle cx="430.5" cy="184.8" r="1.55"/><circle cx="448" cy="136.4" r="1.55"/><circle cx="450.7" cy="138.1" r="1.55"/><circle cx="429.1" cy="154.7" r="1.55"/><circle cx="443.2" cy="193" r="1.55"/><circle cx="441.2" cy="200.5" r="1.55"/><circle cx="448.6" cy="184.2" r="1.55"/><circle cx="462.4" cy="172.3" r="1.55"/><circle cx="460.4" cy="174" r="1.55"/><circle cx="453.1" cy="110.2" r="1.55"/></g>
<path d="M154.9,159.4l3,4.8l-3,4.8l-3,-4.8zM158.1,169.3l3,4.8l-3,4.8l-3,-4.8zM143.6,190.3l3,4.8l-3,4.8l-3,-4.8zM163.5,186.3l3,4.8l-3,4.8l-3,-4.8zM197,196.4l3,4.8l-3,4.8l-3,-4.8zM149.2,67l3,4.8l-3,4.8l-3,-4.8zM199.9,71l3,4.8l-3,4.8l-3,-4.8zM160.5,120.7l3,4.8l-3,4.8l-3,-4.8zM167.3,116.3l3,4.8l-3,4.8l-3,-4.8zM187.6,118.6l3,4.8l-3,4.8l-3,-4.8zM196.2,120.3l3,4.8l-3,4.8l-3,-4.8zM230.8,133.2l3,4.8l-3,4.8l-3,-4.8zM234.5,125.1l3,4.8l-3,4.8l-3,-4.8zM183.1,140.6l3,4.8l-3,4.8l-3,-4.8zM186.5,143.3l3,4.8l-3,4.8l-3,-4.8zM188.5,145.6l3,4.8l-3,4.8l-3,-4.8zM179.1,146.4l3,4.8l-3,4.8l-3,-4.8zM165.1,227.8l3,4.8l-3,4.8l-3,-4.8zM228.4,244.9l3,4.8l-3,4.8l-3,-4.8zM180.8,86l3,4.8l-3,4.8l-3,-4.8zM168.9,96.8l3,4.8l-3,4.8l-3,-4.8zM195.7,93.4l3,4.8l-3,4.8l-3,-4.8zM216.9,95.2l3,4.8l-3,4.8l-3,-4.8zM221.6,103.8l3,4.8l-3,4.8l-3,-4.8zM229.1,79l3,4.8l-3,4.8l-3,-4.8zM179.1,98.8l3,4.8l-3,4.8l-3,-4.8zM223.6,164.8l3,4.8l-3,4.8l-3,-4.8zM214.2,170.2l3,4.8l-3,4.8l-3,-4.8zM249.3,168.6l3,4.8l-3,4.8l-3,-4.8zM257.8,171.3l3,4.8l-3,4.8l-3,-4.8zM282.7,172.4l3,4.8l-3,4.8l-3,-4.8zM273,179.5l3,4.8l-3,4.8l-3,-4.8zM282.4,194.1l3,4.8l-3,4.8l-3,-4.8zM221.6,193.4l3,4.8l-3,4.8l-3,-4.8zM236.6,194.7l3,4.8l-3,4.8l-3,-4.8zM240.3,197.6l3,4.8l-3,4.8l-3,-4.8zM243.2,200.7l3,4.8l-3,4.8l-3,-4.8zM251.1,193.8l3,4.8l-3,4.8l-3,-4.8zM248.5,197.6l3,4.8l-3,4.8l-3,-4.8zM246.1,201.1l3,4.8l-3,4.8l-3,-4.8zM244.6,203.8l3,4.8l-3,4.8l-3,-4.8zM234.9,211.7l3,4.8l-3,4.8l-3,-4.8zM244.7,219.6l3,4.8l-3,4.8l-3,-4.8zM242.7,229.3l3,4.8l-3,4.8l-3,-4.8zM257.5,229.3l3,4.8l-3,4.8l-3,-4.8zM270,240.1l3,4.8l-3,4.8l-3,-4.8zM331.1,155.7l3,4.8l-3,4.8l-3,-4.8zM295.5,180.9l3,4.8l-3,4.8l-3,-4.8zM286.7,191.1l3,4.8l-3,4.8l-3,-4.8zM304.6,195.7l3,4.8l-3,4.8l-3,-4.8zM297.2,209.7l3,4.8l-3,4.8l-3,-4.8zM336.3,198.8l3,4.8l-3,4.8l-3,-4.8zM353.8,205.4l3,4.8l-3,4.8l-3,-4.8zM367.8,196.1l3,4.8l-3,4.8l-3,-4.8zM324.1,92.1l3,4.8l-3,4.8l-3,-4.8zM382.5,87.1l3,4.8l-3,4.8l-3,-4.8zM336.3,201.8l3,4.8l-3,4.8l-3,-4.8zM352.5,212.8l3,4.8l-3,4.8l-3,-4.8zM338,212.5l3,4.8l-3,4.8l-3,-4.8zM366.6,212.4l3,4.8l-3,4.8l-3,-4.8zM375.4,205.9l3,4.8l-3,4.8l-3,-4.8zM380.1,201.6l3,4.8l-3,4.8l-3,-4.8zM389.6,208.3l3,4.8l-3,4.8l-3,-4.8zM401.7,202.9l3,4.8l-3,4.8l-3,-4.8zM330.1,223.2l3,4.8l-3,4.8l-3,-4.8zM335.9,221.7l3,4.8l-3,4.8l-3,-4.8zM339.8,220.3l3,4.8l-3,4.8l-3,-4.8zM342.3,224.5l3,4.8l-3,4.8l-3,-4.8zM352.7,222.7l3,4.8l-3,4.8l-3,-4.8zM357.5,221.6l3,4.8l-3,4.8l-3,-4.8zM362.5,223.2l3,4.8l-3,4.8l-3,-4.8zM365.2,217.8l3,4.8l-3,4.8l-3,-4.8zM326.1,227.2l3,4.8l-3,4.8l-3,-4.8zM324,232.6l3,4.8l-3,4.8l-3,-4.8zM396.3,231.3l3,4.8l-3,4.8l-3,-4.8zM403.1,234l3,4.8l-3,4.8l-3,-4.8zM358.5,227.2l3,4.8l-3,4.8l-3,-4.8zM382.8,235.3l3,4.8l-3,4.8l-3,-4.8zM405.8,208.3l3,4.8l-3,4.8l-3,-4.8zM397.7,216.4l3,4.8l-3,4.8l-3,-4.8zM392.3,223.2l3,4.8l-3,4.8l-3,-4.8zM353.1,252.8l3,4.8l-3,4.8l-3,-4.8zM363.9,248l3,4.8l-3,4.8l-3,-4.8zM365.9,250.1l3,4.8l-3,4.8l-3,-4.8zM376.1,255.5l3,4.8l-3,4.8l-3,-4.8zM387.5,251.4l3,4.8l-3,4.8l-3,-4.8zM403.1,253.4l3,4.8l-3,4.8l-3,-4.8zM403.3,239.5l3,4.8l-3,4.8l-3,-4.8zM380.1,239.9l3,4.8l-3,4.8l-3,-4.8zM373.4,240.6l3,4.8l-3,4.8l-3,-4.8zM349,250.1l3,4.8l-3,4.8l-3,-4.8zM335.5,250.1l3,4.8l-3,4.8l-3,-4.8zM326.1,250.1l3,4.8l-3,4.8l-3,-4.8zM357.1,243.3l3,4.8l-3,4.8l-3,-4.8zM392,118.7l3,4.8l-3,4.8l-3,-4.8zM403.8,123.2l3,4.8l-3,4.8l-3,-4.8zM425,122.8l3,4.8l-3,4.8l-3,-4.8zM433.8,113.3l3,4.8l-3,4.8l-3,-4.8zM435.5,118.1l3,4.8l-3,4.8l-3,-4.8zM432.1,109.3l3,4.8l-3,4.8l-3,-4.8zM401.7,137.7l3,4.8l-3,4.8l-3,-4.8zM414.9,142.3l3,4.8l-3,4.8l-3,-4.8zM430.4,137.3l3,4.8l-3,4.8l-3,-4.8zM428.4,141.3l3,4.8l-3,4.8l-3,-4.8zM446.3,104.9l3,4.8l-3,4.8l-3,-4.8zM447.6,113.3l3,4.8l-3,4.8l-3,-4.8zM451.7,124.8l3,4.8l-3,4.8l-3,-4.8zM455.8,116.7l3,4.8l-3,4.8l-3,-4.8zM456.4,108.9l3,4.8l-3,4.8l-3,-4.8zM453.1,104.6l3,4.8l-3,4.8l-3,-4.8zM442.3,139l3,4.8l-3,4.8l-3,-4.8zM447.7,134.3l3,4.8l-3,4.8l-3,-4.8zM454.4,131.6l3,4.8l-3,4.8l-3,-4.8zM392.3,147.6l3,4.8l-3,4.8l-3,-4.8zM406.5,153l3,4.8l-3,4.8l-3,-4.8zM401.1,160.5l3,4.8l-3,4.8l-3,-4.8zM413.2,158.4l3,4.8l-3,4.8l-3,-4.8zM434.1,154.7l3,4.8l-3,4.8l-3,-4.8zM436.2,159.1l3,4.8l-3,4.8l-3,-4.8zM433.1,148.7l3,4.8l-3,4.8l-3,-4.8zM411.9,175.5l3,4.8l-3,4.8l-3,-4.8zM400,177.1l3,4.8l-3,4.8l-3,-4.8zM392.6,180l3,4.8l-3,4.8l-3,-4.8zM423.4,166.6l3,4.8l-3,4.8l-3,-4.8zM431.4,171.1l3,4.8l-3,4.8l-3,-4.8zM443.6,148.3l3,4.8l-3,4.8l-3,-4.8zM440.9,156.4l3,4.8l-3,4.8l-3,-4.8zM442.3,164.5l3,4.8l-3,4.8l-3,-4.8zM447.7,157.8l3,4.8l-3,4.8l-3,-4.8zM454.4,159.1l3,4.8l-3,4.8l-3,-4.8zM455.8,148.3l3,4.8l-3,4.8l-3,-4.8zM439.6,169.9l3,4.8l-3,4.8l-3,-4.8zM445,175.3l3,4.8l-3,4.8l-3,-4.8zM377.4,182.6l3,4.8l-3,4.8l-3,-4.8zM411.2,176.6l3,4.8l-3,4.8l-3,-4.8zM380.1,193.4l3,4.8l-3,4.8l-3,-4.8zM388.2,192.8l3,4.8l-3,4.8l-3,-4.8zM390.9,204.9l3,4.8l-3,4.8l-3,-4.8zM446.8,203.9l3,4.8l-3,4.8l-3,-4.8zM453.5,183.2l3,4.8l-3,4.8l-3,-4.8zM439.1,193.4l3,4.8l-3,4.8l-3,-4.8zM427.3,207.4l3,4.8l-3,4.8l-3,-4.8zM435.5,202.2l3,4.8l-3,4.8l-3,-4.8zM385.5,207.6l3,4.8l-3,4.8l-3,-4.8zM393.6,198.2l3,4.8l-3,4.8l-3,-4.8zM426.5,224.8l3,4.8l-3,4.8l-3,-4.8zM452.2,233.6l3,4.8l-3,4.8l-3,-4.8zM467.8,226.8l3,4.8l-3,4.8l-3,-4.8zM407.6,230.9l3,4.8l-3,4.8l-3,-4.8zM415.1,223.4l3,4.8l-3,4.8l-3,-4.8zM390.1,230.2l3,4.8l-3,4.8l-3,-4.8zM426.2,66l3,4.8l-3,4.8l-3,-4.8zM443.3,67l3,4.8l-3,4.8l-3,-4.8zM448.6,70.9l3,4.8l-3,4.8l-3,-4.8zM465.9,68.1l3,4.8l-3,4.8l-3,-4.8zM471.7,70.6l3,4.8l-3,4.8l-3,-4.8zM469.4,182.7l3,4.8l-3,4.8l-3,-4.8zM468.2,188.7l3,4.8l-3,4.8l-3,-4.8zM474.3,204.3l3,4.8l-3,4.8l-3,-4.8zM450,178.6l3,4.8l-3,4.8l-3,-4.8zM483.1,227.1l3,4.8l-3,4.8l-3,-4.8zM432.7,119.4l3,4.8l-3,4.8l-3,-4.8zM448.9,124.8l3,4.8l-3,4.8l-3,-4.8zM481.4,111.3l3,4.8l-3,4.8l-3,-4.8zM481.4,135.6l3,4.8l-3,4.8l-3,-4.8zM489.5,138.3l3,4.8l-3,4.8l-3,-4.8zM498.9,134.3l3,4.8l-3,4.8l-3,-4.8zM499.6,107.3l3,4.8l-3,4.8l-3,-4.8zM493.5,103.5l3,4.8l-3,4.8l-3,-4.8zM510.9,110.2l3,4.8l-3,4.8l-3,-4.8zM503.5,142l3,4.8l-3,4.8l-3,-4.8zM479.3,120.8l3,4.8l-3,4.8l-3,-4.8zM480,127.5l3,4.8l-3,4.8l-3,-4.8zM436.1,168.6l3,4.8l-3,4.8l-3,-4.8zM476.6,158.5l3,4.8l-3,4.8l-3,-4.8zM475.9,168.6l3,4.8l-3,4.8l-3,-4.8zM488.1,151l3,4.8l-3,4.8l-3,-4.8zM488.1,160.5l3,4.8l-3,4.8l-3,-4.8zM503.6,144.3l3,4.8l-3,4.8l-3,-4.8zM504.3,152.4l3,4.8l-3,4.8l-3,-4.8zM482,139.6l3,4.8l-3,4.8l-3,-4.8zM498.9,139.6l3,4.8l-3,4.8l-3,-4.8zM470.5,153.7l3,4.8l-3,4.8l-3,-4.8zM478.6,72l3,4.8l-3,4.8l-3,-4.8zM483.4,72l3,4.8l-3,4.8l-3,-4.8zM495.6,67l3,4.8l-3,4.8l-3,-4.8zM431.4,82.1l3,4.8l-3,4.8l-3,-4.8zM461.5,89.7l3,4.8l-3,4.8l-3,-4.8zM467.8,78.7l3,4.8l-3,4.8l-3,-4.8zM471.9,80.1l3,4.8l-3,4.8l-3,-4.8zM488.8,87.5l3,4.8l-3,4.8l-3,-4.8zM498.9,86.8l3,4.8l-3,4.8l-3,-4.8zM489.5,96.3l3,4.8l-3,4.8l-3,-4.8zM497.6,97l3,4.8l-3,4.8l-3,-4.8zM512.8,95.7l3,4.8l-3,4.8l-3,-4.8zM479.3,97.6l3,4.8l-3,4.8l-3,-4.8zM477.3,102.4l3,4.8l-3,4.8l-3,-4.8zM59.6,150.2l3,4.8l-3,4.8l-3,-4.8zM87.6,148.8l3,4.8l-3,4.8l-3,-4.8zM92.6,166.4l3,4.8l-3,4.8l-3,-4.8zM74.5,181.7l3,4.8l-3,4.8l-3,-4.8zM99.3,189.8l3,4.8l-3,4.8l-3,-4.8zM122.7,95.6l3,4.8l-3,4.8l-3,-4.8zM57.8,126.7l3,4.8l-3,4.8l-3,-4.8zM495.5,196.8l3,4.8l-3,4.8l-3,-4.8zM493,206.3l3,4.8l-3,4.8l-3,-4.8zM509,192.5l3,4.8l-3,4.8l-3,-4.8zM524.5,151l3,4.8l-3,4.8l-3,-4.8zM549.2,155.7l3,4.8l-3,4.8l-3,-4.8zM554.2,172.6l3,4.8l-3,4.8l-3,-4.8zM568.7,147.6l3,4.8l-3,4.8l-3,-4.8zM514.4,109.7l3,4.8l-3,4.8l-3,-4.8zM531.4,108.2l3,4.8l-3,4.8l-3,-4.8zM548.6,138.3l3,4.8l-3,4.8l-3,-4.8zM568.9,144.4l3,4.8l-3,4.8l-3,-4.8zM532.7,81.7l3,4.8l-3,4.8l-3,-4.8zM548.4,97.2l3,4.8l-3,4.8l-3,-4.8zM261.7,249.3l3,4.8l-3,4.8l-3,-4.8zM281.9,254l3,4.8l-3,4.8l-3,-4.8zM292.8,251.3l3,4.8l-3,4.8l-3,-4.8zM303.6,251.3l3,4.8l-3,4.8l-3,-4.8zM311.7,249.9l3,4.8l-3,4.8l-3,-4.8zM318.4,250.6l3,4.8l-3,4.8l-3,-4.8zM240.1,252.6l3,4.8l-3,4.8l-3,-4.8zM286.9,221.9l3,4.8l-3,4.8l-3,-4.8zM299.9,226.1l3,4.8l-3,4.8l-3,-4.8zM293.7,225.3l3,4.8l-3,4.8l-3,-4.8zM309,227.6l3,4.8l-3,4.8l-3,-4.8zM270.5,236.4l3,4.8l-3,4.8l-3,-4.8zM267.1,240.5l3,4.8l-3,4.8l-3,-4.8zM256.3,220.2l3,4.8l-3,4.8l-3,-4.8zM275.2,228.3l3,4.8l-3,4.8l-3,-4.8zM282,226.3l3,4.8l-3,4.8l-3,-4.8zM316.1,228.1l3,4.8l-3,4.8l-3,-4.8zM276.5,236.4l3,4.8l-3,4.8l-3,-4.8zM257.6,210.2l3,4.8l-3,4.8l-3,-4.8zM266,210.3l3,4.8l-3,4.8l-3,-4.8zM288.3,214.6l3,4.8l-3,4.8l-3,-4.8zM276.6,219.3l3,4.8l-3,4.8l-3,-4.8zM284.7,225.5l3,4.8l-3,4.8l-3,-4.8zM299.6,220.7l3,4.8l-3,4.8l-3,-4.8zM266.3,221.3l3,4.8l-3,4.8l-3,-4.8zM273.8,221.4l3,4.8l-3,4.8l-3,-4.8zM309.9,224.1l3,4.8l-3,4.8l-3,-4.8zM305.4,227.9l3,4.8l-3,4.8l-3,-4.8zM313.1,225.5l3,4.8l-3,4.8l-3,-4.8zM319.8,219.6l3,4.8l-3,4.8l-3,-4.8zM292.2,227.9l3,4.8l-3,4.8l-3,-4.8zM284.1,231.3l3,4.8l-3,4.8l-3,-4.8zM290.1,231.3l3,4.8l-3,4.8l-3,-4.8zM296.9,231.3l3,4.8l-3,4.8l-3,-4.8zM303.7,231.3l3,4.8l-3,4.8l-3,-4.8zM310.4,231.3l3,4.8l-3,4.8l-3,-4.8zM286.8,235.3l3,4.8l-3,4.8l-3,-4.8zM293.5,235.3l3,4.8l-3,4.8l-3,-4.8zM300.3,235.3l3,4.8l-3,4.8l-3,-4.8zM307,235.3l3,4.8l-3,4.8l-3,-4.8zM282.7,238.7l3,4.8l-3,4.8l-3,-4.8zM289.5,238.7l3,4.8l-3,4.8l-3,-4.8zM296.2,238.7l3,4.8l-3,4.8l-3,-4.8zM303,238.7l3,4.8l-3,4.8l-3,-4.8zM309.7,238.7l3,4.8l-3,4.8l-3,-4.8zM316.5,238l3,4.8l-3,4.8l-3,-4.8zM302.5,261.7l3,4.8l-3,4.8l-3,-4.8zM305.8,261.7l3,4.8l-3,4.8l-3,-4.8zM310.6,261.2l3,4.8l-3,4.8l-3,-4.8zM131.2,105.4l3,4.8l-3,4.8l-3,-4.8zM141.2,107.6l3,4.8l-3,4.8l-3,-4.8zM239.5,258.7l3,4.8l-3,4.8l-3,-4.8zM248.9,261.4l3,4.8l-3,4.8l-3,-4.8zM394,186.1l3,4.8l-3,4.8l-3,-4.8zM409.6,189.4l3,4.8l-3,4.8l-3,-4.8zM422.4,186.1l3,4.8l-3,4.8l-3,-4.8zM428.5,184.7l3,4.8l-3,4.8l-3,-4.8zM417.7,188.8l3,4.8l-3,4.8l-3,-4.8zM429.8,174.6l3,4.8l-3,4.8l-3,-4.8zM452,128.6l3,4.8l-3,4.8l-3,-4.8zM453,186.6l3,4.8l-3,4.8l-3,-4.8zM455.7,186.6l3,4.8l-3,4.8l-3,-4.8zM456.7,183.1l3,4.8l-3,4.8l-3,-4.8zM444.9,181.4l3,4.8l-3,4.8l-3,-4.8zM442.8,169.9l3,4.8l-3,4.8l-3,-4.8zM452.3,170.6l3,4.8l-3,4.8l-3,-4.8zM431.4,180.7l3,4.8l-3,4.8l-3,-4.8zM458.4,167.5l3,4.8l-3,4.8l-3,-4.8zM435.4,174l3,4.8l-3,4.8l-3,-4.8zM434.1,184.1l3,4.8l-3,4.8l-3,-4.8zM440.7,111.3l3,4.8l-3,4.8l-3,-4.8zM457.2,106.1l3,4.8l-3,4.8l-3,-4.8zM481.5,99.4l3,4.8l-3,4.8l-3,-4.8zM293.8,245.3l3,4.8l-3,4.8l-3,-4.8zM297.2,245.2l3,4.8l-3,4.8l-3,-4.8zM300,245.5l3,4.8l-3,4.8l-3,-4.8zM302.5,245.7l3,4.8l-3,4.8l-3,-4.8zM305.4,245.6l3,4.8l-3,4.8l-3,-4.8zM308.5,245.2l3,4.8l-3,4.8l-3,-4.8zM311.9,246.1l3,4.8l-3,4.8l-3,-4.8zM314.5,245.4l3,4.8l-3,4.8l-3,-4.8zM318.2,246.2l3,4.8l-3,4.8l-3,-4.8zM321.1,245.6l3,4.8l-3,4.8l-3,-4.8zM324.6,245.2l3,4.8l-3,4.8l-3,-4.8zM327.4,245.4l3,4.8l-3,4.8l-3,-4.8zM329.6,245.2l3,4.8l-3,4.8l-3,-4.8zM332.8,246.1l3,4.8l-3,4.8l-3,-4.8zM335.6,245.8l3,4.8l-3,4.8l-3,-4.8zM339.2,245.5l3,4.8l-3,4.8l-3,-4.8zM342.1,245.2l3,4.8l-3,4.8l-3,-4.8zM391.5,210.3l3,4.8l-3,4.8l-3,-4.8zM395.2,210.6l3,4.8l-3,4.8l-3,-4.8zM397.8,210.8l3,4.8l-3,4.8l-3,-4.8zM400.9,210.5l3,4.8l-3,4.8l-3,-4.8zM404.4,210.9l3,4.8l-3,4.8l-3,-4.8zM406.7,210.8l3,4.8l-3,4.8l-3,-4.8zM410,211.2l3,4.8l-3,4.8l-3,-4.8zM375.8,213.4l3,4.8l-3,4.8l-3,-4.8zM379.1,213.2l3,4.8l-3,4.8l-3,-4.8zM381.4,214l3,4.8l-3,4.8l-3,-4.8zM384.1,213.7l3,4.8l-3,4.8l-3,-4.8zM386.9,213.9l3,4.8l-3,4.8l-3,-4.8zM390.8,213.8l3,4.8l-3,4.8l-3,-4.8zM394,213.5l3,4.8l-3,4.8l-3,-4.8zM396.7,213.8l3,4.8l-3,4.8l-3,-4.8zM399.6,213.6l3,4.8l-3,4.8l-3,-4.8zM402.9,214.2l3,4.8l-3,4.8l-3,-4.8zM405.5,213.9l3,4.8l-3,4.8l-3,-4.8zM408,213.9l3,4.8l-3,4.8l-3,-4.8zM374.2,217.3l3,4.8l-3,4.8l-3,-4.8zM377.4,216.4l3,4.8l-3,4.8l-3,-4.8zM379.9,216.9l3,4.8l-3,4.8l-3,-4.8zM382.4,216.7l3,4.8l-3,4.8l-3,-4.8zM385.6,216.2l3,4.8l-3,4.8l-3,-4.8zM388.5,217l3,4.8l-3,4.8l-3,-4.8zM391.6,216.4l3,4.8l-3,4.8l-3,-4.8zM394.9,217.1l3,4.8l-3,4.8l-3,-4.8zM397.5,216.6l3,4.8l-3,4.8l-3,-4.8zM401.1,217.2l3,4.8l-3,4.8l-3,-4.8zM404.4,217.1l3,4.8l-3,4.8l-3,-4.8zM406.7,216.6l3,4.8l-3,4.8l-3,-4.8zM409.8,217.2l3,4.8l-3,4.8l-3,-4.8zM376,219.3l3,4.8l-3,4.8l-3,-4.8zM378.1,219.4l3,4.8l-3,4.8l-3,-4.8zM381.2,219.7l3,4.8l-3,4.8l-3,-4.8zM384.6,219.4l3,4.8l-3,4.8l-3,-4.8zM386.9,219.6l3,4.8l-3,4.8l-3,-4.8zM390.3,219.8l3,4.8l-3,4.8l-3,-4.8zM394,219.9l3,4.8l-3,4.8l-3,-4.8zM396.5,219.8l3,4.8l-3,4.8l-3,-4.8zM399.7,219.2l3,4.8l-3,4.8l-3,-4.8zM403,220l3,4.8l-3,4.8l-3,-4.8zM405.9,220.1l3,4.8l-3,4.8l-3,-4.8zM408.4,219.6l3,4.8l-3,4.8l-3,-4.8zM373.5,222.9l3,4.8l-3,4.8l-3,-4.8zM376.5,222.2l3,4.8l-3,4.8l-3,-4.8zM379.7,222.3l3,4.8l-3,4.8l-3,-4.8zM382.8,222.2l3,4.8l-3,4.8l-3,-4.8zM385.4,222.3l3,4.8l-3,4.8l-3,-4.8zM388.5,222.5l3,4.8l-3,4.8l-3,-4.8zM391.4,223.1l3,4.8l-3,4.8l-3,-4.8zM395.1,222.3l3,4.8l-3,4.8l-3,-4.8zM397.7,222.5l3,4.8l-3,4.8l-3,-4.8zM400.8,222.2l3,4.8l-3,4.8l-3,-4.8zM404.4,223.3l3,4.8l-3,4.8l-3,-4.8zM407,222.7l3,4.8l-3,4.8l-3,-4.8zM409.5,222.2l3,4.8l-3,4.8l-3,-4.8zM389.8,194.4l3,4.8l-3,4.8l-3,-4.8zM405.4,194.3l3,4.8l-3,4.8l-3,-4.8zM407.4,195.2l3,4.8l-3,4.8l-3,-4.8zM411,194.3l3,4.8l-3,4.8l-3,-4.8zM414.1,194.1l3,4.8l-3,4.8l-3,-4.8zM417,195.3l3,4.8l-3,4.8l-3,-4.8zM420.4,194.9l3,4.8l-3,4.8l-3,-4.8zM422.7,194.5l3,4.8l-3,4.8l-3,-4.8zM425.6,195l3,4.8l-3,4.8l-3,-4.8zM391.5,198l3,4.8l-3,4.8l-3,-4.8zM406.3,197.4l3,4.8l-3,4.8l-3,-4.8zM409.9,198.3l3,4.8l-3,4.8l-3,-4.8zM412.9,198.1l3,4.8l-3,4.8l-3,-4.8zM415.9,198l3,4.8l-3,4.8l-3,-4.8zM418.2,197.7l3,4.8l-3,4.8l-3,-4.8zM421.3,197.1l3,4.8l-3,4.8l-3,-4.8zM423.9,197.4l3,4.8l-3,4.8l-3,-4.8zM389.7,200.9l3,4.8l-3,4.8l-3,-4.8zM405.5,200.6l3,4.8l-3,4.8l-3,-4.8zM408.5,201.3l3,4.8l-3,4.8l-3,-4.8zM411.5,200.5l3,4.8l-3,4.8l-3,-4.8zM413.7,200.4l3,4.8l-3,4.8l-3,-4.8zM416.6,200.3l3,4.8l-3,4.8l-3,-4.8zM420.1,201.2l3,4.8l-3,4.8l-3,-4.8zM423.4,200.7l3,4.8l-3,4.8l-3,-4.8zM391.7,204.1l3,4.8l-3,4.8l-3,-4.8zM403,203.9l3,4.8l-3,4.8l-3,-4.8zM407,204l3,4.8l-3,4.8l-3,-4.8zM409.8,203.7l3,4.8l-3,4.8l-3,-4.8zM412.1,204l3,4.8l-3,4.8l-3,-4.8zM415.3,204.1l3,4.8l-3,4.8l-3,-4.8zM419.1,203.6l3,4.8l-3,4.8l-3,-4.8zM389.9,207.2l3,4.8l-3,4.8l-3,-4.8zM393.3,206.3l3,4.8l-3,4.8l-3,-4.8zM401.6,206.3l3,4.8l-3,4.8l-3,-4.8zM405.5,207.1l3,4.8l-3,4.8l-3,-4.8zM407.6,207.1l3,4.8l-3,4.8l-3,-4.8zM411.6,206.9l3,4.8l-3,4.8l-3,-4.8zM413.8,206.8l3,4.8l-3,4.8l-3,-4.8zM416.6,206.1l3,4.8l-3,4.8l-3,-4.8zM420.6,206.9l3,4.8l-3,4.8l-3,-4.8zM426.6,183.3l3,4.8l-3,4.8l-3,-4.8zM429.5,183.2l3,4.8l-3,4.8l-3,-4.8zM422.5,185.5l3,4.8l-3,4.8l-3,-4.8zM424.8,185.6l3,4.8l-3,4.8l-3,-4.8zM427.8,185.9l3,4.8l-3,4.8l-3,-4.8zM454.6,130.6l3,4.8l-3,4.8l-3,-4.8zM457.5,131.2l3,4.8l-3,4.8l-3,-4.8zM460.7,130.6l3,4.8l-3,4.8l-3,-4.8zM456.5,134.2l3,4.8l-3,4.8l-3,-4.8zM459.3,134.2l3,4.8l-3,4.8l-3,-4.8zM462.4,133.7l3,4.8l-3,4.8l-3,-4.8zM454.9,136.1l3,4.8l-3,4.8l-3,-4.8zM457.8,136.3l3,4.8l-3,4.8l-3,-4.8zM460.3,137.1l3,4.8l-3,4.8l-3,-4.8zM444,139.7l3,4.8l-3,4.8l-3,-4.8zM447.7,139.8l3,4.8l-3,4.8l-3,-4.8zM450.2,139.7l3,4.8l-3,4.8l-3,-4.8zM453.5,140l3,4.8l-3,4.8l-3,-4.8zM455.9,139.8l3,4.8l-3,4.8l-3,-4.8zM459.1,139.4l3,4.8l-3,4.8l-3,-4.8zM462.7,139.7l3,4.8l-3,4.8l-3,-4.8zM443,143l3,4.8l-3,4.8l-3,-4.8zM446.4,142.6l3,4.8l-3,4.8l-3,-4.8zM449,142.7l3,4.8l-3,4.8l-3,-4.8zM451.9,142.9l3,4.8l-3,4.8l-3,-4.8zM454.8,142.7l3,4.8l-3,4.8l-3,-4.8zM457.9,143.2l3,4.8l-3,4.8l-3,-4.8zM461.1,143.2l3,4.8l-3,4.8l-3,-4.8zM433.9,150.4l3,4.8l-3,4.8l-3,-4.8zM436.5,151.2l3,4.8l-3,4.8l-3,-4.8zM439.8,150.3l3,4.8l-3,4.8l-3,-4.8zM441.9,150.6l3,4.8l-3,4.8l-3,-4.8zM444.9,150.4l3,4.8l-3,4.8l-3,-4.8zM447.9,150.9l3,4.8l-3,4.8l-3,-4.8zM451.7,151.2l3,4.8l-3,4.8l-3,-4.8zM454,151l3,4.8l-3,4.8l-3,-4.8zM457.6,150.3l3,4.8l-3,4.8l-3,-4.8zM460.9,151.3l3,4.8l-3,4.8l-3,-4.8zM434.6,154.2l3,4.8l-3,4.8l-3,-4.8zM437.8,153.7l3,4.8l-3,4.8l-3,-4.8zM441.5,154.1l3,4.8l-3,4.8l-3,-4.8zM443.5,153.6l3,4.8l-3,4.8l-3,-4.8zM446.9,153.5l3,4.8l-3,4.8l-3,-4.8zM449.5,153.5l3,4.8l-3,4.8l-3,-4.8zM453.2,153.1l3,4.8l-3,4.8l-3,-4.8zM456,153.6l3,4.8l-3,4.8l-3,-4.8zM458.3,153.5l3,4.8l-3,4.8l-3,-4.8zM462,153.7l3,4.8l-3,4.8l-3,-4.8zM432.9,157.3l3,4.8l-3,4.8l-3,-4.8zM436.7,157.3l3,4.8l-3,4.8l-3,-4.8zM438.9,156.4l3,4.8l-3,4.8l-3,-4.8zM441.8,157l3,4.8l-3,4.8l-3,-4.8zM445.1,156.3l3,4.8l-3,4.8l-3,-4.8zM448.3,157.2l3,4.8l-3,4.8l-3,-4.8zM451.8,156.4l3,4.8l-3,4.8l-3,-4.8zM454,157.2l3,4.8l-3,4.8l-3,-4.8zM457.5,156.9l3,4.8l-3,4.8l-3,-4.8zM459.9,156.2l3,4.8l-3,4.8l-3,-4.8zM435.1,159.6l3,4.8l-3,4.8l-3,-4.8zM437.4,160.2l3,4.8l-3,4.8l-3,-4.8zM441.1,160.1l3,4.8l-3,4.8l-3,-4.8zM443.4,160.1l3,4.8l-3,4.8l-3,-4.8zM446.4,160.1l3,4.8l-3,4.8l-3,-4.8zM449.8,159.5l3,4.8l-3,4.8l-3,-4.8zM453,160.2l3,4.8l-3,4.8l-3,-4.8zM455.6,159.3l3,4.8l-3,4.8l-3,-4.8zM458.9,159.4l3,4.8l-3,4.8l-3,-4.8zM461.4,159.3l3,4.8l-3,4.8l-3,-4.8zM432.9,162.3l3,4.8l-3,4.8l-3,-4.8zM436.2,162.5l3,4.8l-3,4.8l-3,-4.8zM439.7,162.4l3,4.8l-3,4.8l-3,-4.8zM442.4,162.3l3,4.8l-3,4.8l-3,-4.8zM445.2,162.1l3,4.8l-3,4.8l-3,-4.8zM448.1,162.1l3,4.8l-3,4.8l-3,-4.8zM451.7,162.8l3,4.8l-3,4.8l-3,-4.8zM454,162.7l3,4.8l-3,4.8l-3,-4.8zM457.9,162.2l3,4.8l-3,4.8l-3,-4.8zM460.8,162.6l3,4.8l-3,4.8l-3,-4.8zM427,189.1l3,4.8l-3,4.8l-3,-4.8zM429.9,188.7l3,4.8l-3,4.8l-3,-4.8zM433.2,189.3l3,4.8l-3,4.8l-3,-4.8zM435.8,189.1l3,4.8l-3,4.8l-3,-4.8zM439.2,188.9l3,4.8l-3,4.8l-3,-4.8zM428.4,191.5l3,4.8l-3,4.8l-3,-4.8zM431,191.3l3,4.8l-3,4.8l-3,-4.8zM434,192l3,4.8l-3,4.8l-3,-4.8zM437.2,191.3l3,4.8l-3,4.8l-3,-4.8zM426.5,195.1l3,4.8l-3,4.8l-3,-4.8zM430.4,194.9l3,4.8l-3,4.8l-3,-4.8zM432.7,194.4l3,4.8l-3,4.8l-3,-4.8zM438.8,194.7l3,4.8l-3,4.8l-3,-4.8zM428.1,197.6l3,4.8l-3,4.8l-3,-4.8zM431.2,198.3l3,4.8l-3,4.8l-3,-4.8zM435.1,197.8l3,4.8l-3,4.8l-3,-4.8zM426.7,201.3l3,4.8l-3,4.8l-3,-4.8zM429.8,200.5l3,4.8l-3,4.8l-3,-4.8zM432.4,200.6l3,4.8l-3,4.8l-3,-4.8zM454.2,110.7l3,4.8l-3,4.8l-3,-4.8zM456.8,110.7l3,4.8l-3,4.8l-3,-4.8zM459.6,110.4l3,4.8l-3,4.8l-3,-4.8zM462.7,110.6l3,4.8l-3,4.8l-3,-4.8zM465.7,110.1l3,4.8l-3,4.8l-3,-4.8zM469,110.4l3,4.8l-3,4.8l-3,-4.8zM472.3,110.7l3,4.8l-3,4.8l-3,-4.8zM475.5,110.9l3,4.8l-3,4.8l-3,-4.8zM456,114.2l3,4.8l-3,4.8l-3,-4.8zM458.6,113.5l3,4.8l-3,4.8l-3,-4.8zM462.3,113.3l3,4.8l-3,4.8l-3,-4.8zM465,113.9l3,4.8l-3,4.8l-3,-4.8zM467.2,114.1l3,4.8l-3,4.8l-3,-4.8zM471.2,113.9l3,4.8l-3,4.8l-3,-4.8zM474,114.1l3,4.8l-3,4.8l-3,-4.8zM476.3,113.7l3,4.8l-3,4.8l-3,-4.8zM454.2,117.1l3,4.8l-3,4.8l-3,-4.8zM457.6,117.1l3,4.8l-3,4.8l-3,-4.8zM460.3,117.2l3,4.8l-3,4.8l-3,-4.8zM463.4,116.9l3,4.8l-3,4.8l-3,-4.8zM465.9,116.1l3,4.8l-3,4.8l-3,-4.8zM468.8,116.5l3,4.8l-3,4.8l-3,-4.8zM471.7,117.1l3,4.8l-3,4.8l-3,-4.8zM475.3,116.9l3,4.8l-3,4.8l-3,-4.8zM455.9,119.9l3,4.8l-3,4.8l-3,-4.8zM458.7,119.1l3,4.8l-3,4.8l-3,-4.8zM462.1,120l3,4.8l-3,4.8l-3,-4.8zM464.7,119.7l3,4.8l-3,4.8l-3,-4.8zM467.9,119.2l3,4.8l-3,4.8l-3,-4.8zM471,119.4l3,4.8l-3,4.8l-3,-4.8zM473.2,119.4l3,4.8l-3,4.8l-3,-4.8zM477,119.3l3,4.8l-3,4.8l-3,-4.8zM457.5,123.3l3,4.8l-3,4.8l-3,-4.8zM460.2,122.6l3,4.8l-3,4.8l-3,-4.8zM463.2,122.9l3,4.8l-3,4.8l-3,-4.8zM466.5,122.8l3,4.8l-3,4.8l-3,-4.8zM469.4,122.2l3,4.8l-3,4.8l-3,-4.8zM471.8,122.4l3,4.8l-3,4.8l-3,-4.8zM475.5,122.5l3,4.8l-3,4.8l-3,-4.8zM465.6,91.5l3,4.8l-3,4.8l-3,-4.8zM468,91.8l3,4.8l-3,4.8l-3,-4.8zM471.7,92.3l3,4.8l-3,4.8l-3,-4.8zM464.2,94.8l3,4.8l-3,4.8l-3,-4.8zM467,95.1l3,4.8l-3,4.8l-3,-4.8zM470,94.6l3,4.8l-3,4.8l-3,-4.8zM463,97.7l3,4.8l-3,4.8l-3,-4.8zM466.1,98.6l3,4.8l-3,4.8l-3,-4.8zM467.9,98.1l3,4.8l-3,4.8l-3,-4.8zM471.9,98.7l3,4.8l-3,4.8l-3,-4.8zM463.9,100.8l3,4.8l-3,4.8l-3,-4.8zM466.7,101.6l3,4.8l-3,4.8l-3,-4.8zM469.7,101.2l3,4.8l-3,4.8l-3,-4.8zM476.6,105.2l3,4.8l-3,4.8l-3,-4.8zM476,107.8l3,4.8l-3,4.8l-3,-4.8zM478.9,108.2l3,4.8l-3,4.8l-3,-4.8zM474.5,111.4l3,4.8l-3,4.8l-3,-4.8zM476.7,111.7l3,4.8l-3,4.8l-3,-4.8zM475.5,113.6l3,4.8l-3,4.8l-3,-4.8zM473.4,117.2l3,4.8l-3,4.8l-3,-4.8zM472.4,120l3,4.8l-3,4.8l-3,-4.8zM475.1,120l3,4.8l-3,4.8l-3,-4.8zM470.8,123.6l3,4.8l-3,4.8l-3,-4.8zM473.4,123.5l3,4.8l-3,4.8l-3,-4.8zM472.9,125.7l3,4.8l-3,4.8l-3,-4.8zM471.5,129.5l3,4.8l-3,4.8l-3,-4.8zM470,131.9l3,4.8l-3,4.8l-3,-4.8zM467.8,135.1l3,4.8l-3,4.8l-3,-4.8zM467.1,138.3l3,4.8l-3,4.8l-3,-4.8zM464.8,141.1l3,4.8l-3,4.8l-3,-4.8zM463.2,143.7l3,4.8l-3,4.8l-3,-4.8zM466,144.6l3,4.8l-3,4.8l-3,-4.8zM461.7,147.7l3,4.8l-3,4.8l-3,-4.8zM464.7,146.9l3,4.8l-3,4.8l-3,-4.8zM460.5,149.8l3,4.8l-3,4.8l-3,-4.8zM463.3,150.7l3,4.8l-3,4.8l-3,-4.8zM459.5,153.6l3,4.8l-3,4.8l-3,-4.8zM457.7,156.7l3,4.8l-3,4.8l-3,-4.8zM456.5,159.3l3,4.8l-3,4.8l-3,-4.8zM454.8,161.7l3,4.8l-3,4.8l-3,-4.8zM453.3,165.1l3,4.8l-3,4.8l-3,-4.8zM448.8,168.4l3,4.8l-3,4.8l-3,-4.8zM451.2,167.7l3,4.8l-3,4.8l-3,-4.8zM447.5,170.8l3,4.8l-3,4.8l-3,-4.8zM450,171l3,4.8l-3,4.8l-3,-4.8zM445.3,174.5l3,4.8l-3,4.8l-3,-4.8zM444.6,176.9l3,4.8l-3,4.8l-3,-4.8zM439.7,180l3,4.8l-3,4.8l-3,-4.8zM442.6,180.1l3,4.8l-3,4.8l-3,-4.8zM437.6,182.8l3,4.8l-3,4.8l-3,-4.8zM433.1,186.7l3,4.8l-3,4.8l-3,-4.8zM436.5,185.9l3,4.8l-3,4.8l-3,-4.8zM432.5,189.8l3,4.8l-3,4.8l-3,-4.8zM434.9,188.8l3,4.8l-3,4.8l-3,-4.8zM427.1,191.7l3,4.8l-3,4.8l-3,-4.8zM430.3,191.7l3,4.8l-3,4.8l-3,-4.8zM425.7,194.9l3,4.8l-3,4.8l-3,-4.8zM429.1,195.7l3,4.8l-3,4.8l-3,-4.8zM421.8,198.1l3,4.8l-3,4.8l-3,-4.8zM424.4,198.2l3,4.8l-3,4.8l-3,-4.8zM236.9,201l3,4.8l-3,4.8l-3,-4.8zM416.5,200.9l3,4.8l-3,4.8l-3,-4.8zM420.6,200.8l3,4.8l-3,4.8l-3,-4.8zM423,201.4l3,4.8l-3,4.8l-3,-4.8zM238.9,203.9l3,4.8l-3,4.8l-3,-4.8zM415.2,203.9l3,4.8l-3,4.8l-3,-4.8zM418.4,204.1l3,4.8l-3,4.8l-3,-4.8zM237.5,207.6l3,4.8l-3,4.8l-3,-4.8zM240.4,206.6l3,4.8l-3,4.8l-3,-4.8zM242.4,207.5l3,4.8l-3,4.8l-3,-4.8zM411.5,207.2l3,4.8l-3,4.8l-3,-4.8zM414.1,206.6l3,4.8l-3,4.8l-3,-4.8zM241.4,210.7l3,4.8l-3,4.8l-3,-4.8zM244.9,210.6l3,4.8l-3,4.8l-3,-4.8zM248.1,209.9l3,4.8l-3,4.8l-3,-4.8zM406,209.8l3,4.8l-3,4.8l-3,-4.8zM409.5,210.4l3,4.8l-3,4.8l-3,-4.8zM413,210.5l3,4.8l-3,4.8l-3,-4.8zM243.2,213.5l3,4.8l-3,4.8l-3,-4.8zM245.9,213.3l3,4.8l-3,4.8l-3,-4.8zM248.4,213.5l3,4.8l-3,4.8l-3,-4.8zM251.7,213.7l3,4.8l-3,4.8l-3,-4.8zM402.2,213l3,4.8l-3,4.8l-3,-4.8zM404.6,212.9l3,4.8l-3,4.8l-3,-4.8zM408.2,213.4l3,4.8l-3,4.8l-3,-4.8zM247,215.7l3,4.8l-3,4.8l-3,-4.8zM250.5,216.3l3,4.8l-3,4.8l-3,-4.8zM253.4,215.9l3,4.8l-3,4.8l-3,-4.8zM256.6,215.6l3,4.8l-3,4.8l-3,-4.8zM394.3,216.2l3,4.8l-3,4.8l-3,-4.8zM398.1,216.4l3,4.8l-3,4.8l-3,-4.8zM401,216.2l3,4.8l-3,4.8l-3,-4.8zM403.2,215.9l3,4.8l-3,4.8l-3,-4.8zM252.6,219.4l3,4.8l-3,4.8l-3,-4.8zM254.8,218.6l3,4.8l-3,4.8l-3,-4.8zM258,219.4l3,4.8l-3,4.8l-3,-4.8zM260.9,218.9l3,4.8l-3,4.8l-3,-4.8zM390.2,219.7l3,4.8l-3,4.8l-3,-4.8zM392.7,218.6l3,4.8l-3,4.8l-3,-4.8zM395.8,219.1l3,4.8l-3,4.8l-3,-4.8zM399.2,218.8l3,4.8l-3,4.8l-3,-4.8zM256.9,222.5l3,4.8l-3,4.8l-3,-4.8zM259.5,221.8l3,4.8l-3,4.8l-3,-4.8zM263.1,222l3,4.8l-3,4.8l-3,-4.8zM265.9,221.9l3,4.8l-3,4.8l-3,-4.8zM382.2,222.5l3,4.8l-3,4.8l-3,-4.8zM385.3,222.7l3,4.8l-3,4.8l-3,-4.8zM388.5,221.8l3,4.8l-3,4.8l-3,-4.8zM391.2,222.1l3,4.8l-3,4.8l-3,-4.8zM394.7,222.7l3,4.8l-3,4.8l-3,-4.8zM257.6,225.1l3,4.8l-3,4.8l-3,-4.8zM260.7,225.8l3,4.8l-3,4.8l-3,-4.8zM263.6,224.7l3,4.8l-3,4.8l-3,-4.8zM266.5,225.1l3,4.8l-3,4.8l-3,-4.8zM270.5,225.7l3,4.8l-3,4.8l-3,-4.8zM273.3,225.8l3,4.8l-3,4.8l-3,-4.8zM375.5,225l3,4.8l-3,4.8l-3,-4.8zM377.6,225.7l3,4.8l-3,4.8l-3,-4.8zM381.3,224.6l3,4.8l-3,4.8l-3,-4.8zM384.2,225.1l3,4.8l-3,4.8l-3,-4.8zM386.8,225l3,4.8l-3,4.8l-3,-4.8zM389.6,224.6l3,4.8l-3,4.8l-3,-4.8zM262.2,228l3,4.8l-3,4.8l-3,-4.8zM266,227.7l3,4.8l-3,4.8l-3,-4.8zM269.1,227.8l3,4.8l-3,4.8l-3,-4.8zM271.3,228.6l3,4.8l-3,4.8l-3,-4.8zM274.9,228.1l3,4.8l-3,4.8l-3,-4.8zM277,228.2l3,4.8l-3,4.8l-3,-4.8zM280.3,228.7l3,4.8l-3,4.8l-3,-4.8zM283.1,228l3,4.8l-3,4.8l-3,-4.8zM365,227.6l3,4.8l-3,4.8l-3,-4.8zM367.4,228.6l3,4.8l-3,4.8l-3,-4.8zM370.8,227.6l3,4.8l-3,4.8l-3,-4.8zM372.9,227.7l3,4.8l-3,4.8l-3,-4.8zM377,227.9l3,4.8l-3,4.8l-3,-4.8zM379.8,228.7l3,4.8l-3,4.8l-3,-4.8zM382.3,227.9l3,4.8l-3,4.8l-3,-4.8zM386,228.3l3,4.8l-3,4.8l-3,-4.8zM266.7,231.5l3,4.8l-3,4.8l-3,-4.8zM269.8,230.9l3,4.8l-3,4.8l-3,-4.8zM272.4,231.5l3,4.8l-3,4.8l-3,-4.8zM276.5,231.4l3,4.8l-3,4.8l-3,-4.8zM279.5,230.6l3,4.8l-3,4.8l-3,-4.8zM281.7,231.2l3,4.8l-3,4.8l-3,-4.8zM285.5,231.7l3,4.8l-3,4.8l-3,-4.8zM287.9,230.9l3,4.8l-3,4.8l-3,-4.8zM290.9,231.2l3,4.8l-3,4.8l-3,-4.8zM294.5,230.8l3,4.8l-3,4.8l-3,-4.8zM297.4,231.5l3,4.8l-3,4.8l-3,-4.8zM351.4,231.5l3,4.8l-3,4.8l-3,-4.8zM354.1,231l3,4.8l-3,4.8l-3,-4.8zM356.8,231l3,4.8l-3,4.8l-3,-4.8zM360.3,230.7l3,4.8l-3,4.8l-3,-4.8zM362.6,231.5l3,4.8l-3,4.8l-3,-4.8zM365.7,230.7l3,4.8l-3,4.8l-3,-4.8zM368.4,231.3l3,4.8l-3,4.8l-3,-4.8zM371.8,231.8l3,4.8l-3,4.8l-3,-4.8zM375.5,231.8l3,4.8l-3,4.8l-3,-4.8zM377.7,230.7l3,4.8l-3,4.8l-3,-4.8zM274,234.2l3,4.8l-3,4.8l-3,-4.8zM277.8,234.1l3,4.8l-3,4.8l-3,-4.8zM280.2,234.1l3,4.8l-3,4.8l-3,-4.8zM283.6,234.4l3,4.8l-3,4.8l-3,-4.8zM286.8,234.6l3,4.8l-3,4.8l-3,-4.8zM289.7,233.7l3,4.8l-3,4.8l-3,-4.8zM292.9,234l3,4.8l-3,4.8l-3,-4.8zM295.6,234l3,4.8l-3,4.8l-3,-4.8zM298.8,233.8l3,4.8l-3,4.8l-3,-4.8zM301.2,233.9l3,4.8l-3,4.8l-3,-4.8zM304.1,234.7l3,4.8l-3,4.8l-3,-4.8zM307.6,234l3,4.8l-3,4.8l-3,-4.8zM310.4,234.8l3,4.8l-3,4.8l-3,-4.8zM313.5,233.9l3,4.8l-3,4.8l-3,-4.8zM316.9,234.4l3,4.8l-3,4.8l-3,-4.8zM320.1,233.7l3,4.8l-3,4.8l-3,-4.8zM322.5,234.6l3,4.8l-3,4.8l-3,-4.8zM325.9,234.7l3,4.8l-3,4.8l-3,-4.8zM327.9,234l3,4.8l-3,4.8l-3,-4.8zM331,233.8l3,4.8l-3,4.8l-3,-4.8zM335.1,234.3l3,4.8l-3,4.8l-3,-4.8zM338,234l3,4.8l-3,4.8l-3,-4.8zM340.9,234.1l3,4.8l-3,4.8l-3,-4.8zM343.2,234.5l3,4.8l-3,4.8l-3,-4.8zM347,233.7l3,4.8l-3,4.8l-3,-4.8zM349.6,234.3l3,4.8l-3,4.8l-3,-4.8zM352.2,234l3,4.8l-3,4.8l-3,-4.8zM355.1,233.8l3,4.8l-3,4.8l-3,-4.8zM358.2,234.3l3,4.8l-3,4.8l-3,-4.8zM361.7,233.8l3,4.8l-3,4.8l-3,-4.8zM363.9,234l3,4.8l-3,4.8l-3,-4.8zM367.7,233.8l3,4.8l-3,4.8l-3,-4.8zM370.3,233.8l3,4.8l-3,4.8l-3,-4.8zM373.9,234.3l3,4.8l-3,4.8l-3,-4.8zM278.5,236.7l3,4.8l-3,4.8l-3,-4.8zM281.9,237.3l3,4.8l-3,4.8l-3,-4.8zM285.2,236.7l3,4.8l-3,4.8l-3,-4.8zM287.6,237.4l3,4.8l-3,4.8l-3,-4.8zM290.9,236.9l3,4.8l-3,4.8l-3,-4.8zM293.8,237.7l3,4.8l-3,4.8l-3,-4.8zM296.8,237.3l3,4.8l-3,4.8l-3,-4.8zM299.8,237.1l3,4.8l-3,4.8l-3,-4.8zM303.4,237.8l3,4.8l-3,4.8l-3,-4.8zM305.8,236.8l3,4.8l-3,4.8l-3,-4.8zM309.3,236.8l3,4.8l-3,4.8l-3,-4.8zM311.4,237.7l3,4.8l-3,4.8l-3,-4.8zM314.9,237.6l3,4.8l-3,4.8l-3,-4.8zM317.9,237.7l3,4.8l-3,4.8l-3,-4.8zM321,236.8l3,4.8l-3,4.8l-3,-4.8zM323.4,237.3l3,4.8l-3,4.8l-3,-4.8zM327.2,237.7l3,4.8l-3,4.8l-3,-4.8zM329.5,237.3l3,4.8l-3,4.8l-3,-4.8zM332.8,237.2l3,4.8l-3,4.8l-3,-4.8zM335.6,236.9l3,4.8l-3,4.8l-3,-4.8zM339,237.7l3,4.8l-3,4.8l-3,-4.8zM341.5,237.2l3,4.8l-3,4.8l-3,-4.8zM345.4,237.8l3,4.8l-3,4.8l-3,-4.8zM347.6,236.8l3,4.8l-3,4.8l-3,-4.8zM351.5,237.8l3,4.8l-3,4.8l-3,-4.8zM354,236.7l3,4.8l-3,4.8l-3,-4.8zM357.5,237.1l3,4.8l-3,4.8l-3,-4.8zM360.5,237.3l3,4.8l-3,4.8l-3,-4.8zM363.4,236.8l3,4.8l-3,4.8l-3,-4.8zM366.3,236.9l3,4.8l-3,4.8l-3,-4.8zM286.4,240.6l3,4.8l-3,4.8l-3,-4.8zM289.9,239.8l3,4.8l-3,4.8l-3,-4.8zM292.2,240.1l3,4.8l-3,4.8l-3,-4.8zM295.5,240.1l3,4.8l-3,4.8l-3,-4.8zM298,239.9l3,4.8l-3,4.8l-3,-4.8zM301.8,240.7l3,4.8l-3,4.8l-3,-4.8zM303.9,240.3l3,4.8l-3,4.8l-3,-4.8zM307.8,239.6l3,4.8l-3,4.8l-3,-4.8zM310.9,239.7l3,4.8l-3,4.8l-3,-4.8zM313.6,240.3l3,4.8l-3,4.8l-3,-4.8zM316.7,240l3,4.8l-3,4.8l-3,-4.8zM319.4,240.3l3,4.8l-3,4.8l-3,-4.8zM322.4,240.4l3,4.8l-3,4.8l-3,-4.8zM325.4,240.1l3,4.8l-3,4.8l-3,-4.8zM327.9,240.3l3,4.8l-3,4.8l-3,-4.8zM331.5,239.9l3,4.8l-3,4.8l-3,-4.8zM334.8,240.5l3,4.8l-3,4.8l-3,-4.8zM337.4,239.8l3,4.8l-3,4.8l-3,-4.8zM340.5,239.7l3,4.8l-3,4.8l-3,-4.8zM343.1,240.1l3,4.8l-3,4.8l-3,-4.8zM346,240.1l3,4.8l-3,4.8l-3,-4.8zM349.5,239.6l3,4.8l-3,4.8l-3,-4.8zM352.7,239.7l3,4.8l-3,4.8l-3,-4.8zM355.8,240.5l3,4.8l-3,4.8l-3,-4.8zM358.5,239.7l3,4.8l-3,4.8l-3,-4.8zM294,243.1l3,4.8l-3,4.8l-3,-4.8zM297.5,242.8l3,4.8l-3,4.8l-3,-4.8zM300.4,243.8l3,4.8l-3,4.8l-3,-4.8zM303.3,243.6l3,4.8l-3,4.8l-3,-4.8zM305.6,243.8l3,4.8l-3,4.8l-3,-4.8zM309,243.7l3,4.8l-3,4.8l-3,-4.8zM312.5,242.8l3,4.8l-3,4.8l-3,-4.8zM315.3,243.7l3,4.8l-3,4.8l-3,-4.8zM317.5,243l3,4.8l-3,4.8l-3,-4.8zM321.3,242.8l3,4.8l-3,4.8l-3,-4.8zM324.5,242.9l3,4.8l-3,4.8l-3,-4.8zM327.4,242.8l3,4.8l-3,4.8l-3,-4.8zM330,243.7l3,4.8l-3,4.8l-3,-4.8zM332.6,242.9l3,4.8l-3,4.8l-3,-4.8zM336,243l3,4.8l-3,4.8l-3,-4.8zM338.4,242.8l3,4.8l-3,4.8l-3,-4.8zM341.6,243.7l3,4.8l-3,4.8l-3,-4.8zM345.2,243.7l3,4.8l-3,4.8l-3,-4.8zM347.6,243.5l3,4.8l-3,4.8l-3,-4.8zM350.5,243.2l3,4.8l-3,4.8l-3,-4.8zM304.7,246l3,4.8l-3,4.8l-3,-4.8zM307.9,246.3l3,4.8l-3,4.8l-3,-4.8zM310.6,246.7l3,4.8l-3,4.8l-3,-4.8zM313,246.8l3,4.8l-3,4.8l-3,-4.8zM316.7,246.1l3,4.8l-3,4.8l-3,-4.8zM319.9,245.9l3,4.8l-3,4.8l-3,-4.8zM323.1,246.3l3,4.8l-3,4.8l-3,-4.8zM325.3,246.5l3,4.8l-3,4.8l-3,-4.8zM328.4,245.8l3,4.8l-3,4.8l-3,-4.8zM331.8,245.7l3,4.8l-3,4.8l-3,-4.8zM334.9,245.9l3,4.8l-3,4.8l-3,-4.8zM337.7,246.8l3,4.8l-3,4.8l-3,-4.8zM198.6,187.9l3,4.8l-3,4.8l-3,-4.8zM182.4,219.6l3,4.8l-3,4.8l-3,-4.8zM173,97.1l3,4.8l-3,4.8l-3,-4.8zM179.1,94.4l3,4.8l-3,4.8l-3,-4.8zM189.2,96.4l3,4.8l-3,4.8l-3,-4.8zM231.4,161.9l3,4.8l-3,4.8l-3,-4.8zM261.5,161.9l3,4.8l-3,4.8l-3,-4.8zM223,187.7l3,4.8l-3,4.8l-3,-4.8zM229.1,207.9l3,4.8l-3,4.8l-3,-4.8zM241.9,208.6l3,4.8l-3,4.8l-3,-4.8zM248,209.3l3,4.8l-3,4.8l-3,-4.8zM250,217l3,4.8l-3,4.8l-3,-4.8zM301.6,108.9l3,4.8l-3,4.8l-3,-4.8zM252.7,124.7l3,4.8l-3,4.8l-3,-4.8zM263.8,122.4l3,4.8l-3,4.8l-3,-4.8zM275.3,118.7l3,4.8l-3,4.8l-3,-4.8zM348.9,231.3l3,4.8l-3,4.8l-3,-4.8zM331.2,234.3l3,4.8l-3,4.8l-3,-4.8zM369.6,229l3,4.8l-3,4.8l-3,-4.8zM376.1,221.9l3,4.8l-3,4.8l-3,-4.8zM380.6,213.6l3,4.8l-3,4.8l-3,-4.8zM399.1,210.9l3,4.8l-3,4.8l-3,-4.8zM406.2,219.1l3,4.8l-3,4.8l-3,-4.8zM387.2,217.3l3,4.8l-3,4.8l-3,-4.8zM344.3,249.7l3,4.8l-3,4.8l-3,-4.8zM348,243.6l3,4.8l-3,4.8l-3,-4.8zM418.8,171.9l3,4.8l-3,4.8l-3,-4.8zM425.6,178.3l3,4.8l-3,4.8l-3,-4.8zM436.7,176.7l3,4.8l-3,4.8l-3,-4.8zM450,144.2l3,4.8l-3,4.8l-3,-4.8zM451.8,151.6l3,4.8l-3,4.8l-3,-4.8zM449.6,168.9l3,4.8l-3,4.8l-3,-4.8zM412.4,217l3,4.8l-3,4.8l-3,-4.8zM390.1,217.7l3,4.8l-3,4.8l-3,-4.8zM461,73.1l3,4.8l-3,4.8l-3,-4.8zM470.5,107.6l3,4.8l-3,4.8l-3,-4.8zM466.5,113l3,4.8l-3,4.8l-3,-4.8zM469.5,117.3l3,4.8l-3,4.8l-3,-4.8zM475.2,116.6l3,4.8l-3,4.8l-3,-4.8zM499.6,166.2l3,4.8l-3,4.8l-3,-4.8zM470.5,85.8l3,4.8l-3,4.8l-3,-4.8zM480,85.8l3,4.8l-3,4.8l-3,-4.8zM120.7,102.4l3,4.8l-3,4.8l-3,-4.8zM254.6,248.6l3,4.8l-3,4.8l-3,-4.8zM238.7,250l3,4.8l-3,4.8l-3,-4.8zM252.2,257l3,4.8l-3,4.8l-3,-4.8zM316.8,242.2l3,4.8l-3,4.8l-3,-4.8zM262.2,222.4l3,4.8l-3,4.8l-3,-4.8zM296.1,241.4l3,4.8l-3,4.8l-3,-4.8zM308.1,241.4l3,4.8l-3,4.8l-3,-4.8zM312.3,242.4l3,4.8l-3,4.8l-3,-4.8zM321.4,242.9l3,4.8l-3,4.8l-3,-4.8zM325.1,241.5l3,4.8l-3,4.8l-3,-4.8zM328.7,242.4l3,4.8l-3,4.8l-3,-4.8zM332.4,242l3,4.8l-3,4.8l-3,-4.8zM336,240.6l3,4.8l-3,4.8l-3,-4.8zM339.6,239.7l3,4.8l-3,4.8l-3,-4.8zM336.1,240.3l3,4.8l-3,4.8l-3,-4.8zM394.3,215.3l3,4.8l-3,4.8l-3,-4.8zM383.5,221.7l3,4.8l-3,4.8l-3,-4.8zM390.2,222.4l3,4.8l-3,4.8l-3,-4.8z" fill="rgb(158,126,33)"/>
</g>
<path d="M198.2,261.4 L200.1,261.4 L202,261.4 L203.9,261.4 L205.7,261.4 L207.6,261.4 L209.5,261.4 L211.3,261.4 L213.2,261.4 L215.1,261.4 L216.9,261.4 L218.8,261.4 L220.7,261.4 L222.5,261.4 L224.4,261.4 L226.3,261.4 L228.1,261.4 L230,261.4 L231.9,261.4 L233.7,261.4 L235.6,261.4 L237.5,261.4 L239.3,261.4 L241.2,261.4 L243.1,261.4 L244.9,261.4 L246.8,261.4 L248.7,261.4 L250.5,261.4 L252.4,261.4 L254.3,261.4 L256.1,261.4 L258,261.4 L259.9,261.4 L261.7,261.4 L263.6,261.4 L265.5,261.4 L267.3,261.4 L269.2,261.4 L271.1,261.4 L272.9,261.4 L274.8,261.4 L276.7,261.4 L278.6,261.4 L280.4,261.4 L282.3,261.4 L284.2,261.4 L286,261.4 L287.9,261.4 L289.8,261.4 L291.6,261.4 L293.5,261.4 L295.4,261.4 L297.2,261.4 L299.1,261.4 L301,261.4 L302.8,261.4 L304.7,261.4 L306.6,261.4 L308.4,261.4 L310.3,261.4 L312.2,261.4 L314,261.4 L315.9,261.4 L317.8,261.4 L319.6,261.4 L321.5,261.4 L323.4,261.4 L325.2,261.4 L327.1,261.4 L329,261.4 L330.8,261.4 L332.7,261.4 L334.6,261.4 L336.4,261.4 L338.3,261.4 L340.2,261.4 L342,261.4 L343.9,261.4 L345.8,261.4 L347.7,261.4 L349.5,261.4 L351.4,261.4 L353.3,261.4 L355.1,261.4 L357,261.4 L358.9,261.4 L360.7,261.4 L362.6,261.4 L364.5,261.4 L366.3,261.4 L368.2,261.4 L370.1,261.4 L371.9,261.4 L373.8,261.4 L375.7,261.4 L377.5,261.4 L379.4,261.4 L381.3,261.4 L383.1,261.4 L385,261.4 L386.9,261.4 L388.7,261.4 L390.6,261.4 L392.5,261.4 L394.3,261.4 L396.2,261.4 L398.1,261.4 L399.9,261.4 L401.8,261.4 L403.7,261.4 L405.5,261.4 L407.4,261.4 L409.3,261.4 L411.1,261.4 L413,261.4 L414.9,261.4 L416.7,261.4 L418.6,261.4 L420.5,261.4 L422.4,261.4M138.9,242.4 L141.8,242.4 L144.7,242.4 L147.5,242.4 L150.4,242.4 L153.2,242.4 L156.1,242.4 L158.9,242.4 L161.8,242.4 L164.6,242.4 L167.5,242.4 L170.4,242.4 L173.2,242.4 L176.1,242.4 L178.9,242.4 L181.8,242.4 L184.6,242.4 L187.5,242.4 L190.3,242.4 L193.2,242.4 L196.1,242.4 L198.9,242.4 L201.8,242.4 L204.6,242.4 L207.5,242.4 L210.3,242.4 L213.2,242.4 L216.1,242.4 L218.9,242.4 L221.8,242.4 L224.6,242.4 L227.5,242.4 L230.3,242.4 L233.2,242.4 L236,242.4 L238.9,242.4 L241.8,242.4 L244.6,242.4 L247.5,242.4 L250.3,242.4 L253.2,242.4 L256,242.4 L258.9,242.4 L261.7,242.4 L264.6,242.4 L267.5,242.4 L270.3,242.4 L273.2,242.4 L276,242.4 L278.9,242.4 L281.7,242.4 L284.6,242.4 L287.5,242.4 L290.3,242.4 L293.2,242.4 L296,242.4 L298.9,242.4 L301.7,242.4 L304.6,242.4 L307.4,242.4 L310.3,242.4 L313.2,242.4 L316,242.4 L318.9,242.4 L321.7,242.4 L324.6,242.4 L327.4,242.4 L330.3,242.4 L333.1,242.4 L336,242.4 L338.9,242.4 L341.7,242.4 L344.6,242.4 L347.4,242.4 L350.3,242.4 L353.1,242.4 L356,242.4 L358.9,242.4 L361.7,242.4 L364.6,242.4 L367.4,242.4 L370.3,242.4 L373.1,242.4 L376,242.4 L378.8,242.4 L381.7,242.4 L384.6,242.4 L387.4,242.4 L390.3,242.4 L393.1,242.4 L396,242.4 L398.8,242.4 L401.7,242.4 L404.5,242.4 L407.4,242.4 L410.3,242.4 L413.1,242.4 L416,242.4 L418.8,242.4 L421.7,242.4 L424.5,242.4 L427.4,242.4 L430.3,242.4 L433.1,242.4 L436,242.4 L438.8,242.4 L441.7,242.4 L444.5,242.4 L447.4,242.4 L450.2,242.4 L453.1,242.4 L456,242.4 L458.8,242.4 L461.7,242.4 L464.5,242.4 L467.4,242.4 L470.2,242.4 L473.1,242.4 L475.9,242.4 L478.8,242.4 L481.7,242.4M96.9,219.9 L100.5,219.9 L104,219.9 L107.6,219.9 L111.1,219.9 L114.7,219.9 L118.2,219.9 L121.8,219.9 L125.3,219.9 L128.9,219.9 L132.5,219.9 L136,219.9 L139.6,219.9 L143.1,219.9 L146.7,219.9 L150.2,219.9 L153.8,219.9 L157.4,219.9 L160.9,219.9 L164.5,219.9 L168,219.9 L171.6,219.9 L175.1,219.9 L178.7,219.9 L182.3,219.9 L185.8,219.9 L189.4,219.9 L192.9,219.9 L196.5,219.9 L200,219.9 L203.6,219.9 L207.2,219.9 L210.7,219.9 L214.3,219.9 L217.8,219.9 L221.4,219.9 L224.9,219.9 L228.5,219.9 L232.1,219.9 L235.6,219.9 L239.2,219.9 L242.7,219.9 L246.3,219.9 L249.8,219.9 L253.4,219.9 L256.9,219.9 L260.5,219.9 L264.1,219.9 L267.6,219.9 L271.2,219.9 L274.7,219.9 L278.3,219.9 L281.8,219.9 L285.4,219.9 L289,219.9 L292.5,219.9 L296.1,219.9 L299.6,219.9 L303.2,219.9 L306.7,219.9 L310.3,219.9 L313.9,219.9 L317.4,219.9 L321,219.9 L324.5,219.9 L328.1,219.9 L331.6,219.9 L335.2,219.9 L338.8,219.9 L342.3,219.9 L345.9,219.9 L349.4,219.9 L353,219.9 L356.5,219.9 L360.1,219.9 L363.7,219.9 L367.2,219.9 L370.8,219.9 L374.3,219.9 L377.9,219.9 L381.4,219.9 L385,219.9 L388.5,219.9 L392.1,219.9 L395.7,219.9 L399.2,219.9 L402.8,219.9 L406.3,219.9 L409.9,219.9 L413.4,219.9 L417,219.9 L420.6,219.9 L424.1,219.9 L427.7,219.9 L431.2,219.9 L434.8,219.9 L438.3,219.9 L441.9,219.9 L445.5,219.9 L449,219.9 L452.6,219.9 L456.1,219.9 L459.7,219.9 L463.2,219.9 L466.8,219.9 L470.4,219.9 L473.9,219.9 L477.5,219.9 L481,219.9 L484.6,219.9 L488.1,219.9 L491.7,219.9 L495.3,219.9 L498.8,219.9 L502.4,219.9 L505.9,219.9 L509.5,219.9 L513,219.9 L516.6,219.9 L520.1,219.9 L523.7,219.9M68.1,195 L72.1,195 L76.1,195 L80.2,195 L84.2,195 L88.3,195 L92.3,195 L96.3,195 L100.4,195 L104.4,195 L108.4,195 L112.5,195 L116.5,195 L120.6,195 L124.6,195 L128.6,195 L132.7,195 L136.7,195 L140.7,195 L144.8,195 L148.8,195 L152.8,195 L156.9,195 L160.9,195 L165,195 L169,195 L173,195 L177.1,195 L181.1,195 L185.1,195 L189.2,195 L193.2,195 L197.3,195 L201.3,195 L205.3,195 L209.4,195 L213.4,195 L217.4,195 L221.5,195 L225.5,195 L229.6,195 L233.6,195 L237.6,195 L241.7,195 L245.7,195 L249.7,195 L253.8,195 L257.8,195 L261.9,195 L265.9,195 L269.9,195 L274,195 L278,195 L282,195 L286.1,195 L290.1,195 L294.2,195 L298.2,195 L302.2,195 L306.3,195 L310.3,195 L314.3,195 L318.4,195 L322.4,195 L326.4,195 L330.5,195 L334.5,195 L338.6,195 L342.6,195 L346.6,195 L350.7,195 L354.7,195 L358.7,195 L362.8,195 L366.8,195 L370.9,195 L374.9,195 L378.9,195 L383,195 L387,195 L391,195 L395.1,195 L399.1,195 L403.2,195 L407.2,195 L411.2,195 L415.3,195 L419.3,195 L423.3,195 L427.4,195 L431.4,195 L435.5,195 L439.5,195 L443.5,195 L447.6,195 L451.6,195 L455.6,195 L459.7,195 L463.7,195 L467.8,195 L471.8,195 L475.8,195 L479.9,195 L483.9,195 L487.9,195 L492,195 L496,195 L500,195 L504.1,195 L508.1,195 L512.2,195 L516.2,195 L520.2,195 L524.3,195 L528.3,195 L532.3,195 L536.4,195 L540.4,195 L544.5,195 L548.5,195 L552.5,195M51.1,168.7 L55.4,168.7 L59.7,168.7 L64.1,168.7 L68.4,168.7 L72.7,168.7 L77,168.7 L81.3,168.7 L85.7,168.7 L90,168.7 L94.3,168.7 L98.6,168.7 L102.9,168.7 L107.3,168.7 L111.6,168.7 L115.9,168.7 L120.2,168.7 L124.5,168.7 L128.9,168.7 L133.2,168.7 L137.5,168.7 L141.8,168.7 L146.1,168.7 L150.5,168.7 L154.8,168.7 L159.1,168.7 L163.4,168.7 L167.7,168.7 L172.1,168.7 L176.4,168.7 L180.7,168.7 L185,168.7 L189.3,168.7 L193.7,168.7 L198,168.7 L202.3,168.7 L206.6,168.7 L210.9,168.7 L215.3,168.7 L219.6,168.7 L223.9,168.7 L228.2,168.7 L232.5,168.7 L236.9,168.7 L241.2,168.7 L245.5,168.7 L249.8,168.7 L254.1,168.7 L258.5,168.7 L262.8,168.7 L267.1,168.7 L271.4,168.7 L275.7,168.7 L280.1,168.7 L284.4,168.7 L288.7,168.7 L293,168.7 L297.3,168.7 L301.7,168.7 L306,168.7 L310.3,168.7 L314.6,168.7 L318.9,168.7 L323.3,168.7 L327.6,168.7 L331.9,168.7 L336.2,168.7 L340.5,168.7 L344.9,168.7 L349.2,168.7 L353.5,168.7 L357.8,168.7 L362.1,168.7 L366.5,168.7 L370.8,168.7 L375.1,168.7 L379.4,168.7 L383.7,168.7 L388.1,168.7 L392.4,168.7 L396.7,168.7 L401,168.7 L405.3,168.7 L409.7,168.7 L414,168.7 L418.3,168.7 L422.6,168.7 L426.9,168.7 L431.3,168.7 L435.6,168.7 L439.9,168.7 L444.2,168.7 L448.5,168.7 L452.9,168.7 L457.2,168.7 L461.5,168.7 L465.8,168.7 L470.1,168.7 L474.5,168.7 L478.8,168.7 L483.1,168.7 L487.4,168.7 L491.7,168.7 L496.1,168.7 L500.4,168.7 L504.7,168.7 L509,168.7 L513.3,168.7 L517.7,168.7 L522,168.7 L526.3,168.7 L530.6,168.7 L534.9,168.7 L539.3,168.7 L543.6,168.7 L547.9,168.7 L552.2,168.7 L556.5,168.7 L560.9,168.7 L565.2,168.7 L569.5,168.7M45.5,141.6 L49.9,141.6 L54.3,141.6 L58.7,141.6 L63.2,141.6 L67.6,141.6 L72,141.6 L76.4,141.6 L80.8,141.6 L85.2,141.6 L89.6,141.6 L94,141.6 L98.5,141.6 L102.9,141.6 L107.3,141.6 L111.7,141.6 L116.1,141.6 L120.5,141.6 L124.9,141.6 L129.4,141.6 L133.8,141.6 L138.2,141.6 L142.6,141.6 L147,141.6 L151.4,141.6 L155.8,141.6 L160.2,141.6 L164.7,141.6 L169.1,141.6 L173.5,141.6 L177.9,141.6 L182.3,141.6 L186.7,141.6 L191.1,141.6 L195.6,141.6 L200,141.6 L204.4,141.6 L208.8,141.6 L213.2,141.6 L217.6,141.6 L222,141.6 L226.4,141.6 L230.9,141.6 L235.3,141.6 L239.7,141.6 L244.1,141.6 L248.5,141.6 L252.9,141.6 L257.3,141.6 L261.8,141.6 L266.2,141.6 L270.6,141.6 L275,141.6 L279.4,141.6 L283.8,141.6 L288.2,141.6 L292.6,141.6 L297.1,141.6 L301.5,141.6 L305.9,141.6 L310.3,141.6 L314.7,141.6 L319.1,141.6 L323.5,141.6 L328,141.6 L332.4,141.6 L336.8,141.6 L341.2,141.6 L345.6,141.6 L350,141.6 L354.4,141.6 L358.8,141.6 L363.3,141.6 L367.7,141.6 L372.1,141.6 L376.5,141.6 L380.9,141.6 L385.3,141.6 L389.7,141.6 L394.2,141.6 L398.6,141.6 L403,141.6 L407.4,141.6 L411.8,141.6 L416.2,141.6 L420.6,141.6 L425,141.6 L429.5,141.6 L433.9,141.6 L438.3,141.6 L442.7,141.6 L447.1,141.6 L451.5,141.6 L455.9,141.6 L460.4,141.6 L464.8,141.6 L469.2,141.6 L473.6,141.6 L478,141.6 L482.4,141.6 L486.8,141.6 L491.2,141.6 L495.7,141.6 L500.1,141.6 L504.5,141.6 L508.9,141.6 L513.3,141.6 L517.7,141.6 L522.1,141.6 L526.6,141.6 L531,141.6 L535.4,141.6 L539.8,141.6 L544.2,141.6 L548.6,141.6 L553,141.6 L557.4,141.6 L561.9,141.6 L566.3,141.6 L570.7,141.6 L575.1,141.6M51.1,114.5 L55.4,114.5 L59.7,114.5 L64.1,114.5 L68.4,114.5 L72.7,114.5 L77,114.5 L81.3,114.5 L85.7,114.5 L90,114.5 L94.3,114.5 L98.6,114.5 L102.9,114.5 L107.3,114.5 L111.6,114.5 L115.9,114.5 L120.2,114.5 L124.5,114.5 L128.9,114.5 L133.2,114.5 L137.5,114.5 L141.8,114.5 L146.1,114.5 L150.5,114.5 L154.8,114.5 L159.1,114.5 L163.4,114.5 L167.7,114.5 L172.1,114.5 L176.4,114.5 L180.7,114.5 L185,114.5 L189.3,114.5 L193.7,114.5 L198,114.5 L202.3,114.5 L206.6,114.5 L210.9,114.5 L215.3,114.5 L219.6,114.5 L223.9,114.5 L228.2,114.5 L232.5,114.5 L236.9,114.5 L241.2,114.5 L245.5,114.5 L249.8,114.5 L254.1,114.5 L258.5,114.5 L262.8,114.5 L267.1,114.5 L271.4,114.5 L275.7,114.5 L280.1,114.5 L284.4,114.5 L288.7,114.5 L293,114.5 L297.3,114.5 L301.7,114.5 L306,114.5 L310.3,114.5 L314.6,114.5 L318.9,114.5 L323.3,114.5 L327.6,114.5 L331.9,114.5 L336.2,114.5 L340.5,114.5 L344.9,114.5 L349.2,114.5 L353.5,114.5 L357.8,114.5 L362.1,114.5 L366.5,114.5 L370.8,114.5 L375.1,114.5 L379.4,114.5 L383.7,114.5 L388.1,114.5 L392.4,114.5 L396.7,114.5 L401,114.5 L405.3,114.5 L409.7,114.5 L414,114.5 L418.3,114.5 L422.6,114.5 L426.9,114.5 L431.3,114.5 L435.6,114.5 L439.9,114.5 L444.2,114.5 L448.5,114.5 L452.9,114.5 L457.2,114.5 L461.5,114.5 L465.8,114.5 L470.1,114.5 L474.5,114.5 L478.8,114.5 L483.1,114.5 L487.4,114.5 L491.7,114.5 L496.1,114.5 L500.4,114.5 L504.7,114.5 L509,114.5 L513.3,114.5 L517.7,114.5 L522,114.5 L526.3,114.5 L530.6,114.5 L534.9,114.5 L539.3,114.5 L543.6,114.5 L547.9,114.5 L552.2,114.5 L556.5,114.5 L560.9,114.5 L565.2,114.5 L569.5,114.5M68.1,88.2 L72.1,88.2 L76.1,88.2 L80.2,88.2 L84.2,88.2 L88.3,88.2 L92.3,88.2 L96.3,88.2 L100.4,88.2 L104.4,88.2 L108.4,88.2 L112.5,88.2 L116.5,88.2 L120.6,88.2 L124.6,88.2 L128.6,88.2 L132.7,88.2 L136.7,88.2 L140.7,88.2 L144.8,88.2 L148.8,88.2 L152.8,88.2 L156.9,88.2 L160.9,88.2 L165,88.2 L169,88.2 L173,88.2 L177.1,88.2 L181.1,88.2 L185.1,88.2 L189.2,88.2 L193.2,88.2 L197.3,88.2 L201.3,88.2 L205.3,88.2 L209.4,88.2 L213.4,88.2 L217.4,88.2 L221.5,88.2 L225.5,88.2 L229.6,88.2 L233.6,88.2 L237.6,88.2 L241.7,88.2 L245.7,88.2 L249.7,88.2 L253.8,88.2 L257.8,88.2 L261.9,88.2 L265.9,88.2 L269.9,88.2 L274,88.2 L278,88.2 L282,88.2 L286.1,88.2 L290.1,88.2 L294.2,88.2 L298.2,88.2 L302.2,88.2 L306.3,88.2 L310.3,88.2 L314.3,88.2 L318.4,88.2 L322.4,88.2 L326.4,88.2 L330.5,88.2 L334.5,88.2 L338.6,88.2 L342.6,88.2 L346.6,88.2 L350.7,88.2 L354.7,88.2 L358.7,88.2 L362.8,88.2 L366.8,88.2 L370.9,88.2 L374.9,88.2 L378.9,88.2 L383,88.2 L387,88.2 L391,88.2 L395.1,88.2 L399.1,88.2 L403.2,88.2 L407.2,88.2 L411.2,88.2 L415.3,88.2 L419.3,88.2 L423.3,88.2 L427.4,88.2 L431.4,88.2 L435.5,88.2 L439.5,88.2 L443.5,88.2 L447.6,88.2 L451.6,88.2 L455.6,88.2 L459.7,88.2 L463.7,88.2 L467.8,88.2 L471.8,88.2 L475.8,88.2 L479.9,88.2 L483.9,88.2 L487.9,88.2 L492,88.2 L496,88.2 L500,88.2 L504.1,88.2 L508.1,88.2 L512.2,88.2 L516.2,88.2 L520.2,88.2 L524.3,88.2 L528.3,88.2 L532.3,88.2 L536.4,88.2 L540.4,88.2 L544.5,88.2 L548.5,88.2 L552.5,88.2M96.9,63.3 L100.5,63.3 L104,63.3 L107.6,63.3 L111.1,63.3 L114.7,63.3 L118.2,63.3 L121.8,63.3 L125.3,63.3 L128.9,63.3 L132.5,63.3 L136,63.3 L139.6,63.3 L143.1,63.3 L146.7,63.3 L150.2,63.3 L153.8,63.3 L157.4,63.3 L160.9,63.3 L164.5,63.3 L168,63.3 L171.6,63.3 L175.1,63.3 L178.7,63.3 L182.3,63.3 L185.8,63.3 L189.4,63.3 L192.9,63.3 L196.5,63.3 L200,63.3 L203.6,63.3 L207.2,63.3 L210.7,63.3 L214.3,63.3 L217.8,63.3 L221.4,63.3 L224.9,63.3 L228.5,63.3 L232.1,63.3 L235.6,63.3 L239.2,63.3 L242.7,63.3 L246.3,63.3 L249.8,63.3 L253.4,63.3 L256.9,63.3 L260.5,63.3 L264.1,63.3 L267.6,63.3 L271.2,63.3 L274.7,63.3 L278.3,63.3 L281.8,63.3 L285.4,63.3 L289,63.3 L292.5,63.3 L296.1,63.3 L299.6,63.3 L303.2,63.3 L306.7,63.3 L310.3,63.3 L313.9,63.3 L317.4,63.3 L321,63.3 L324.5,63.3 L328.1,63.3 L331.6,63.3 L335.2,63.3 L338.8,63.3 L342.3,63.3 L345.9,63.3 L349.4,63.3 L353,63.3 L356.5,63.3 L360.1,63.3 L363.7,63.3 L367.2,63.3 L370.8,63.3 L374.3,63.3 L377.9,63.3 L381.4,63.3 L385,63.3 L388.5,63.3 L392.1,63.3 L395.7,63.3 L399.2,63.3 L402.8,63.3 L406.3,63.3 L409.9,63.3 L413.4,63.3 L417,63.3 L420.6,63.3 L424.1,63.3 L427.7,63.3 L431.2,63.3 L434.8,63.3 L438.3,63.3 L441.9,63.3 L445.5,63.3 L449,63.3 L452.6,63.3 L456.1,63.3 L459.7,63.3 L463.2,63.3 L466.8,63.3 L470.4,63.3 L473.9,63.3 L477.5,63.3 L481,63.3 L484.6,63.3 L488.1,63.3 L491.7,63.3 L495.3,63.3 L498.8,63.3 L502.4,63.3 L505.9,63.3 L509.5,63.3 L513,63.3 L516.6,63.3 L520.1,63.3 L523.7,63.3M138.9,40.8 L141.8,40.8 L144.7,40.8 L147.5,40.8 L150.4,40.8 L153.2,40.8 L156.1,40.8 L158.9,40.8 L161.8,40.8 L164.6,40.8 L167.5,40.8 L170.4,40.8 L173.2,40.8 L176.1,40.8 L178.9,40.8 L181.8,40.8 L184.6,40.8 L187.5,40.8 L190.3,40.8 L193.2,40.8 L196.1,40.8 L198.9,40.8 L201.8,40.8 L204.6,40.8 L207.5,40.8 L210.3,40.8 L213.2,40.8 L216.1,40.8 L218.9,40.8 L221.8,40.8 L224.6,40.8 L227.5,40.8 L230.3,40.8 L233.2,40.8 L236,40.8 L238.9,40.8 L241.8,40.8 L244.6,40.8 L247.5,40.8 L250.3,40.8 L253.2,40.8 L256,40.8 L258.9,40.8 L261.7,40.8 L264.6,40.8 L267.5,40.8 L270.3,40.8 L273.2,40.8 L276,40.8 L278.9,40.8 L281.7,40.8 L284.6,40.8 L287.5,40.8 L290.3,40.8 L293.2,40.8 L296,40.8 L298.9,40.8 L301.7,40.8 L304.6,40.8 L307.4,40.8 L310.3,40.8 L313.2,40.8 L316,40.8 L318.9,40.8 L321.7,40.8 L324.6,40.8 L327.4,40.8 L330.3,40.8 L333.1,40.8 L336,40.8 L338.9,40.8 L341.7,40.8 L344.6,40.8 L347.4,40.8 L350.3,40.8 L353.1,40.8 L356,40.8 L358.9,40.8 L361.7,40.8 L364.6,40.8 L367.4,40.8 L370.3,40.8 L373.1,40.8 L376,40.8 L378.8,40.8 L381.7,40.8 L384.6,40.8 L387.4,40.8 L390.3,40.8 L393.1,40.8 L396,40.8 L398.8,40.8 L401.7,40.8 L404.5,40.8 L407.4,40.8 L410.3,40.8 L413.1,40.8 L416,40.8 L418.8,40.8 L421.7,40.8 L424.5,40.8 L427.4,40.8 L430.3,40.8 L433.1,40.8 L436,40.8 L438.8,40.8 L441.7,40.8 L444.5,40.8 L447.4,40.8 L450.2,40.8 L453.1,40.8 L456,40.8 L458.8,40.8 L461.7,40.8 L464.5,40.8 L467.4,40.8 L470.2,40.8 L473.1,40.8 L475.9,40.8 L478.8,40.8 L481.7,40.8M198.2,21.8 L200.1,21.8 L202,21.8 L203.9,21.8 L205.7,21.8 L207.6,21.8 L209.5,21.8 L211.3,21.8 L213.2,21.8 L215.1,21.8 L216.9,21.8 L218.8,21.8 L220.7,21.8 L222.5,21.8 L224.4,21.8 L226.3,21.8 L228.1,21.8 L230,21.8 L231.9,21.8 L233.7,21.8 L235.6,21.8 L237.5,21.8 L239.3,21.8 L241.2,21.8 L243.1,21.8 L244.9,21.8 L246.8,21.8 L248.7,21.8 L250.5,21.8 L252.4,21.8 L254.3,21.8 L256.1,21.8 L258,21.8 L259.9,21.8 L261.7,21.8 L263.6,21.8 L265.5,21.8 L267.3,21.8 L269.2,21.8 L271.1,21.8 L272.9,21.8 L274.8,21.8 L276.7,21.8 L278.6,21.8 L280.4,21.8 L282.3,21.8 L284.2,21.8 L286,21.8 L287.9,21.8 L289.8,21.8 L291.6,21.8 L293.5,21.8 L295.4,21.8 L297.2,21.8 L299.1,21.8 L301,21.8 L302.8,21.8 L304.7,21.8 L306.6,21.8 L308.4,21.8 L310.3,21.8 L312.2,21.8 L314,21.8 L315.9,21.8 L317.8,21.8 L319.6,21.8 L321.5,21.8 L323.4,21.8 L325.2,21.8 L327.1,21.8 L329,21.8 L330.8,21.8 L332.7,21.8 L334.6,21.8 L336.4,21.8 L338.3,21.8 L340.2,21.8 L342,21.8 L343.9,21.8 L345.8,21.8 L347.7,21.8 L349.5,21.8 L351.4,21.8 L353.3,21.8 L355.1,21.8 L357,21.8 L358.9,21.8 L360.7,21.8 L362.6,21.8 L364.5,21.8 L366.3,21.8 L368.2,21.8 L370.1,21.8 L371.9,21.8 L373.8,21.8 L375.7,21.8 L377.5,21.8 L379.4,21.8 L381.3,21.8 L383.1,21.8 L385,21.8 L386.9,21.8 L388.7,21.8 L390.6,21.8 L392.5,21.8 L394.3,21.8 L396.2,21.8 L398.1,21.8 L399.9,21.8 L401.8,21.8 L403.7,21.8 L405.5,21.8 L407.4,21.8 L409.3,21.8 L411.1,21.8 L413,21.8 L414.9,21.8 L416.7,21.8 L418.6,21.8 L420.5,21.8 L422.4,21.8M216.9,261.4 L211.1,259.7 L205.5,257.9 L200.2,256.2 L195,254.3 L190,252.4 L185.2,250.5 L180.5,248.5 L176,246.5 L171.7,244.5 L167.5,242.4 L163.4,240.3 L159.5,238.1 L155.7,235.9 L152,233.7 L148.5,231.5 L145.1,229.2 L141.7,226.9 L138.5,224.6 L135.4,222.2 L132.5,219.9 L129.6,217.5 L126.8,215.1 L124.2,212.6 L121.6,210.2 L119.2,207.7 L116.8,205.2 L114.6,202.7 L112.4,200.1 L110.4,197.6 L108.4,195 L106.6,192.4 L104.8,189.8 L103.2,187.2 L101.6,184.6 L100.2,182 L98.8,179.3 L97.5,176.7 L96.4,174 L95.3,171.3 L94.3,168.7 L93.4,166 L92.6,163.3 L91.9,160.6 L91.3,157.9 L90.8,155.2 L90.4,152.5 L90.1,149.8 L89.8,147 L89.7,144.3 L89.6,141.6 L89.7,138.9 L89.8,136.2 L90.1,133.4 L90.4,130.7 L90.8,128 L91.3,125.3 L91.9,122.6 L92.6,119.9 L93.4,117.2 L94.3,114.5 L95.3,111.9 L96.4,109.2 L97.5,106.5 L98.8,103.9 L100.2,101.2 L101.6,98.6 L103.2,96 L104.8,93.4 L106.6,90.8 L108.4,88.2 L110.4,85.6 L112.4,83.1 L114.6,80.5 L116.8,78 L119.2,75.5 L121.6,73 L124.2,70.6 L126.8,68.1 L129.6,65.7 L132.5,63.3 L135.4,61 L138.5,58.6 L141.7,56.3 L145.1,54 L148.5,51.7 L152,49.5 L155.7,47.3 L159.5,45.1 L163.4,42.9 L167.5,40.8 L171.7,38.7 L176,36.7 L180.5,34.7 L185.2,32.7 L190,30.8 L195,28.9 L200.2,27 L205.5,25.3 L211.1,23.5 L216.9,21.8M235.6,261.4 L230.9,259.7 L226.5,257.9 L222.2,256.2 L218,254.3 L214.1,252.4 L210.2,250.5 L206.5,248.5 L202.9,246.5 L199.4,244.5 L196.1,242.4 L192.8,240.3 L189.7,238.1 L186.6,235.9 L183.7,233.7 L180.8,231.5 L178.1,229.2 L175.4,226.9 L172.9,224.6 L170.4,222.2 L168,219.9 L165.7,217.5 L163.5,215.1 L161.4,212.6 L159.4,210.2 L157.4,207.7 L155.5,205.2 L153.7,202.7 L152,200.1 L150.4,197.6 L148.8,195 L147.3,192.4 L145.9,189.8 L144.6,187.2 L143.4,184.6 L142.2,182 L141.1,179.3 L140.1,176.7 L139.2,174 L138.3,171.3 L137.5,168.7 L136.8,166 L136.2,163.3 L135.6,160.6 L135.1,157.9 L134.7,155.2 L134.4,152.5 L134.1,149.8 L133.9,147 L133.8,144.3 L133.8,141.6 L133.8,138.9 L133.9,136.2 L134.1,133.4 L134.4,130.7 L134.7,128 L135.1,125.3 L135.6,122.6 L136.2,119.9 L136.8,117.2 L137.5,114.5 L138.3,111.9 L139.2,109.2 L140.1,106.5 L141.1,103.9 L142.2,101.2 L143.4,98.6 L144.6,96 L145.9,93.4 L147.3,90.8 L148.8,88.2 L150.4,85.6 L152,83.1 L153.7,80.5 L155.5,78 L157.4,75.5 L159.4,73 L161.4,70.6 L163.5,68.1 L165.7,65.7 L168,63.3 L170.4,61 L172.9,58.6 L175.4,56.3 L178.1,54 L180.8,51.7 L183.7,49.5 L186.6,47.3 L189.7,45.1 L192.8,42.9 L196.1,40.8 L199.4,38.7 L202.9,36.7 L206.5,34.7 L210.2,32.7 L214.1,30.8 L218,28.9 L222.2,27 L226.5,25.3 L230.9,23.5 L235.6,21.8M254.3,261.4 L250.8,259.7 L247.4,257.9 L244.2,256.2 L241.1,254.3 L238.1,252.4 L235.2,250.5 L232.4,248.5 L229.7,246.5 L227.1,244.5 L224.6,242.4 L222.2,240.3 L219.8,238.1 L217.5,235.9 L215.3,233.7 L213.2,231.5 L211.2,229.2 L209.2,226.9 L207.2,224.6 L205.4,222.2 L203.6,219.9 L201.9,217.5 L200.2,215.1 L198.6,212.6 L197.1,210.2 L195.6,207.7 L194.2,205.2 L192.9,202.7 L191.6,200.1 L190.4,197.6 L189.2,195 L188.1,192.4 L187,189.8 L186,187.2 L185.1,184.6 L184.2,182 L183.4,179.3 L182.6,176.7 L181.9,174 L181.3,171.3 L180.7,168.7 L180.2,166 L179.7,163.3 L179.3,160.6 L178.9,157.9 L178.6,155.2 L178.3,152.5 L178.2,149.8 L178,147 L177.9,144.3 L177.9,141.6 L177.9,138.9 L178,136.2 L178.2,133.4 L178.3,130.7 L178.6,128 L178.9,125.3 L179.3,122.6 L179.7,119.9 L180.2,117.2 L180.7,114.5 L181.3,111.9 L181.9,109.2 L182.6,106.5 L183.4,103.9 L184.2,101.2 L185.1,98.6 L186,96 L187,93.4 L188.1,90.8 L189.2,88.2 L190.4,85.6 L191.6,83.1 L192.9,80.5 L194.2,78 L195.6,75.5 L197.1,73 L198.6,70.6 L200.2,68.1 L201.9,65.7 L203.6,63.3 L205.4,61 L207.2,58.6 L209.2,56.3 L211.2,54 L213.2,51.7 L215.3,49.5 L217.5,47.3 L219.8,45.1 L222.2,42.9 L224.6,40.8 L227.1,38.7 L229.7,36.7 L232.4,34.7 L235.2,32.7 L238.1,30.8 L241.1,28.9 L244.2,27 L247.4,25.3 L250.8,23.5 L254.3,21.8M272.9,261.4 L270.6,259.7 L268.4,257.9 L266.2,256.2 L264.2,254.3 L262.2,252.4 L260.3,250.5 L258.4,248.5 L256.6,246.5 L254.9,244.5 L253.2,242.4 L251.6,240.3 L250,238.1 L248.5,235.9 L247,233.7 L245.6,231.5 L244.2,229.2 L242.9,226.9 L241.6,224.6 L240.4,222.2 L239.2,219.9 L238,217.5 L236.9,215.1 L235.8,212.6 L234.8,210.2 L233.8,207.7 L232.9,205.2 L232,202.7 L231.2,200.1 L230.3,197.6 L229.6,195 L228.8,192.4 L228.1,189.8 L227.5,187.2 L226.8,184.6 L226.2,182 L225.7,179.3 L225.2,176.7 L224.7,174 L224.3,171.3 L223.9,168.7 L223.5,166 L223.2,163.3 L222.9,160.6 L222.7,157.9 L222.5,155.2 L222.3,152.5 L222.2,149.8 L222.1,147 L222.1,144.3 L222,141.6 L222.1,138.9 L222.1,136.2 L222.2,133.4 L222.3,130.7 L222.5,128 L222.7,125.3 L222.9,122.6 L223.2,119.9 L223.5,117.2 L223.9,114.5 L224.3,111.9 L224.7,109.2 L225.2,106.5 L225.7,103.9 L226.2,101.2 L226.8,98.6 L227.5,96 L228.1,93.4 L228.8,90.8 L229.6,88.2 L230.3,85.6 L231.2,83.1 L232,80.5 L232.9,78 L233.8,75.5 L234.8,73 L235.8,70.6 L236.9,68.1 L238,65.7 L239.2,63.3 L240.4,61 L241.6,58.6 L242.9,56.3 L244.2,54 L245.6,51.7 L247,49.5 L248.5,47.3 L250,45.1 L251.6,42.9 L253.2,40.8 L254.9,38.7 L256.6,36.7 L258.4,34.7 L260.3,32.7 L262.2,30.8 L264.2,28.9 L266.2,27 L268.4,25.3 L270.6,23.5 L272.9,21.8M291.6,261.4 L290.5,259.7 L289.3,257.9 L288.3,256.2 L287.2,254.3 L286.2,252.4 L285.3,250.5 L284.3,248.5 L283.4,246.5 L282.6,244.5 L281.7,242.4 L280.9,240.3 L280.1,238.1 L279.4,235.9 L278.6,233.7 L277.9,231.5 L277.3,229.2 L276.6,226.9 L275.9,224.6 L275.3,222.2 L274.7,219.9 L274.2,217.5 L273.6,215.1 L273.1,212.6 L272.6,210.2 L272.1,207.7 L271.6,205.2 L271.2,202.7 L270.7,200.1 L270.3,197.6 L269.9,195 L269.6,192.4 L269.2,189.8 L268.9,187.2 L268.6,184.6 L268.3,182 L268,179.3 L267.7,176.7 L267.5,174 L267.3,171.3 L267.1,168.7 L266.9,166 L266.8,163.3 L266.6,160.6 L266.5,157.9 L266.4,155.2 L266.3,152.5 L266.3,149.8 L266.2,147 L266.2,144.3 L266.2,141.6 L266.2,138.9 L266.2,136.2 L266.3,133.4 L266.3,130.7 L266.4,128 L266.5,125.3 L266.6,122.6 L266.8,119.9 L266.9,117.2 L267.1,114.5 L267.3,111.9 L267.5,109.2 L267.7,106.5 L268,103.9 L268.3,101.2 L268.6,98.6 L268.9,96 L269.2,93.4 L269.6,90.8 L269.9,88.2 L270.3,85.6 L270.7,83.1 L271.2,80.5 L271.6,78 L272.1,75.5 L272.6,73 L273.1,70.6 L273.6,68.1 L274.2,65.7 L274.7,63.3 L275.3,61 L275.9,58.6 L276.6,56.3 L277.3,54 L277.9,51.7 L278.6,49.5 L279.4,47.3 L280.1,45.1 L280.9,42.9 L281.7,40.8 L282.6,38.7 L283.4,36.7 L284.3,34.7 L285.3,32.7 L286.2,30.8 L287.2,28.9 L288.3,27 L289.3,25.3 L290.5,23.5 L291.6,21.8M310.3,261.4 L310.3,259.7 L310.3,257.9 L310.3,256.2 L310.3,254.3 L310.3,252.4 L310.3,250.5 L310.3,248.5 L310.3,246.5 L310.3,244.5 L310.3,242.4 L310.3,240.3 L310.3,238.1 L310.3,235.9 L310.3,233.7 L310.3,231.5 L310.3,229.2 L310.3,226.9 L310.3,224.6 L310.3,222.2 L310.3,219.9 L310.3,217.5 L310.3,215.1 L310.3,212.6 L310.3,210.2 L310.3,207.7 L310.3,205.2 L310.3,202.7 L310.3,200.1 L310.3,197.6 L310.3,195 L310.3,192.4 L310.3,189.8 L310.3,187.2 L310.3,184.6 L310.3,182 L310.3,179.3 L310.3,176.7 L310.3,174 L310.3,171.3 L310.3,168.7 L310.3,166 L310.3,163.3 L310.3,160.6 L310.3,157.9 L310.3,155.2 L310.3,152.5 L310.3,149.8 L310.3,147 L310.3,144.3 L310.3,141.6 L310.3,138.9 L310.3,136.2 L310.3,133.4 L310.3,130.7 L310.3,128 L310.3,125.3 L310.3,122.6 L310.3,119.9 L310.3,117.2 L310.3,114.5 L310.3,111.9 L310.3,109.2 L310.3,106.5 L310.3,103.9 L310.3,101.2 L310.3,98.6 L310.3,96 L310.3,93.4 L310.3,90.8 L310.3,88.2 L310.3,85.6 L310.3,83.1 L310.3,80.5 L310.3,78 L310.3,75.5 L310.3,73 L310.3,70.6 L310.3,68.1 L310.3,65.7 L310.3,63.3 L310.3,61 L310.3,58.6 L310.3,56.3 L310.3,54 L310.3,51.7 L310.3,49.5 L310.3,47.3 L310.3,45.1 L310.3,42.9 L310.3,40.8 L310.3,38.7 L310.3,36.7 L310.3,34.7 L310.3,32.7 L310.3,30.8 L310.3,28.9 L310.3,27 L310.3,25.3 L310.3,23.5 L310.3,21.8M329,261.4 L330.1,259.7 L331.3,257.9 L332.3,256.2 L333.4,254.3 L334.4,252.4 L335.3,250.5 L336.3,248.5 L337.2,246.5 L338,244.5 L338.9,242.4 L339.7,240.3 L340.5,238.1 L341.2,235.9 L342,233.7 L342.7,231.5 L343.3,229.2 L344,226.9 L344.7,224.6 L345.3,222.2 L345.9,219.9 L346.4,217.5 L347,215.1 L347.5,212.6 L348,210.2 L348.5,207.7 L349,205.2 L349.4,202.7 L349.9,200.1 L350.3,197.6 L350.7,195 L351,192.4 L351.4,189.8 L351.7,187.2 L352,184.6 L352.3,182 L352.6,179.3 L352.9,176.7 L353.1,174 L353.3,171.3 L353.5,168.7 L353.7,166 L353.8,163.3 L354,160.6 L354.1,157.9 L354.2,155.2 L354.3,152.5 L354.3,149.8 L354.4,147 L354.4,144.3 L354.4,141.6 L354.4,138.9 L354.4,136.2 L354.3,133.4 L354.3,130.7 L354.2,128 L354.1,125.3 L354,122.6 L353.8,119.9 L353.7,117.2 L353.5,114.5 L353.3,111.9 L353.1,109.2 L352.9,106.5 L352.6,103.9 L352.3,101.2 L352,98.6 L351.7,96 L351.4,93.4 L351,90.8 L350.7,88.2 L350.3,85.6 L349.9,83.1 L349.4,80.5 L349,78 L348.5,75.5 L348,73 L347.5,70.6 L347,68.1 L346.4,65.7 L345.9,63.3 L345.3,61 L344.7,58.6 L344,56.3 L343.3,54 L342.7,51.7 L342,49.5 L341.2,47.3 L340.5,45.1 L339.7,42.9 L338.9,40.8 L338,38.7 L337.2,36.7 L336.3,34.7 L335.3,32.7 L334.4,30.8 L333.4,28.9 L332.3,27 L331.3,25.3 L330.1,23.5 L329,21.8M347.7,261.4 L350,259.7 L352.2,257.9 L354.4,256.2 L356.4,254.3 L358.4,252.4 L360.3,250.5 L362.2,248.5 L364,246.5 L365.7,244.5 L367.4,242.4 L369,240.3 L370.6,238.1 L372.1,235.9 L373.6,233.7 L375,231.5 L376.4,229.2 L377.7,226.9 L379,224.6 L380.2,222.2 L381.4,219.9 L382.6,217.5 L383.7,215.1 L384.8,212.6 L385.8,210.2 L386.8,207.7 L387.7,205.2 L388.6,202.7 L389.4,200.1 L390.3,197.6 L391,195 L391.8,192.4 L392.5,189.8 L393.1,187.2 L393.8,184.6 L394.4,182 L394.9,179.3 L395.4,176.7 L395.9,174 L396.3,171.3 L396.7,168.7 L397.1,166 L397.4,163.3 L397.7,160.6 L397.9,157.9 L398.1,155.2 L398.3,152.5 L398.4,149.8 L398.5,147 L398.5,144.3 L398.6,141.6 L398.5,138.9 L398.5,136.2 L398.4,133.4 L398.3,130.7 L398.1,128 L397.9,125.3 L397.7,122.6 L397.4,119.9 L397.1,117.2 L396.7,114.5 L396.3,111.9 L395.9,109.2 L395.4,106.5 L394.9,103.9 L394.4,101.2 L393.8,98.6 L393.1,96 L392.5,93.4 L391.8,90.8 L391,88.2 L390.3,85.6 L389.4,83.1 L388.6,80.5 L387.7,78 L386.8,75.5 L385.8,73 L384.8,70.6 L383.7,68.1 L382.6,65.7 L381.4,63.3 L380.2,61 L379,58.6 L377.7,56.3 L376.4,54 L375,51.7 L373.6,49.5 L372.1,47.3 L370.6,45.1 L369,42.9 L367.4,40.8 L365.7,38.7 L364,36.7 L362.2,34.7 L360.3,32.7 L358.4,30.8 L356.4,28.9 L354.4,27 L352.2,25.3 L350,23.5 L347.7,21.8M366.3,261.4 L369.8,259.7 L373.2,257.9 L376.4,256.2 L379.5,254.3 L382.5,252.4 L385.4,250.5 L388.2,248.5 L390.9,246.5 L393.5,244.5 L396,242.4 L398.4,240.3 L400.8,238.1 L403.1,235.9 L405.3,233.7 L407.4,231.5 L409.4,229.2 L411.4,226.9 L413.4,224.6 L415.2,222.2 L417,219.9 L418.7,217.5 L420.4,215.1 L422,212.6 L423.5,210.2 L425,207.7 L426.4,205.2 L427.7,202.7 L429,200.1 L430.2,197.6 L431.4,195 L432.5,192.4 L433.6,189.8 L434.6,187.2 L435.5,184.6 L436.4,182 L437.2,179.3 L438,176.7 L438.7,174 L439.3,171.3 L439.9,168.7 L440.4,166 L440.9,163.3 L441.3,160.6 L441.7,157.9 L442,155.2 L442.3,152.5 L442.4,149.8 L442.6,147 L442.7,144.3 L442.7,141.6 L442.7,138.9 L442.6,136.2 L442.4,133.4 L442.3,130.7 L442,128 L441.7,125.3 L441.3,122.6 L440.9,119.9 L440.4,117.2 L439.9,114.5 L439.3,111.9 L438.7,109.2 L438,106.5 L437.2,103.9 L436.4,101.2 L435.5,98.6 L434.6,96 L433.6,93.4 L432.5,90.8 L431.4,88.2 L430.2,85.6 L429,83.1 L427.7,80.5 L426.4,78 L425,75.5 L423.5,73 L422,70.6 L420.4,68.1 L418.7,65.7 L417,63.3 L415.2,61 L413.4,58.6 L411.4,56.3 L409.4,54 L407.4,51.7 L405.3,49.5 L403.1,47.3 L400.8,45.1 L398.4,42.9 L396,40.8 L393.5,38.7 L390.9,36.7 L388.2,34.7 L385.4,32.7 L382.5,30.8 L379.5,28.9 L376.4,27 L373.2,25.3 L369.8,23.5 L366.3,21.8M385,261.4 L389.7,259.7 L394.1,257.9 L398.4,256.2 L402.6,254.3 L406.5,252.4 L410.4,250.5 L414.1,248.5 L417.7,246.5 L421.2,244.5 L424.5,242.4 L427.8,240.3 L430.9,238.1 L434,235.9 L436.9,233.7 L439.8,231.5 L442.5,229.2 L445.2,226.9 L447.7,224.6 L450.2,222.2 L452.6,219.9 L454.9,217.5 L457.1,215.1 L459.2,212.6 L461.2,210.2 L463.2,207.7 L465.1,205.2 L466.9,202.7 L468.6,200.1 L470.2,197.6 L471.8,195 L473.3,192.4 L474.7,189.8 L476,187.2 L477.2,184.6 L478.4,182 L479.5,179.3 L480.5,176.7 L481.4,174 L482.3,171.3 L483.1,168.7 L483.8,166 L484.4,163.3 L485,160.6 L485.5,157.9 L485.9,155.2 L486.2,152.5 L486.5,149.8 L486.7,147 L486.8,144.3 L486.8,141.6 L486.8,138.9 L486.7,136.2 L486.5,133.4 L486.2,130.7 L485.9,128 L485.5,125.3 L485,122.6 L484.4,119.9 L483.8,117.2 L483.1,114.5 L482.3,111.9 L481.4,109.2 L480.5,106.5 L479.5,103.9 L478.4,101.2 L477.2,98.6 L476,96 L474.7,93.4 L473.3,90.8 L471.8,88.2 L470.2,85.6 L468.6,83.1 L466.9,80.5 L465.1,78 L463.2,75.5 L461.2,73 L459.2,70.6 L457.1,68.1 L454.9,65.7 L452.6,63.3 L450.2,61 L447.7,58.6 L445.2,56.3 L442.5,54 L439.8,51.7 L436.9,49.5 L434,47.3 L430.9,45.1 L427.8,42.9 L424.5,40.8 L421.2,38.7 L417.7,36.7 L414.1,34.7 L410.4,32.7 L406.5,30.8 L402.6,28.9 L398.4,27 L394.1,25.3 L389.7,23.5 L385,21.8M403.7,261.4 L409.5,259.7 L415.1,257.9 L420.4,256.2 L425.6,254.3 L430.6,252.4 L435.4,250.5 L440.1,248.5 L444.6,246.5 L448.9,244.5 L453.1,242.4 L457.2,240.3 L461.1,238.1 L464.9,235.9 L468.6,233.7 L472.1,231.5 L475.5,229.2 L478.9,226.9 L482.1,224.6 L485.2,222.2 L488.1,219.9 L491,217.5 L493.8,215.1 L496.4,212.6 L499,210.2 L501.4,207.7 L503.8,205.2 L506,202.7 L508.2,200.1 L510.2,197.6 L512.2,195 L514,192.4 L515.8,189.8 L517.4,187.2 L519,184.6 L520.4,182 L521.8,179.3 L523.1,176.7 L524.2,174 L525.3,171.3 L526.3,168.7 L527.2,166 L528,163.3 L528.7,160.6 L529.3,157.9 L529.8,155.2 L530.2,152.5 L530.5,149.8 L530.8,147 L530.9,144.3 L531,141.6 L530.9,138.9 L530.8,136.2 L530.5,133.4 L530.2,130.7 L529.8,128 L529.3,125.3 L528.7,122.6 L528,119.9 L527.2,117.2 L526.3,114.5 L525.3,111.9 L524.2,109.2 L523.1,106.5 L521.8,103.9 L520.4,101.2 L519,98.6 L517.4,96 L515.8,93.4 L514,90.8 L512.2,88.2 L510.2,85.6 L508.2,83.1 L506,80.5 L503.8,78 L501.4,75.5 L499,73 L496.4,70.6 L493.8,68.1 L491,65.7 L488.1,63.3 L485.2,61 L482.1,58.6 L478.9,56.3 L475.5,54 L472.1,51.7 L468.6,49.5 L464.9,47.3 L461.1,45.1 L457.2,42.9 L453.1,40.8 L448.9,38.7 L444.6,36.7 L440.1,34.7 L435.4,32.7 L430.6,30.8 L425.6,28.9 L420.4,27 L415.1,25.3 L409.5,23.5 L403.7,21.8" stroke="#b0b0b0" stroke-opacity="0.7" stroke-width="0.9" fill="none"/>
<path d="M88,69.8 L90.5,69.8 L92.9,69.8 L95.4,69.8 L97.9,69.8 L100.3,69.8 L102.8,69.8 L105.3,69.8 L107.8,69.8 L110.2,69.8 L112.7,69.8 L115.2,69.8 L117.6,69.8 L120.1,69.8 L122.6,69.8 L125,69.8 L127.5,69.8 L130,69.8 L132.5,69.8 L134.9,69.8 L137.4,69.8 L139.9,69.8 L142.3,69.8 L144.8,69.8 L147.3,69.8 L149.7,69.8 L152.2,69.8 L154.7,69.8 L157.2,69.8 L159.6,69.8 L162.1,69.8 L164.6,69.8 L167,69.8 L169.5,69.8 L172,69.8 L174.4,69.8 L176.9,69.8 L179.4,69.8 L181.9,69.8 L184.3,69.8 L186.8,69.8 L189.3,69.8 L191.7,69.8 L194.2,69.8 L196.7,69.8 L199.1,69.8 L201.6,69.8 L204.1,69.8 L206.6,69.8 L209,69.8 L211.5,69.8 L214,69.8 L216.4,69.8 L218.9,69.8 L221.4,69.8 L223.8,69.8 L226.3,69.8 L228.8,69.8 L231.3,69.8 L233.7,69.8 L236.2,69.8 L238.7,69.8 L241.1,69.8 L243.6,69.8 L246.1,69.8 L248.5,69.8 L251,69.8 L253.5,69.8 L256,69.8 L258.4,69.8 L260.9,69.8 L263.4,69.8 L265.8,69.8 L268.3,69.8 L270.8,69.8 L273.2,69.8 L275.7,69.8 L278.2,69.8 L280.7,69.8 L283.1,69.8 L285.6,69.8 L288.1,69.8 L290.5,69.8 L293,69.8 L295.5,69.8 L297.9,69.8 L300.4,69.8 L302.9,69.8 L305.4,69.8 L307.8,69.8 L310.3,69.8 L312.8,69.8 L315.2,69.8 L317.7,69.8 L320.2,69.8 L322.7,69.8 L325.1,69.8 L327.6,69.8 L330.1,69.8 L332.5,69.8 L335,69.8 L337.5,69.8 L339.9,69.8 L342.4,69.8 L344.9,69.8 L347.4,69.8 L349.8,69.8 L352.3,69.8 L354.8,69.8 L357.2,69.8 L359.7,69.8 L362.2,69.8 L364.6,69.8 L367.1,69.8 L369.6,69.8 L372.1,69.8 L374.5,69.8 L377,69.8 L379.5,69.8 L381.9,69.8 L384.4,69.8 L386.9,69.8 L389.3,69.8 L391.8,69.8 L394.3,69.8 L396.8,69.8 L399.2,69.8 L401.7,69.8 L404.2,69.8 L406.6,69.8 L409.1,69.8 L411.6,69.8 L414,69.8 L416.5,69.8 L419,69.8 L421.5,69.8 L423.9,69.8 L426.4,69.8 L428.9,69.8 L431.3,69.8 L433.8,69.8 L436.3,69.8 L438.7,69.8 L441.2,69.8 L443.7,69.8 L446.2,69.8 L448.6,69.8 L451.1,69.8 L453.6,69.8 L456,69.8 L458.5,69.8 L461,69.8 L463.4,69.8 L465.9,69.8 L468.4,69.8 L470.9,69.8 L473.3,69.8 L475.8,69.8 L478.3,69.8 L480.7,69.8 L483.2,69.8 L485.7,69.8 L488.1,69.8 L490.6,69.8 L493.1,69.8 L495.6,69.8 L498,69.8 L500.5,69.8 L503,69.8 L505.4,69.8 L507.9,69.8 L510.4,69.8 L512.8,69.8 L515.3,69.8 L517.8,69.8 L520.3,69.8 L522.7,69.8 L525.2,69.8 L527.7,69.8 L530.1,69.8 L532.6,69.8" stroke="#000" stroke-width="1.6" stroke-dasharray="4.6 2.5" fill="none"/>
<g font-family="Liberation Serif" font-size="14.3" fill="none" stroke="#fff" stroke-width="3.2" stroke-linejoin="round"><text x="89.6" y="135.6" text-anchor="middle">2<tspan font-size="10" dy="-5.6">h</tspan></text><text x="133.8" y="135.6" text-anchor="middle">4<tspan font-size="10" dy="-5.6">h</tspan></text><text x="177.9" y="135.6" text-anchor="middle">6<tspan font-size="10" dy="-5.6">h</tspan></text><text x="222" y="135.6" text-anchor="middle">8<tspan font-size="10" dy="-5.6">h</tspan></text><text x="266.2" y="135.6" text-anchor="middle">10<tspan font-size="10" dy="-5.6">h</tspan></text><text x="310.3" y="135.6" text-anchor="middle">12<tspan font-size="10" dy="-5.6">h</tspan></text><text x="354.4" y="135.6" text-anchor="middle">14<tspan font-size="10" dy="-5.6">h</tspan></text><text x="398.6" y="135.6" text-anchor="middle">16<tspan font-size="10" dy="-5.6">h</tspan></text><text x="442.7" y="135.6" text-anchor="middle">18<tspan font-size="10" dy="-5.6">h</tspan></text><text x="486.8" y="135.6" text-anchor="middle">20<tspan font-size="10" dy="-5.6">h</tspan></text><text x="531" y="135.6" text-anchor="middle">22<tspan font-size="10" dy="-5.6">h</tspan></text></g>
<path d="M198.6,187.5 L199.8,191.1 L203.6,191.2 L200.6,193.5 L201.7,197.1 L198.6,194.9 L195.5,197.1 L196.6,193.5 L193.6,191.2 L197.4,191.1ZM182.4,219.2 L183.6,222.8 L187.4,222.9 L184.4,225.2 L185.5,228.8 L182.4,226.6 L179.3,228.8 L180.4,225.2 L177.4,222.9 L181.2,222.8ZM173,96.7 L174.2,100.3 L178,100.4 L175,102.7 L176.1,106.3 L173,104.1 L169.9,106.3 L171,102.7 L168,100.4 L171.8,100.3ZM179.1,94 L180.3,97.6 L184.1,97.7 L181.1,100 L182.2,103.6 L179.1,101.4 L176,103.6 L177.1,100 L174.1,97.7 L177.9,97.6ZM189.2,96 L190.4,99.6 L194.2,99.7 L191.2,102 L192.3,105.6 L189.2,103.4 L186.1,105.6 L187.2,102 L184.2,99.7 L188,99.6ZM231.4,161.5 L232.6,165.1 L236.4,165.2 L233.4,167.5 L234.5,171.1 L231.4,168.9 L228.3,171.1 L229.4,167.5 L226.4,165.2 L230.2,165.1ZM261.5,161.5 L262.7,165.1 L266.5,165.2 L263.5,167.5 L264.6,171.1 L261.5,168.9 L258.4,171.1 L259.5,167.5 L256.5,165.2 L260.3,165.1ZM223,187.3 L224.2,190.9 L228,191 L225,193.3 L226.1,196.9 L223,194.7 L219.9,196.9 L221,193.3 L218,191 L221.8,190.9ZM229.1,207.5 L230.3,211.1 L234.1,211.2 L231.1,213.5 L232.2,217.1 L229.1,214.9 L226,217.1 L227.1,213.5 L224.1,211.2 L227.9,211.1ZM241.9,208.2 L243.1,211.8 L246.9,211.9 L243.9,214.2 L245,217.8 L241.9,215.6 L238.8,217.8 L239.9,214.2 L236.9,211.9 L240.7,211.8ZM248,208.9 L249.2,212.5 L253,212.6 L250,214.9 L251.1,218.5 L248,216.3 L244.9,218.5 L246,214.9 L243,212.6 L246.8,212.5ZM250,216.6 L251.2,220.2 L255,220.3 L252,222.6 L253.1,226.2 L250,224 L246.9,226.2 L248,222.6 L245,220.3 L248.8,220.2ZM301.6,108.5 L302.8,112.1 L306.6,112.2 L303.6,114.5 L304.7,118.1 L301.6,115.9 L298.5,118.1 L299.6,114.5 L296.6,112.2 L300.4,112.1ZM252.7,124.3 L253.9,127.9 L257.7,128 L254.7,130.3 L255.8,133.9 L252.7,131.7 L249.6,133.9 L250.7,130.3 L247.7,128 L251.5,127.9ZM263.8,122 L265,125.6 L268.8,125.7 L265.8,128 L266.9,131.6 L263.8,129.4 L260.7,131.6 L261.8,128 L258.8,125.7 L262.6,125.6ZM275.3,118.3 L276.5,121.9 L280.3,122 L277.3,124.3 L278.4,127.9 L275.3,125.7 L272.2,127.9 L273.3,124.3 L270.3,122 L274.1,121.9ZM348.9,230.9 L350.1,234.5 L353.9,234.6 L350.9,236.9 L352,240.5 L348.9,238.3 L345.8,240.5 L346.9,236.9 L343.9,234.6 L347.7,234.5ZM331.2,233.9 L332.4,237.5 L336.2,237.6 L333.2,239.9 L334.3,243.5 L331.2,241.3 L328.1,243.5 L329.2,239.9 L326.2,237.6 L330,237.5ZM369.6,228.6 L370.8,232.2 L374.6,232.3 L371.6,234.6 L372.7,238.2 L369.6,236 L366.5,238.2 L367.6,234.6 L364.6,232.3 L368.4,232.2ZM376.1,221.5 L377.3,225.1 L381.1,225.2 L378.1,227.5 L379.2,231.1 L376.1,228.9 L373,231.1 L374.1,227.5 L371.1,225.2 L374.9,225.1ZM380.6,213.2 L381.8,216.8 L385.6,216.9 L382.6,219.2 L383.7,222.8 L380.6,220.6 L377.5,222.8 L378.6,219.2 L375.6,216.9 L379.4,216.8ZM399.1,210.5 L400.3,214.1 L404.1,214.2 L401.1,216.5 L402.2,220.1 L399.1,217.9 L396,220.1 L397.1,216.5 L394.1,214.2 L397.9,214.1ZM406.2,218.7 L407.4,222.3 L411.2,222.4 L408.2,224.7 L409.3,228.3 L406.2,226.1 L403.1,228.3 L404.2,224.7 L401.2,222.4 L405,222.3ZM387.2,216.9 L388.4,220.5 L392.2,220.6 L389.2,222.9 L390.3,226.5 L387.2,224.3 L384.1,226.5 L385.2,222.9 L382.2,220.6 L386,220.5ZM344.3,249.3 L345.5,252.9 L349.3,253 L346.3,255.3 L347.4,258.9 L344.3,256.7 L341.2,258.9 L342.3,255.3 L339.3,253 L343.1,252.9ZM348,243.2 L349.2,246.8 L353,246.9 L350,249.2 L351.1,252.8 L348,250.6 L344.9,252.8 L346,249.2 L343,246.9 L346.8,246.8ZM418.8,171.5 L420,175.1 L423.8,175.2 L420.8,177.5 L421.9,181.1 L418.8,178.9 L415.7,181.1 L416.8,177.5 L413.8,175.2 L417.6,175.1ZM425.6,177.9 L426.8,181.5 L430.6,181.6 L427.6,183.9 L428.7,187.5 L425.6,185.3 L422.5,187.5 L423.6,183.9 L420.6,181.6 L424.4,181.5ZM436.7,176.3 L437.9,179.9 L441.7,180 L438.7,182.3 L439.8,185.9 L436.7,183.7 L433.6,185.9 L434.7,182.3 L431.7,180 L435.5,179.9ZM450,143.8 L451.2,147.4 L455,147.5 L452,149.8 L453.1,153.4 L450,151.2 L446.9,153.4 L448,149.8 L445,147.5 L448.8,147.4ZM451.8,151.2 L453,154.8 L456.8,154.9 L453.8,157.2 L454.9,160.8 L451.8,158.6 L448.7,160.8 L449.8,157.2 L446.8,154.9 L450.6,154.8ZM449.6,168.5 L450.8,172.1 L454.6,172.2 L451.6,174.5 L452.7,178.1 L449.6,175.9 L446.5,178.1 L447.6,174.5 L444.6,172.2 L448.4,172.1ZM412.4,216.6 L413.6,220.2 L417.4,220.3 L414.4,222.6 L415.5,226.2 L412.4,224 L409.3,226.2 L410.4,222.6 L407.4,220.3 L411.2,220.2ZM390.1,217.3 L391.3,220.9 L395.1,221 L392.1,223.3 L393.2,226.9 L390.1,224.7 L387,226.9 L388.1,223.3 L385.1,221 L388.9,220.9ZM461,72.7 L462.2,76.3 L466,76.4 L463,78.7 L464.1,82.3 L461,80.1 L457.9,82.3 L459,78.7 L456,76.4 L459.8,76.3ZM470.5,107.2 L471.7,110.8 L475.5,110.9 L472.5,113.2 L473.6,116.8 L470.5,114.6 L467.4,116.8 L468.5,113.2 L465.5,110.9 L469.3,110.8ZM466.5,112.6 L467.7,116.2 L471.5,116.3 L468.5,118.6 L469.6,122.2 L466.5,120 L463.4,122.2 L464.5,118.6 L461.5,116.3 L465.3,116.2ZM469.5,116.9 L470.7,120.5 L474.5,120.6 L471.5,122.9 L472.6,126.5 L469.5,124.3 L466.4,126.5 L467.5,122.9 L464.5,120.6 L468.3,120.5ZM475.2,116.2 L476.4,119.8 L480.2,119.9 L477.2,122.2 L478.3,125.8 L475.2,123.6 L472.1,125.8 L473.2,122.2 L470.2,119.9 L474,119.8ZM499.6,165.8 L500.8,169.4 L504.6,169.5 L501.6,171.8 L502.7,175.4 L499.6,173.2 L496.5,175.4 L497.6,171.8 L494.6,169.5 L498.4,169.4ZM470.5,85.4 L471.7,89 L475.5,89.1 L472.5,91.4 L473.6,95 L470.5,92.8 L467.4,95 L468.5,91.4 L465.5,89.1 L469.3,89ZM480,85.4 L481.2,89 L485,89.1 L482,91.4 L483.1,95 L480,92.8 L476.9,95 L478,91.4 L475,89.1 L478.8,89ZM120.7,102 L121.9,105.6 L125.7,105.7 L122.7,108 L123.8,111.6 L120.7,109.4 L117.6,111.6 L118.7,108 L115.7,105.7 L119.5,105.6ZM254.6,248.2 L255.8,251.8 L259.6,251.9 L256.6,254.2 L257.7,257.8 L254.6,255.6 L251.5,257.8 L252.6,254.2 L249.6,251.9 L253.4,251.8ZM238.7,249.6 L239.9,253.2 L243.7,253.3 L240.7,255.6 L241.8,259.2 L238.7,257 L235.6,259.2 L236.7,255.6 L233.7,253.3 L237.5,253.2ZM252.2,256.6 L253.4,260.2 L257.2,260.3 L254.2,262.6 L255.3,266.2 L252.2,264 L249.1,266.2 L250.2,262.6 L247.2,260.3 L251,260.2ZM316.8,241.8 L318,245.4 L321.8,245.5 L318.8,247.8 L319.9,251.4 L316.8,249.2 L313.7,251.4 L314.8,247.8 L311.8,245.5 L315.6,245.4ZM262.2,222 L263.4,225.6 L267.2,225.7 L264.2,228 L265.3,231.6 L262.2,229.4 L259.1,231.6 L260.2,228 L257.2,225.7 L261,225.6ZM296.1,241 L297.3,244.6 L301.1,244.7 L298.1,247 L299.2,250.6 L296.1,248.4 L293,250.6 L294.1,247 L291.1,244.7 L294.9,244.6ZM308.1,241 L309.3,244.6 L313.1,244.7 L310.1,247 L311.2,250.6 L308.1,248.4 L305,250.6 L306.1,247 L303.1,244.7 L306.9,244.6ZM312.3,242 L313.5,245.6 L317.3,245.7 L314.3,248 L315.4,251.6 L312.3,249.4 L309.2,251.6 L310.3,248 L307.3,245.7 L311.1,245.6ZM321.4,242.5 L322.6,246.1 L326.4,246.2 L323.4,248.5 L324.5,252.1 L321.4,249.9 L318.3,252.1 L319.4,248.5 L316.4,246.2 L320.2,246.1ZM325.1,241.1 L326.3,244.7 L330.1,244.8 L327.1,247.1 L328.2,250.7 L325.1,248.5 L322,250.7 L323.1,247.1 L320.1,244.8 L323.9,244.7ZM328.7,242 L329.9,245.6 L333.7,245.7 L330.7,248 L331.8,251.6 L328.7,249.4 L325.6,251.6 L326.7,248 L323.7,245.7 L327.5,245.6ZM332.4,241.6 L333.6,245.2 L337.4,245.3 L334.4,247.6 L335.5,251.2 L332.4,249 L329.3,251.2 L330.4,247.6 L327.4,245.3 L331.2,245.2ZM336,240.2 L337.2,243.8 L341,243.9 L338,246.2 L339.1,249.8 L336,247.6 L332.9,249.8 L334,246.2 L331,243.9 L334.8,243.8ZM339.6,239.3 L340.8,242.9 L344.6,243 L341.6,245.3 L342.7,248.9 L339.6,246.7 L336.5,248.9 L337.6,245.3 L334.6,243 L338.4,242.9ZM336.1,239.9 L337.3,243.5 L341.1,243.6 L338.1,245.9 L339.2,249.5 L336.1,247.3 L333,249.5 L334.1,245.9 L331.1,243.6 L334.9,243.5ZM394.3,214.9 L395.5,218.5 L399.3,218.6 L396.3,220.9 L397.4,224.5 L394.3,222.3 L391.2,224.5 L392.3,220.9 L389.3,218.6 L393.1,218.5ZM383.5,221.3 L384.7,224.9 L388.5,225 L385.5,227.3 L386.6,230.9 L383.5,228.7 L380.4,230.9 L381.5,227.3 L378.5,225 L382.3,224.9ZM390.2,222 L391.4,225.6 L395.2,225.7 L392.2,228 L393.3,231.6 L390.2,229.4 L387.1,231.6 L388.2,228 L385.2,225.7 L389,225.6Z" fill="#1f77b4"/>
<path d="M198.6,187.5 L199.8,191.1 L203.6,191.2 L200.6,193.5 L201.7,197.1 L198.6,194.9 L195.5,197.1 L196.6,193.5 L193.6,191.2 L197.4,191.1ZM182.4,219.2 L183.6,222.8 L187.4,222.9 L184.4,225.2 L185.5,228.8 L182.4,226.6 L179.3,228.8 L180.4,225.2 L177.4,222.9 L181.2,222.8ZM173,96.7 L174.2,100.3 L178,100.4 L175,102.7 L176.1,106.3 L173,104.1 L169.9,106.3 L171,102.7 L168,100.4 L171.8,100.3ZM179.1,94 L180.3,97.6 L184.1,97.7 L181.1,100 L182.2,103.6 L179.1,101.4 L176,103.6 L177.1,100 L174.1,97.7 L177.9,97.6ZM189.2,96 L190.4,99.6 L194.2,99.7 L191.2,102 L192.3,105.6 L189.2,103.4 L186.1,105.6 L187.2,102 L184.2,99.7 L188,99.6ZM231.4,161.5 L232.6,165.1 L236.4,165.2 L233.4,167.5 L234.5,171.1 L231.4,168.9 L228.3,171.1 L229.4,167.5 L226.4,165.2 L230.2,165.1ZM261.5,161.5 L262.7,165.1 L266.5,165.2 L263.5,167.5 L264.6,171.1 L261.5,168.9 L258.4,171.1 L259.5,167.5 L256.5,165.2 L260.3,165.1ZM223,187.3 L224.2,190.9 L228,191 L225,193.3 L226.1,196.9 L223,194.7 L219.9,196.9 L221,193.3 L218,191 L221.8,190.9ZM229.1,207.5 L230.3,211.1 L234.1,211.2 L231.1,213.5 L232.2,217.1 L229.1,214.9 L226,217.1 L227.1,213.5 L224.1,211.2 L227.9,211.1ZM241.9,208.2 L243.1,211.8 L246.9,211.9 L243.9,214.2 L245,217.8 L241.9,215.6 L238.8,217.8 L239.9,214.2 L236.9,211.9 L240.7,211.8ZM248,208.9 L249.2,212.5 L253,212.6 L250,214.9 L251.1,218.5 L248,216.3 L244.9,218.5 L246,214.9 L243,212.6 L246.8,212.5ZM250,216.6 L251.2,220.2 L255,220.3 L252,222.6 L253.1,226.2 L250,224 L246.9,226.2 L248,222.6 L245,220.3 L248.8,220.2ZM301.6,108.5 L302.8,112.1 L306.6,112.2 L303.6,114.5 L304.7,118.1 L301.6,115.9 L298.5,118.1 L299.6,114.5 L296.6,112.2 L300.4,112.1ZM252.7,124.3 L253.9,127.9 L257.7,128 L254.7,130.3 L255.8,133.9 L252.7,131.7 L249.6,133.9 L250.7,130.3 L247.7,128 L251.5,127.9ZM263.8,122 L265,125.6 L268.8,125.7 L265.8,128 L266.9,131.6 L263.8,129.4 L260.7,131.6 L261.8,128 L258.8,125.7 L262.6,125.6ZM275.3,118.3 L276.5,121.9 L280.3,122 L277.3,124.3 L278.4,127.9 L275.3,125.7 L272.2,127.9 L273.3,124.3 L270.3,122 L274.1,121.9ZM348.9,230.9 L350.1,234.5 L353.9,234.6 L350.9,236.9 L352,240.5 L348.9,238.3 L345.8,240.5 L346.9,236.9 L343.9,234.6 L347.7,234.5ZM331.2,233.9 L332.4,237.5 L336.2,237.6 L333.2,239.9 L334.3,243.5 L331.2,241.3 L328.1,243.5 L329.2,239.9 L326.2,237.6 L330,237.5ZM369.6,228.6 L370.8,232.2 L374.6,232.3 L371.6,234.6 L372.7,238.2 L369.6,236 L366.5,238.2 L367.6,234.6 L364.6,232.3 L368.4,232.2ZM376.1,221.5 L377.3,225.1 L381.1,225.2 L378.1,227.5 L379.2,231.1 L376.1,228.9 L373,231.1 L374.1,227.5 L371.1,225.2 L374.9,225.1ZM380.6,213.2 L381.8,216.8 L385.6,216.9 L382.6,219.2 L383.7,222.8 L380.6,220.6 L377.5,222.8 L378.6,219.2 L375.6,216.9 L379.4,216.8ZM399.1,210.5 L400.3,214.1 L404.1,214.2 L401.1,216.5 L402.2,220.1 L399.1,217.9 L396,220.1 L397.1,216.5 L394.1,214.2 L397.9,214.1ZM406.2,218.7 L407.4,222.3 L411.2,222.4 L408.2,224.7 L409.3,228.3 L406.2,226.1 L403.1,228.3 L404.2,224.7 L401.2,222.4 L405,222.3ZM387.2,216.9 L388.4,220.5 L392.2,220.6 L389.2,222.9 L390.3,226.5 L387.2,224.3 L384.1,226.5 L385.2,222.9 L382.2,220.6 L386,220.5ZM344.3,249.3 L345.5,252.9 L349.3,253 L346.3,255.3 L347.4,258.9 L344.3,256.7 L341.2,258.9 L342.3,255.3 L339.3,253 L343.1,252.9ZM348,243.2 L349.2,246.8 L353,246.9 L350,249.2 L351.1,252.8 L348,250.6 L344.9,252.8 L346,249.2 L343,246.9 L346.8,246.8ZM418.8,171.5 L420,175.1 L423.8,175.2 L420.8,177.5 L421.9,181.1 L418.8,178.9 L415.7,181.1 L416.8,177.5 L413.8,175.2 L417.6,175.1ZM425.6,177.9 L426.8,181.5 L430.6,181.6 L427.6,183.9 L428.7,187.5 L425.6,185.3 L422.5,187.5 L423.6,183.9 L420.6,181.6 L424.4,181.5ZM436.7,176.3 L437.9,179.9 L441.7,180 L438.7,182.3 L439.8,185.9 L436.7,183.7 L433.6,185.9 L434.7,182.3 L431.7,180 L435.5,179.9ZM450,143.8 L451.2,147.4 L455,147.5 L452,149.8 L453.1,153.4 L450,151.2 L446.9,153.4 L448,149.8 L445,147.5 L448.8,147.4ZM451.8,151.2 L453,154.8 L456.8,154.9 L453.8,157.2 L454.9,160.8 L451.8,158.6 L448.7,160.8 L449.8,157.2 L446.8,154.9 L450.6,154.8ZM449.6,168.5 L450.8,172.1 L454.6,172.2 L451.6,174.5 L452.7,178.1 L449.6,175.9 L446.5,178.1 L447.6,174.5 L444.6,172.2 L448.4,172.1ZM412.4,216.6 L413.6,220.2 L417.4,220.3 L414.4,222.6 L415.5,226.2 L412.4,224 L409.3,226.2 L410.4,222.6 L407.4,220.3 L411.2,220.2ZM390.1,217.3 L391.3,220.9 L395.1,221 L392.1,223.3 L393.2,226.9 L390.1,224.7 L387,226.9 L388.1,223.3 L385.1,221 L388.9,220.9ZM461,72.7 L462.2,76.3 L466,76.4 L463,78.7 L464.1,82.3 L461,80.1 L457.9,82.3 L459,78.7 L456,76.4 L459.8,76.3ZM470.5,107.2 L471.7,110.8 L475.5,110.9 L472.5,113.2 L473.6,116.8 L470.5,114.6 L467.4,116.8 L468.5,113.2 L465.5,110.9 L469.3,110.8ZM466.5,112.6 L467.7,116.2 L471.5,116.3 L468.5,118.6 L469.6,122.2 L466.5,120 L463.4,122.2 L464.5,118.6 L461.5,116.3 L465.3,116.2ZM469.5,116.9 L470.7,120.5 L474.5,120.6 L471.5,122.9 L472.6,126.5 L469.5,124.3 L466.4,126.5 L467.5,122.9 L464.5,120.6 L468.3,120.5ZM475.2,116.2 L476.4,119.8 L480.2,119.9 L477.2,122.2 L478.3,125.8 L475.2,123.6 L472.1,125.8 L473.2,122.2 L470.2,119.9 L474,119.8ZM499.6,165.8 L500.8,169.4 L504.6,169.5 L501.6,171.8 L502.7,175.4 L499.6,173.2 L496.5,175.4 L497.6,171.8 L494.6,169.5 L498.4,169.4ZM470.5,85.4 L471.7,89 L475.5,89.1 L472.5,91.4 L473.6,95 L470.5,92.8 L467.4,95 L468.5,91.4 L465.5,89.1 L469.3,89ZM480,85.4 L481.2,89 L485,89.1 L482,91.4 L483.1,95 L480,92.8 L476.9,95 L478,91.4 L475,89.1 L478.8,89ZM120.7,102 L121.9,105.6 L125.7,105.7 L122.7,108 L123.8,111.6 L120.7,109.4 L117.6,111.6 L118.7,108 L115.7,105.7 L119.5,105.6ZM254.6,248.2 L255.8,251.8 L259.6,251.9 L256.6,254.2 L257.7,257.8 L254.6,255.6 L251.5,257.8 L252.6,254.2 L249.6,251.9 L253.4,251.8ZM238.7,249.6 L239.9,253.2 L243.7,253.3 L240.7,255.6 L241.8,259.2 L238.7,257 L235.6,259.2 L236.7,255.6 L233.7,253.3 L237.5,253.2ZM252.2,256.6 L253.4,260.2 L257.2,260.3 L254.2,262.6 L255.3,266.2 L252.2,264 L249.1,266.2 L250.2,262.6 L247.2,260.3 L251,260.2ZM316.8,241.8 L318,245.4 L321.8,245.5 L318.8,247.8 L319.9,251.4 L316.8,249.2 L313.7,251.4 L314.8,247.8 L311.8,245.5 L315.6,245.4ZM262.2,222 L263.4,225.6 L267.2,225.7 L264.2,228 L265.3,231.6 L262.2,229.4 L259.1,231.6 L260.2,228 L257.2,225.7 L261,225.6ZM296.1,241 L297.3,244.6 L301.1,244.7 L298.1,247 L299.2,250.6 L296.1,248.4 L293,250.6 L294.1,247 L291.1,244.7 L294.9,244.6ZM308.1,241 L309.3,244.6 L313.1,244.7 L310.1,247 L311.2,250.6 L308.1,248.4 L305,250.6 L306.1,247 L303.1,244.7 L306.9,244.6ZM312.3,242 L313.5,245.6 L317.3,245.7 L314.3,248 L315.4,251.6 L312.3,249.4 L309.2,251.6 L310.3,248 L307.3,245.7 L311.1,245.6ZM321.4,242.5 L322.6,246.1 L326.4,246.2 L323.4,248.5 L324.5,252.1 L321.4,249.9 L318.3,252.1 L319.4,248.5 L316.4,246.2 L320.2,246.1ZM325.1,241.1 L326.3,244.7 L330.1,244.8 L327.1,247.1 L328.2,250.7 L325.1,248.5 L322,250.7 L323.1,247.1 L320.1,244.8 L323.9,244.7ZM328.7,242 L329.9,245.6 L333.7,245.7 L330.7,248 L331.8,251.6 L328.7,249.4 L325.6,251.6 L326.7,248 L323.7,245.7 L327.5,245.6ZM332.4,241.6 L333.6,245.2 L337.4,245.3 L334.4,247.6 L335.5,251.2 L332.4,249 L329.3,251.2 L330.4,247.6 L327.4,245.3 L331.2,245.2ZM336,240.2 L337.2,243.8 L341,243.9 L338,246.2 L339.1,249.8 L336,247.6 L332.9,249.8 L334,246.2 L331,243.9 L334.8,243.8ZM339.6,239.3 L340.8,242.9 L344.6,243 L341.6,245.3 L342.7,248.9 L339.6,246.7 L336.5,248.9 L337.6,245.3 L334.6,243 L338.4,242.9ZM336.1,239.9 L337.3,243.5 L341.1,243.6 L338.1,245.9 L339.2,249.5 L336.1,247.3 L333,249.5 L334.1,245.9 L331.1,243.6 L334.9,243.5ZM394.3,214.9 L395.5,218.5 L399.3,218.6 L396.3,220.9 L397.4,224.5 L394.3,222.3 L391.2,224.5 L392.3,220.9 L389.3,218.6 L393.1,218.5ZM383.5,221.3 L384.7,224.9 L388.5,225 L385.5,227.3 L386.6,230.9 L383.5,228.7 L380.4,230.9 L381.5,227.3 L378.5,225 L382.3,224.9ZM390.2,222 L391.4,225.6 L395.2,225.7 L392.2,228 L393.3,231.6 L390.2,229.4 L387.1,231.6 L388.2,228 L385.2,225.7 L389,225.6Z" fill="rgb(20,110,128)" clip-path="url(#bc)"/>
</g>
<g font-family="Liberation Serif" fill="#000">
<g font-size="14.3"><text x="89.6" y="135.6" text-anchor="middle">2<tspan font-size="10" dy="-5.6">h</tspan></text><text x="133.8" y="135.6" text-anchor="middle">4<tspan font-size="10" dy="-5.6">h</tspan></text><text x="177.9" y="135.6" text-anchor="middle">6<tspan font-size="10" dy="-5.6">h</tspan></text><text x="222" y="135.6" text-anchor="middle">8<tspan font-size="10" dy="-5.6">h</tspan></text><text x="266.2" y="135.6" text-anchor="middle">10<tspan font-size="10" dy="-5.6">h</tspan></text><text x="310.3" y="135.6" text-anchor="middle">12<tspan font-size="10" dy="-5.6">h</tspan></text><text x="354.4" y="135.6" text-anchor="middle">14<tspan font-size="10" dy="-5.6">h</tspan></text><text x="398.6" y="135.6" text-anchor="middle">16<tspan font-size="10" dy="-5.6">h</tspan></text><text x="442.7" y="135.6" text-anchor="middle">18<tspan font-size="10" dy="-5.6">h</tspan></text><text x="486.8" y="135.6" text-anchor="middle">20<tspan font-size="10" dy="-5.6">h</tspan></text><text x="531" y="135.6" text-anchor="middle">22<tspan font-size="10" dy="-5.6">h</tspan></text></g>
<text x="191.8" y="13.4" font-size="13.8" text-anchor="end">75°</text>
<text x="132.4" y="34.5" font-size="13.8" text-anchor="end">60°</text>
<text x="90.6" y="59" font-size="13.8" text-anchor="end">45°</text>
<text x="61.6" y="86.6" font-size="13.8" text-anchor="end">30°</text>
<text x="44.9" y="115.7" font-size="13.8" text-anchor="end">15°</text>
<text x="39" y="145.7" font-size="13.8" text-anchor="end">0°</text>
<text x="45.2" y="175.4" font-size="13.8" text-anchor="end">-15°</text>
<text x="62.1" y="204.4" font-size="13.8" text-anchor="end">-30°</text>
<text x="90.1" y="231.4" font-size="13.8" text-anchor="end">-45°</text>
<text x="133.1" y="256.5" font-size="13.8" text-anchor="end">-60°</text>
<text x="191.4" y="277.5" font-size="13.8" text-anchor="end">-75°</text>
<text x="230" y="291.7" font-size="19" textLength="161" lengthAdjust="spacingAndGlyphs">Right Ascension (RA)</text>
<text transform="translate(14,208) rotate(-90)" font-size="19" textLength="134" lengthAdjust="spacingAndGlyphs">Declination (DEC)</text>
</g>
<path d="M45.5,141.6 A264.8,132.2 0 1,0 575.1,141.6 A264.8,132.2 0 1,0 45.5,141.6 Z" stroke="#222" stroke-width="1.15" fill="none"/>
<rect x="469.5" y="1.5" width="166.5" height="60.5" rx="2.5" fill="#fff" fill-opacity="0.8" stroke="#cccccc" stroke-width="1"/>
<circle cx="488.5" cy="12" r="1.55" fill="#8c8c8c" fill-opacity="0.62"/>
<path d="M488.6,26.1l3.1,5l-3.1,5l-3.1,-5z" fill="#ff7f0e"/>
<path d="M488.6,45 L489.8,48.6 L493.6,48.7 L490.6,51 L491.7,54.6 L488.6,52.4 L485.5,54.6 L486.6,51 L483.6,48.7 L487.4,48.6Z" fill="#1f77b4"/>
<g font-family="Liberation Serif" font-size="14.3" fill="#000">
<text x="513.6" y="16.3" textLength="82.5" lengthAdjust="spacingAndGlyphs">ATNF pulsars</text>
<text x="513.4" y="34.7" textLength="46" lengthAdjust="spacingAndGlyphs">Stokes I</text>
<text x="513.4" y="53.4" textLength="117" lengthAdjust="spacingAndGlyphs">Stokes I &amp; Stokes V</text>
</g>
</svg>
</body></html>
